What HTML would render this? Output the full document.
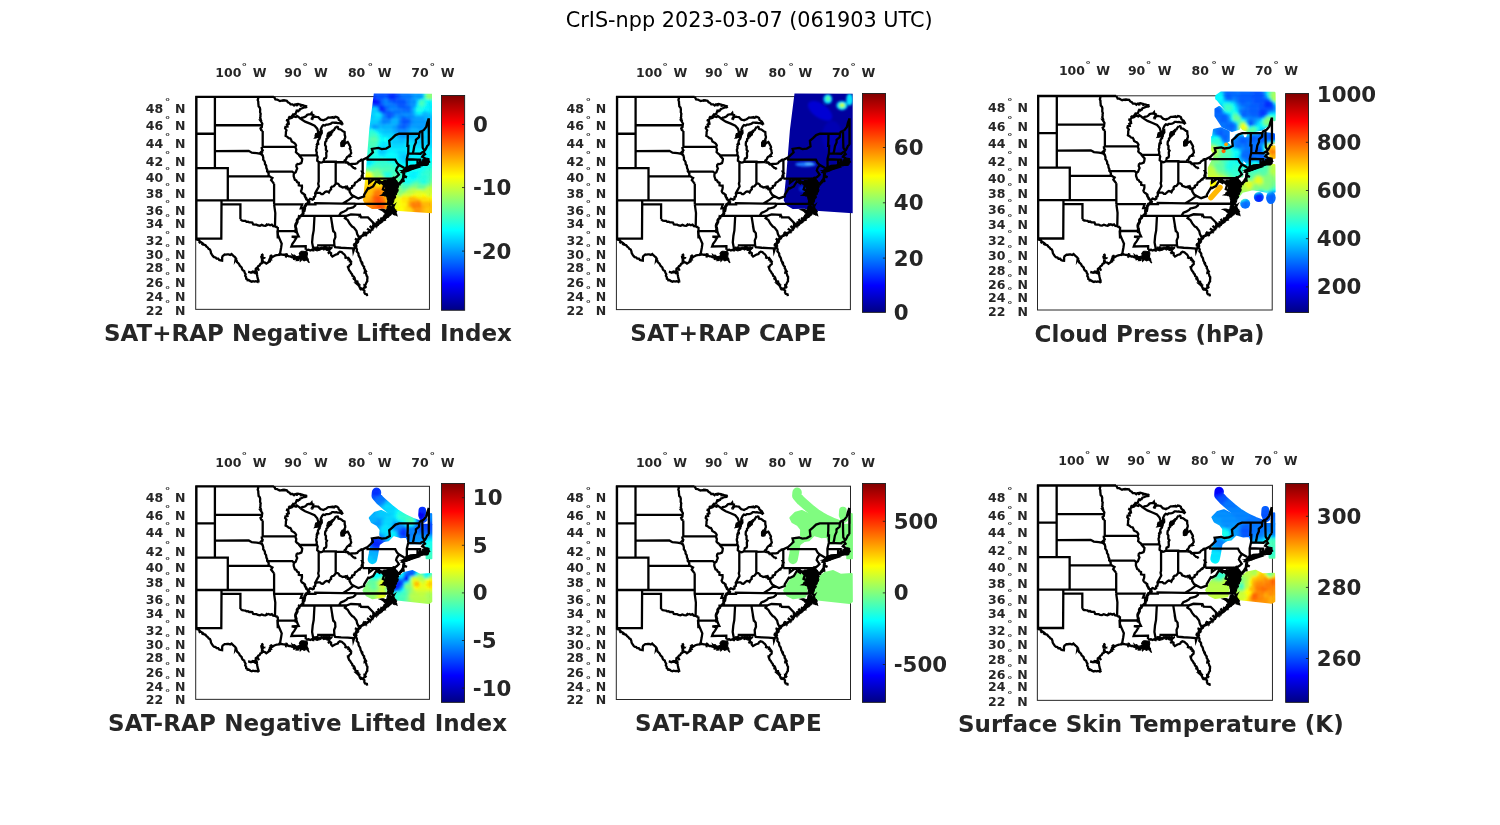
<!DOCTYPE html><html><head><meta charset="utf-8"><title>CrIS-npp 2023-03-07</title>
<style>html,body{margin:0;padding:0;background:#fff}svg{display:block}text{font-family:'DejaVu Sans','Liberation Sans',sans-serif;fill:#262626}.b{font-weight:bold}.l{font-weight:bold;font-size:12.5px}.t{font-weight:bold;font-size:21.33px}.d{font-weight:bold;font-size:8.8px;text-anchor:middle}</style></head><body>
<svg width="1500" height="825" viewBox="0 0 1500 825">
<defs><linearGradient id="jet" x1="0" y1="0" x2="0" y2="1"><stop offset="0.0000" stop-color="rgb(128,0,0)"/><stop offset="0.1270" stop-color="rgb(255,0,0)"/><stop offset="0.3770" stop-color="rgb(255,255,0)"/><stop offset="0.6270" stop-color="rgb(0,255,255)"/><stop offset="0.8770" stop-color="rgb(0,0,255)"/><stop offset="1.0000" stop-color="rgb(0,0,131)"/></linearGradient>
<path id="st" d="M0.0 143.3 L0.0 0.0 L77.5 0.0 M18.5 0.0 L18.5 71.2 M0.0 36.9 L18.5 36.9 M18.5 28.4 L65.6 28.4 M18.5 54.3 L52.3 54.0 L55.4 55.8 L60.4 56.3 L64.4 57.0 L66.6 59.0 M0.0 71.2 L31.4 71.2 L31.4 103.6 M31.4 79.5 L73.4 79.5 M0.0 103.6 L77.7 103.6 M25.1 103.6 L25.1 107.5 L24.9 141.7 L0.0 141.7 M77.7 107.5 L78.9 116.1 L78.6 129.4 M81.4 130.1 L81.4 141.7 L81.0 133.6 L81.3 137.6 L83.3 142.3 L85.3 146.9 L84.7 150.9 L83.7 156.3 L82.0 158.3 M81.4 134.2 L99.4 134.2 M65.3 50.0 L99.1 50.0 M70.5 74.7 L95.9 74.7 L97.8 76.4 M77.7 107.5 L105.8 107.5 L104.4 111.4 L108.6 111.4 M102.7 58.6 L120.6 58.6 M104.2 22.0 L108.7 24.8 L113.7 26.8 L118.2 28.8 L120.8 31.8 L122.0 35.8 L121.3 39.9 M126.9 64.9 L139.4 64.9 L139.4 65.4 L147.9 65.2 M122.3 65.2 L122.3 84.8 L121.8 86.8 L122.5 89.6 L120.9 92.5 L119.6 94.8 L118.7 96.4 L119.0 97.2 M139.3 65.4 L139.3 86.8 M166.3 81.8 L166.3 63.0 M166.3 81.8 L196.0 81.8 M166.3 63.0 L171.1 60.6 L171.1 62.8 L198.8 62.8 L200.6 66.2 L202.8 68.2 L201.6 69.6 L200.3 71.6 L199.7 73.7 L200.6 75.0 L202.5 77.8 L200.3 79.9 L198.3 81.1 L197.2 80.8 L196.0 81.8 M171.1 60.6 L176.5 55.6 L175.5 52.0 L182.1 51.1 L185.3 52.2 L189.7 51.7 L193.4 49.6 L192.8 43.9 L195.9 41.3 L199.1 38.2 L202.8 36.9 L222.9 36.8 L223.6 35.1 L225.6 34.2 L227.3 33.3 L229.8 30.2 L230.8 26.1 L232.4 21.5 M232.4 21.5 L232.4 47.8 M153.3 92.3 L153.2 94.8 L155.1 98.0 L157.2 99.3 L152.6 102.8 L146.4 106.7 M159.0 106.8 L146.4 106.7 L118.9 106.3 L119.0 107.5 L109.9 107.5 M159.0 106.8 L158.9 108.7 L156.7 110.6 L153.2 111.4 L151.3 111.8 L150.1 113.3 L147.6 114.7 L144.4 116.0 L142.4 119.2 M159.0 107.1 L195.5 107.1 M150.1 119.1 L104.9 119.1 M150.1 119.1 L148.5 121.4 L151.3 123.3 L153.2 126.7 L155.7 129.7 L157.3 130.5 L160.1 134.2 L160.8 137.2 L162.7 140.9 L164.2 141.5 M150.1 119.1 L154.5 117.6 L163.0 117.9 L163.1 118.8 L163.7 118.3 L164.7 120.5 L171.6 120.6 L178.7 127.8 M134.4 119.2 L137.0 135.2 L136.7 133.6 L138.7 136.3 L139.0 140.3 L137.7 143.6 L138.0 148.6 L138.7 150.4 L144.7 150.9 L151.3 151.3 L156.7 151.6 L157.0 154.3 L158.0 151.3 L159.0 150.3 M120.7 148.6 L138.0 148.6 M118.1 119.1 L117.3 133.6 L116.3 138.9 L115.7 145.6 L116.7 150.9 L118.0 153.6 M157.2 99.3 L162.0 101.6 L167.7 99.6 L167.7 98.0 L171.8 91.2 L172.7 91.6 L176.7 89.6 L179.9 84.4 L183.2 86.4 L183.9 85.0 M183.9 85.0 L180.9 81.9 L177.1 82.8 L172.8 86.0 L172.8 81.8 M183.9 85.0 L185.3 86.0 L187.8 88.4 L186.5 92.5 L189.0 93.7 L192.8 96.0 M196.0 81.8 L196.0 92.0 L200.6 92.0 M195.3 96.0 L199.4 95.4 M202.8 68.2 L207.9 71.2 M209.4 71.2 L210.5 69.6 L210.4 62.4 L211.8 56.5 L212.0 49.1 L211.0 49.1 L211.3 43.9 L211.4 36.8 M222.9 36.8 L222.6 40.4 L219.5 43.0 L219.5 45.7 L217.9 49.1 L217.0 54.3 L216.3 56.6 M211.8 56.5 L224.2 56.9 L224.5 56.5 L226.1 55.4 L227.2 55.4 M228.0 53.7 L226.3 50.9 L226.1 45.7 L225.9 34.2 M210.4 62.4 L221.1 62.7 L223.7 62.7 L223.7 63.7 L224.8 66.2 L225.3 67.0 M221.1 62.7 L221.1 67.9 L220.7 68.6 M232.4 47.8 L230.8 49.1 L229.8 51.3 L228.6 53.5 L228.0 53.7 L227.3 55.4 L228.6 57.3 L226.7 58.6 L225.8 59.9 L228.0 61.1 L228.3 63.3 L229.2 64.8 L232.4 64.7 M232.4 65.6 L228.3 66.9 L226.7 66.2 L228.0 65.1 L225.3 67.0 L223.6 67.5 L223.6 64.5 L222.9 68.1 L220.7 68.6 L214.1 69.1 L209.4 71.2 L208.5 72.9 L209.1 72.5 L217.9 70.0 L220.7 70.6 L207.6 74.7 L206.9 74.1 L205.7 75.4 L207.2 75.8 L206.6 81.5 L204.7 84.4 L201.6 88.2 L201.0 86.0 L198.4 84.0 L197.5 82.8 L198.3 81.1 M0.0 143.3 L0.0 142.7 L1.6 142.9 L2.8 143.7 L3.8 144.9 L2.4 146.2 L4.1 145.1 L5.1 145.7 L6.4 146.6 L5.4 148.2 L6.6 146.8 L7.5 147.8 L9.1 148.4 L10.1 149.7 L11.3 150.6 L12.2 152.0 L13.6 152.7 L14.3 154.4 L14.6 156.2 L15.5 157.8 L16.6 159.3 L17.6 160.3 L19.2 160.6 L20.2 161.8 L21.8 161.8 L22.8 163.1 L24.2 163.6 L25.7 163.8 L25.8 162.3 L25.7 160.7 L26.2 159.3 L28.2 157.7 L29.5 157.8 L30.9 157.6 L32.2 157.5 L33.8 158.1 L35.2 157.2 L36.2 158.3 L37.3 159.3 L38.4 160.1 L39.3 161.2 L39.1 162.9 L40.1 161.2 L39.3 163.2 L40.3 163.8 L40.6 165.3 L41.8 166.3 L42.8 167.4 L43.3 168.8 L44.3 169.7 L45.3 170.7 L45.6 172.2 L46.3 173.3 L47.8 174.2 L48.3 175.9 L49.2 177.3 L48.8 178.9 L49.7 180.3 L49.8 181.9 L51.3 182.7 L51.2 184.4 L51.6 182.9 L52.8 183.4 L54.0 184.3 L55.4 184.9 L56.6 184.3 L58.1 184.7 L59.4 184.4 L61.0 184.7 L62.4 185.7 M62.4 185.7 L62.1 184.4 L61.9 183.1 L61.4 181.9 L60.9 179.4 L60.6 177.6 L60.4 175.9 L58.9 176.3 L57.6 175.3 L57.1 173.7 L57.3 175.3 L56.2 174.7 L54.6 175.8 L53.2 175.4 L51.8 175.0 L53.2 175.2 L54.6 175.7 L55.9 175.3 L57.3 175.5 L58.6 174.9 L60.0 175.0 L59.3 173.5 L59.4 171.8 L60.9 170.8 L62.5 173.8 L61.1 170.6 L61.9 169.3 L63.3 168.5 L64.0 167.0 L65.4 166.3 L65.5 165.0 L65.6 163.6 L65.9 162.3 L65.6 160.9 L65.4 159.6 L65.9 158.3 L65.4 156.9 L66.2 158.2 L65.9 159.7 L63.9 160.1 L66.0 160.0 L66.9 161.0 L64.3 161.2 L67.0 161.3 L65.7 162.6 L66.2 164.0 L66.9 165.3 L68.6 165.7 L69.9 166.8 L72.0 165.3 L72.8 163.6 L73.8 165.5 L73.0 163.4 L74.5 162.8 L73.5 161.5 L74.5 159.8 L76.0 158.5 L74.4 159.5 L73.5 158.5 L74.4 159.6 L75.5 160.6 L77.5 159.3 L79.0 158.6 L80.5 158.2 L82.0 158.0 L83.5 157.7 M82.0 158.3 L83.5 157.8 L85.1 157.5 L86.7 157.9 L88.3 157.9 L89.6 159.2 L90.4 156.4 L89.9 159.3 L91.3 158.9 L92.6 159.6 L94.1 159.6 L95.3 160.3 L96.7 160.6 L97.8 161.7 L98.5 160.5 L98.1 161.8 L99.3 161.6 L100.8 162.9 L102.2 161.2 L101.0 163.0 L102.7 162.9 M100.0 133.6 L101.0 136.9 L102.3 139.6 L95.3 139.9 L100.0 140.9 L98.0 144.3 L96.0 146.9 L95.0 149.6 L109.3 149.3 L109.3 152.9 M109.3 152.9 L110.8 153.1 L112.3 152.9 L113.8 153.6 L115.3 152.9 L116.6 153.6 L118.0 153.6 M132.7 153.6 L133.2 155.3 L131.4 156.6 L133.4 155.5 L134.7 156.3 L134.7 158.2 L136.0 159.6 L137.3 158.9 L138.6 158.1 L140.0 157.6 L141.4 157.2 L142.0 155.9 L143.5 154.9 L145.3 155.3 L146.6 156.5 L148.0 157.6 L148.8 158.8 L149.3 160.2 L148.7 161.8 L149.5 160.5 L150.7 160.9 L152.2 161.6 L151.8 163.8 L152.5 161.8 L153.3 162.9 L154.2 164.2 L152.4 164.4 L154.3 164.5 L154.7 165.6 L154.6 167.3 L153.3 168.3 L152.3 169.8 L150.5 170.1 L152.2 170.1 L152.0 171.6 L152.7 173.4 L154.0 174.9 L154.6 176.3 L155.7 177.4 L156.0 178.9 L157.5 179.9 L158.1 181.4 L156.4 182.3 L158.3 181.6 L158.7 182.9 L159.1 184.4 L161.0 184.7 L161.3 186.3 L162.2 187.9 L164.0 188.6 L162.7 188.3 L161.8 187.1 L162.3 185.9 L161.5 187.0 L160.4 186.9 L161.7 188.0 L162.8 189.3 L163.4 190.9 L164.6 191.5 L163.4 192.9 L164.9 191.7 L165.6 192.5 L166.9 192.8 M159.0 150.3 L160.1 151.4 L160.6 152.7 L160.3 154.5 L161.3 155.6 L162.1 156.8 L162.1 158.4 L162.7 159.7 L163.6 160.9 L164.0 162.3 L164.2 163.7 L165.0 165.0 L165.4 166.3 L166.9 166.1 L165.5 166.6 L166.0 167.6 L166.7 168.9 L167.7 169.9 L167.6 171.4 L168.4 172.4 L168.6 173.8 L168.4 175.2 L170.5 173.9 L168.5 175.5 L169.3 176.3 L169.9 177.5 L170.2 178.9 L171.0 180.1 L171.0 181.6 L170.8 183.0 L170.9 184.4 L170.0 185.6 L169.4 187.2 L168.7 188.6 L168.9 187.9 L168.3 189.1 L170.0 190.9 L168.2 189.4 L168.3 190.5 L167.2 191.4 L166.9 192.8 M159.0 150.3 L160.0 149.1 L159.6 147.6 L160.0 146.3 L161.2 145.2 L161.7 143.5 L159.0 143.2 L161.8 143.3 L162.7 142.3 L163.8 141.6 L164.4 140.3 L165.4 139.4 L166.7 138.9 L167.9 138.3 L166.8 137.5 L168.1 138.2 L169.3 138.1 L167.9 135.2 L169.6 138.0 L170.1 136.9 L171.3 136.3 L172.4 134.9 L173.6 133.9 L170.7 131.8 L173.9 133.8 L175.3 133.6 M175.3 133.6 L175.6 131.9 L177.0 131.0 L177.3 129.5 L179.2 129.4 L176.3 126.0 L179.4 129.2 L179.5 128.0 L181.2 128.0 L180.1 124.5 L181.5 127.9 L182.5 126.9 L183.8 126.1 L181.5 122.2 L184.0 125.9 L185.1 125.2 L186.0 123.9 L187.2 123.2 L188.4 122.5 L189.0 121.1 L190.2 120.3 L191.6 119.9 L192.3 118.7 L193.3 117.8 L190.4 116.8 L193.5 117.5 L194.6 117.0 L194.7 115.4 L192.8 113.5 L194.8 115.1 L195.6 114.4 L196.8 115.2 L198.3 115.7 L198.9 112.5 L198.5 115.9 L199.0 117.1 L200.1 118.1 L199.4 116.9 L198.9 115.6 L196.3 117.5 L198.8 115.3 L198.6 114.2 L197.2 114.4 L198.5 113.9 L198.1 112.9 L197.3 111.5 L195.4 112.3 L197.2 111.2 L196.6 110.0 L196.6 108.3 L195.6 107.8 M208.0 75.8 L207.7 77.4 L206.4 77.1 L207.6 77.7 L207.8 79.0 L210.5 80.5 L207.7 79.3 L207.3 80.6 L206.9 81.8 L206.7 83.2 L205.6 84.1 L208.3 84.1 L205.5 84.4 L205.0 85.3 L203.5 86.6 L202.8 88.5 M166.9 192.8 L168.0 193.8 L167.9 195.7 L168.6 197.0 L170.5 197.5 L170.7 199.2 M25.1 107.5 L44.0 107.5 L44.0 122.5 M44.0 122.5 L45.8 123.8 L47.4 124.0 L49.0 124.1 L50.1 125.0 L51.6 124.8 L52.8 125.6 L54.3 125.6 L55.9 125.7 L56.8 127.6 L58.4 127.8 L60.1 127.8 L61.5 128.6 L63.5 128.9 L65.3 128.0 L67.1 128.7 L69.1 129.0 L70.6 128.2 L69.6 126.9 L70.9 128.1 L72.2 127.6 L73.8 128.4 L75.4 127.7 L76.7 129.2 L78.6 129.4 L79.9 130.2 L81.4 130.1 M93.6 21.1 L92.4 22.0 L91.7 23.7 L89.6 23.2 L91.7 24.0 L92.1 25.3 L90.8 26.1 L92.1 25.6 L92.4 27.0 L90.9 27.7 L90.0 26.8 L90.7 27.9 L91.1 29.7 L89.1 29.9 L88.7 31.5 L90.1 33.3 L89.5 35.0 L89.5 36.9 L89.2 39.1 L90.9 40.0 L92.3 41.3 L94.0 41.6 L94.8 43.0 L95.3 44.6 L96.7 45.4 L97.9 46.0 L98.9 47.0 L99.7 48.4 L99.1 50.0 L99.3 51.4 L99.9 52.6 L99.5 55.2 L100.8 56.6 L102.4 57.7 L102.7 58.5 L104.2 60.3 L105.8 62.0 L105.5 64.5 L104.9 66.2 L103.0 67.0 L101.5 67.3 L101.5 66.1 L101.2 67.4 L100.2 67.9 L99.9 69.6 L100.8 71.6 L99.9 73.7 L99.3 75.4 L97.8 76.4 L97.3 77.8 L97.3 79.5 L98.0 81.5 L98.5 83.0 L99.9 83.6 L100.7 85.2 L102.4 86.0 L102.4 88.4 L103.9 88.7 L105.5 88.8 L105.6 90.8 L105.3 92.5 L104.6 94.1 L105.1 95.4 L106.1 96.4 L107.4 97.2 L108.6 98.0 L108.8 99.8 L109.9 101.2 L110.5 102.8 L112.2 103.7 L112.6 105.3 L113.9 105.8 L112.6 105.6 L111.8 106.7 L109.9 107.5 L109.6 108.8 L108.6 109.8 L108.6 111.4 L108.3 112.8 L108.1 114.2 L107.1 115.2 L106.4 116.5 L106.1 117.9 L104.9 119.1 L103.4 119.8 L103.0 121.4 L101.7 122.3 L101.1 123.6 L101.1 125.2 L99.9 127.5 L99.2 128.9 L99.5 130.5 L100.1 132.4 L99.4 134.2 L100.0 136.1 M112.2 103.7 L113.7 102.0 L114.9 102.3 L116.2 102.8 L117.5 102.1 L117.4 100.3 L118.7 99.6 L119.0 97.2 L120.2 96.1 L121.8 96.0 L123.6 96.0 L125.0 97.2 L126.4 97.3 L127.5 96.4 L128.7 95.2 L130.0 94.5 L131.4 94.7 L132.5 95.6 L133.5 93.5 L134.7 92.5 L134.6 90.9 L135.6 89.8 L137.3 89.4 L138.4 88.2 L139.3 86.8 L141.3 86.8 L142.6 87.8 L143.2 89.2 L144.8 89.8 L146.3 90.6 L147.8 90.3 L149.4 90.7 L149.6 88.8 L149.7 90.6 L150.7 89.8 L151.6 91.5 L151.0 93.5 L151.8 91.7 L153.3 92.3 L154.4 91.4 L155.7 90.8 L155.7 89.2 L157.9 88.4 L158.6 86.0 L160.8 84.8 L161.8 83.7 L162.9 82.7 L163.5 84.1 L163.2 82.5 L164.2 81.9 L165.4 80.8 L165.2 79.2 L165.8 77.8 L166.3 76.1 L164.9 75.8 L166.3 75.8 L165.5 74.5 L166.3 74.2 M77.7 86.8 L76.8 85.8 L76.0 84.8 L74.7 83.2 L76.0 81.1 L74.6 80.4 L73.4 79.5 L72.1 78.6 L72.3 76.9 L71.7 75.6 L70.7 74.5 L70.8 72.8 L70.0 71.2 L69.7 68.7 L68.6 67.2 L68.5 65.4 L67.8 64.0 L66.8 62.8 L66.9 61.1 L66.3 58.7 L65.3 56.9 L65.1 55.0 L66.8 54.6 L65.1 54.7 L66.3 53.5 L65.4 51.8 L65.3 50.0 M77.7 107.5 L77.7 86.8 M66.3 50.0 L66.3 34.2 M66.3 34.2 L64.7 33.2 L64.1 31.5 L65.4 30.3 L65.6 28.4 L65.9 26.8 L65.1 25.4 L64.2 24.0 L65.6 24.3 L64.2 23.7 L64.4 22.4 L63.7 21.1 L64.1 19.7 L64.0 18.3 L64.3 16.9 L63.7 15.5 L63.7 14.1 L63.8 12.4 L63.4 10.8 L62.2 9.5 L62.1 7.9 L61.9 6.3 L61.9 4.8 L61.3 3.2 L61.8 1.6 L61.4 0.0 M104.2 22.0 L105.7 20.8 L107.1 20.6 L108.5 20.1 L109.7 19.2 L110.8 18.0 L112.4 17.6 L114.1 17.5 L115.2 16.2 L115.5 17.7 L116.9 18.2 L116.5 19.8 L115.7 21.3 L117.0 21.4 L115.6 21.6 L115.7 23.0 L116.1 21.5 L117.0 20.5 L118.2 19.7 L120.0 20.0 L121.8 20.2 L123.0 21.5 L124.3 22.8 L125.6 23.1 L127.0 23.5 L128.3 22.8 L129.6 22.4 L130.7 21.5 L131.9 20.7 L133.3 20.8 L134.7 20.6 L136.2 20.8 L135.9 19.3 L136.5 20.8 L137.6 21.0 L138.9 19.9 L140.4 20.2 L141.9 21.2 L142.4 23.0 L143.5 23.8 L144.7 24.6 L145.4 25.8 L146.4 27.8 M146.4 27.8 L145.2 27.1 L145.8 26.0 L144.9 27.0 L144.0 26.4 L142.6 26.2 L141.2 26.2 L139.9 25.8 L138.5 25.9 L137.2 25.7 L135.8 25.8 L134.5 26.8 L133.0 27.4 L131.5 27.7 L129.8 27.8 L128.6 28.7 L126.9 28.2 L125.8 29.3 L125.0 30.8 L124.3 32.3 L124.4 34.2 L123.3 35.8 L122.3 37.2 L122.0 38.9 M121.8 36.0 L120.5 37.1 L120.2 39.0 L119.3 40.4 L120.8 40.1 L121.6 38.8 L122.5 37.7 L123.6 36.9 L124.2 35.5 L125.3 34.6 L125.4 36.2 L124.6 37.4 L123.7 38.6 L123.3 40.1 L121.9 39.2 L123.2 40.4 L123.2 41.8 L122.1 43.0 L121.5 44.3 L121.5 45.7 L120.9 46.9 L122.9 46.7 L120.8 47.2 L120.9 48.3 L120.2 49.7 L120.4 51.3 L119.8 52.7 L119.9 54.3 L120.4 55.7 L120.2 57.2 L120.6 58.6 L121.3 60.2 L120.9 62.0 L120.8 63.8 L122.1 64.9 L124.3 65.8 L125.7 65.5 L126.9 64.9 M126.9 64.9 L127.4 63.4 L127.8 61.8 L129.6 61.0 L130.0 59.4 L129.9 57.7 L129.8 55.9 L130.6 54.3 L129.5 53.0 L129.5 51.4 L129.6 49.7 L128.7 48.3 L128.7 46.7 L128.9 45.2 L130.0 43.9 L130.0 42.3 L131.4 41.1 L131.3 39.5 L132.7 39.1 L133.5 37.9 L134.4 36.9 L135.6 35.1 L136.1 33.7 L137.6 33.2 L138.2 31.9 L139.7 29.9 M139.7 29.9 L141.4 30.2 L142.1 32.2 L143.8 32.4 L145.2 33.3 L146.6 34.5 L148.2 35.1 L148.3 36.6 L148.3 38.1 L148.8 39.5 L148.8 41.0 L148.1 42.4 L148.2 43.9 L146.9 44.4 L145.9 45.3 L146.4 47.2 L145.6 45.5 L145.1 46.5 L145.1 48.7 L146.9 48.3 L148.2 47.0 L149.7 45.9 L151.3 45.2 L152.1 46.5 L152.7 47.9 L153.5 49.1 L154.0 50.4 L153.4 51.8 L154.2 53.0 L154.4 54.3 L154.8 56.1 L153.9 57.7 L153.2 59.1 L151.7 58.5 L153.0 59.3 L151.8 59.5 L150.7 60.3 L150.0 61.5 L149.5 62.8 L148.2 63.7 L147.9 65.2 M110.7 9.7 L109.4 10.5 L107.8 10.6 L106.4 11.1 L105.1 11.7 L103.7 12.2 L103.0 13.5 L101.4 13.6 L102.5 14.9 L101.1 13.8 L100.1 14.3 L99.6 15.7 L99.1 17.1 L97.5 17.4 L96.4 18.1 L96.9 20.2 L96.2 18.3 L95.6 19.2 L94.6 20.3 L93.0 20.2 L92.1 21.3 M92.1 21.3 L93.9 21.5 L95.6 20.8 L96.7 19.8 L98.0 19.7 L99.6 20.2 L100.6 19.2 L102.1 20.2 L103.2 21.0 L104.2 22.0 M147.9 65.2 L149.3 65.7 L150.9 65.8 L152.0 67.0 L153.7 67.3 L155.3 67.0 L157.0 67.0 L158.9 67.0 L160.8 66.5 L162.0 64.9 L163.4 64.1 L164.8 63.4 L164.5 62.0 L165.0 63.3 L166.3 63.0 M77.5 0.1 L78.4 1.3 L79.0 2.6 L80.7 2.7 L82.1 3.5 L83.5 4.2 L85.2 3.7 L86.9 3.8 L87.2 2.4 L87.2 3.8 L88.6 3.6 L90.4 3.9 L91.5 5.4 L93.1 6.2 L94.2 7.6 L96.2 7.6 L97.6 8.7 L98.7 7.6 L100.2 7.5 L100.5 9.4 L100.5 7.4 L101.6 7.2 L103.0 7.6 L104.3 7.9 L104.7 9.9 L104.6 7.9 L105.7 8.2 L106.9 8.6 L108.1 9.1 L109.5 9.2 L110.7 9.7 M148.8 64.0 L149.6 65.2 L151.1 65.5 L152.2 66.3 L152.7 67.8 L154.5 67.8 L155.2 69.1 L156.2 70.1 L157.2 71.0 L158.7 71.3 L159.4 72.6 M174.8 133.1 L176.0 132.1 L173.4 129.1 L176.2 131.8 L176.5 130.5 L177.0 129.3 L175.7 128.9 L177.2 129.0 L178.3 128.6 L179.0 127.5 L180.4 126.5 L182.0 126.5 L183.1 125.3 L184.7 124.9 L183.5 123.7 L184.9 124.7 L185.5 123.5 L187.1 123.2 L183.9 121.2 L187.3 123.1 L188.0 122.2 L188.7 120.9 L187.4 120.1 L189.0 120.7 L189.8 120.0 L191.1 119.4 L192.3 118.7 L188.4 117.7 L192.5 118.4 L192.7 117.2 L194.0 116.5 L194.8 115.4 L190.6 115.0 L195.0 115.2 L195.1 113.9 L196.3 114.8 L196.9 112.2 L196.5 115.0 L197.5 115.7 L198.3 116.9 L199.9 113.8 L198.6 117.1 L199.6 117.6 L199.2 116.3 L196.3 117.4 L199.1 116.0 L199.1 114.8 L196.5 114.4 L199.0 114.5 L197.5 114.0 L193.8 113.4 L197.3 113.7 L197.6 112.4 L196.5 111.1 L193.5 112.0 L196.4 110.8 L197.2 109.2 L195.9 110.2 L197.1 108.9 L196.1 107.9 L195.1 107.4 M158.5 149.8 L158.3 148.4 L156.6 148.5 L158.4 148.1 L159.4 147.2 L157.1 147.5 L159.5 146.9 L159.5 145.8 L161.0 144.9 L159.1 143.9 L161.1 144.6 L161.7 143.4 L158.5 141.9 L161.9 143.2 L162.2 141.8 L162.9 140.7 L163.7 139.6 L165.0 139.1 L166.2 138.5 L167.3 137.8 L166.0 136.9 L167.6 137.6 L168.2 136.7 L166.7 135.3 L168.5 136.5 L169.8 136.7 L168.1 135.7 L170.1 136.6 L170.8 135.8 L172.3 135.1 L173.9 134.6 L173.6 132.6 L174.1 134.4 L174.8 133.2 M105.5 96.2 L106.9 96.7 L108.0 97.8 L108.4 99.5 L109.3 101.0 L109.9 102.5 L111.6 103.5 L111.6 105.0 L111.2 106.5 L109.3 107.2 L108.8 108.5 L108.0 109.6 L108.0 111.1 L107.0 112.2 L106.4 113.5 L106.4 115.0 L106.6 116.6 L105.3 116.3 L106.5 116.9 L105.5 117.7 L104.2 118.9 L102.8 119.6 L104.0 121.0 L102.6 119.8 L102.4 121.2 L101.1 122.1 L100.4 123.4 L100.5 125.0 L99.2 127.2 L98.8 128.7 L98.9 130.3 L99.4 132.2 L98.8 134.0 L99.3 135.9" fill="none" stroke="#000" stroke-width="2.3" stroke-linejoin="miter" stroke-miterlimit="5" stroke-linecap="butt"/>
<path id="bl" d="M103.8 155.4 L105.1 154.4 L106.7 154.4 L108.7 154.6 L110.6 154.9 L111.1 156.8 L110.6 159.2 L110.8 160.8 L111.8 162.1 L111.9 163.5 L112.3 164.8 L113.0 166.0 L111.8 165.1 L111.0 163.7 L109.6 163.1 L107.7 164.0 L105.8 162.6 L104.8 163.5 L103.8 164.5 L103.4 162.1 L101.0 161.9 L99.3 161.8 L98.1 160.7 L97.1 159.7 L95.8 159.0 L95.4 157.5 L96.6 158.5 L98.1 158.2 L99.5 159.6 L101.4 159.7 L103.8 158.7 L102.9 156.8 L103.8 155.4Z M118.3 150.3 L119.7 150.4 L121.0 149.8 L122.3 151.0 L123.7 150.9 L125.0 150.2 L126.3 150.5 L127.7 149.8 L129.0 149.8 L130.3 149.9 L131.7 150.6 L133.0 149.8 L134.3 151.0 L135.7 150.3 L135.7 151.1 L134.5 152.3 L133.0 153.6 L131.4 153.9 L130.0 153.3 L128.7 152.5 L127.4 153.2 L126.0 152.2 L124.7 152.7 L123.4 153.3 L122.0 153.6 L120.7 154.0 L118.4 153.2 L118.1 151.7 L118.3 150.3Z M191.2 109.1 L192.9 108.5 L194.6 109.1 L195.2 110.4 L196.4 111.3 L196.4 113.0 L197.2 114.2 L198.1 115.3 L198.5 116.7 L199.3 117.8 L198.3 117.0 L196.8 116.8 L196.2 115.4 L195.1 114.6 L194.2 115.8 L193.5 117.1 L192.2 118.1 L191.9 119.7 L190.6 120.1 L189.8 121.3 L188.8 122.3 L187.7 123.1 L186.3 123.4 L184.6 124.4 L183.5 126.0 L182.2 124.8 L183.4 123.9 L184.4 122.8 L185.2 121.6 L186.3 120.6 L187.1 119.6 L187.6 118.3 L188.8 117.5 L189.6 116.5 L188.1 116.2 L187.2 114.8 L186.1 114.1 L184.9 113.3 L183.5 112.8 L185.2 112.5 L186.8 112.4 L188.4 112.9 L190.0 113.2 L190.7 111.9 L190.8 110.4 L191.2 109.1Z M184.7 84.4 L186.2 84.7 L187.5 83.6 L189.0 83.7 L190.4 83.4 L191.7 82.7 L193.2 82.0 L194.7 81.4 L196.4 81.8 L198.8 81.9 L199.3 83.2 L200.5 84.1 L200.8 85.4 L201.2 86.7 L201.1 88.5 L202.2 90.0 L201.2 91.3 L201.8 93.2 L201.4 94.7 L200.3 96.1 L200.1 97.5 L198.7 98.5 L199.3 100.3 L198.4 101.5 L197.5 102.6 L197.3 104.4 L196.6 106.0 L195.4 107.3 L194.1 107.3 L192.8 107.8 L191.5 107.3 L191.2 105.6 L191.5 103.8 L190.9 102.2 L190.7 100.5 L189.8 99.2 L188.5 99.1 L187.3 98.4 L186.0 98.5 L184.7 98.4 L186.2 97.7 L186.9 95.9 L188.4 95.1 L188.7 93.2 L189.3 91.4 L188.7 90.0 L188.4 88.4 L187.0 87.4 L186.0 85.8 L184.7 84.4Z M204.7 73.8 L206.4 73.4 L207.7 72.4 L208.7 71.0 L210.1 70.9 L211.2 69.8 L212.7 69.8 L214.0 69.4 L215.4 69.8 L216.7 69.7 L218.0 69.1 L219.2 68.1 L220.6 68.0 L222.1 68.8 L223.2 67.4 L224.7 67.7 L226.0 68.0 L227.3 67.5 L228.7 67.7 L230.7 68.6 L229.2 68.5 L227.6 68.3 L226.2 68.8 L224.7 69.0 L223.4 69.6 L222.1 70.2 L220.6 70.3 L219.3 70.8 L218.0 71.5 L216.7 72.2 L215.4 72.7 L214.0 73.1 L212.8 74.1 L211.3 74.3 L209.8 75.1 L208.1 75.0 L206.4 74.3 L204.7 73.8Z M226.0 62.9 L227.7 62.6 L228.8 61.3 L230.7 61.4 L232.6 61.9 L232.6 63.6 L233.4 65.1 L232.1 65.8 L232.0 67.5 L231.0 68.4 L229.5 67.1 L227.7 66.5 L225.5 65.4 L226.0 62.9Z M119.3 36.6 L121.2 36.4 L123.0 35.5 L123.1 37.2 L124.3 38.5 L124.3 40.2 L123.0 41.2 L121.2 40.4 L119.3 40.9 L118.6 39.0 L119.3 36.6Z M131.0 36.6 L132.1 35.4 L133.7 35.0 L134.9 34.1 L136.7 35.0 L135.3 36.3 L135.3 38.2 L133.9 39.0 L132.9 40.2 L130.5 39.6 L130.7 38.1 L131.0 36.6Z M145.4 44.6 L146.8 43.4 L148.6 43.2 L148.5 44.7 L149.3 45.9 L148.1 47.4 L148.1 49.2 L146.8 49.7 L145.4 49.8 L144.6 48.5 L144.5 47.1 L144.5 45.7 L145.4 44.6Z" fill="#000" stroke="#000" stroke-width="1.1" stroke-linejoin="miter" stroke-miterlimit="5"/>
<filter id="bl1" x="-10%" y="-10%" width="120%" height="120%"><feGaussianBlur stdDeviation="1.3"/></filter><filter id="bl0" x="-10%" y="-10%" width="120%" height="120%"><feGaussianBlur stdDeviation="0.5"/></filter><clipPath id="cq"><polygon points="177.4,-3.4 235.6,-3.2 235.6,116.3 198.6,113.8 187.1,111.8 175.6,112.2 169.6,108.7 166.6,103.7 169.4,75.2 172.8,33.2" fill="#fff"/></clipPath><mask id="m456" maskUnits="userSpaceOnUse" x="150" y="-10" width="100" height="140"><g filter="url(#bl0)"><polyline points="180.1,5.9 179.8,9.5 184.1,14.4 189.5,19.2 194.4,23.4 199.2,27.1 204.1,30.1 209.5,33.1 215.0,35.6 221.0,38.0" fill="none" stroke="#fff" stroke-width="9.4" stroke-linecap="round" stroke-linejoin="round"/><polygon points="173.6,31.6 178.6,26.6 184.7,24.8 190.5,27.6 200.4,32.5 212.5,37.4 218.6,40.4 201.6,39.0 194.4,42.2 191.9,48.6 184.1,48.6 184.7,43.4 181.0,38.6 175.6,35.6" fill="#fff"/><polyline points="173.6,31.6 178.6,26.6 184.7,24.8 190.5,27.6 200.4,32.5 212.5,37.4 218.6,40.4 201.6,39.0 194.4,42.2 191.9,48.6 184.1,48.6 184.7,43.4 181.0,38.6 175.6,35.6 173.6,31.6" fill="none" stroke="#fff" stroke-width="2.5" stroke-linecap="round" stroke-linejoin="round"/><polygon points="184.0,38.0 235.2,38.0 235.2,72.0 230.0,72.0 229.5,57.0 212.5,57.0 210.0,50.5 204.0,51.0 197.0,49.0 192.0,54.0 186.0,55.0 184.0,47.5" fill="#fff"/><polyline points="184.0,38.0 235.2,38.0 235.2,72.0 230.0,72.0 229.5,57.0 212.5,57.0 210.0,50.5 204.0,51.0 197.0,49.0 192.0,54.0 186.0,55.0 184.0,47.5 184.0,38.0" fill="none" stroke="#fff" stroke-width="1.5" stroke-linecap="round" stroke-linejoin="round"/><polyline points="195.6,45.9 176.2,59.8" fill="none" stroke="#fff" stroke-width="6.5" stroke-linecap="round" stroke-linejoin="round"/><polyline points="179.0,56.0 178.0,62.0 177.0,68.0 176.0,73.0" fill="none" stroke="#fff" stroke-width="9.5" stroke-linecap="round" stroke-linejoin="round"/><polyline points="225.9,24.1 225.6,28.9 227.1,32.5" fill="none" stroke="#fff" stroke-width="7.6" stroke-linecap="round" stroke-linejoin="round"/><polyline points="234.6,27.7 234.7,38.0" fill="none" stroke="#fff" stroke-width="2.4" stroke-linecap="round" stroke-linejoin="round"/><polygon points="167.1,104.1 171.3,96.8 176.2,90.7 181.0,87.1 186.5,88.9 189.5,93.8 189.5,105.3 188.3,110.1 176.2,111.9 170.1,108.9" fill="#fff"/><polyline points="167.1,104.1 171.3,96.8 176.2,90.7 181.0,87.1 186.5,88.9 189.5,93.8 189.5,105.3 188.3,110.1 176.2,111.9 170.1,108.9 167.1,104.1" fill="none" stroke="#fff" stroke-width="2" stroke-linecap="round" stroke-linejoin="round"/><polygon points="196.8,102.8 202.8,90.7 207.7,86.5 216.2,84.7 223.5,88.3 234.7,87.7 234.9,115.0 232.6,116.5 200.4,113.1 196.8,107.7" fill="#fff"/><polyline points="196.8,102.8 202.8,90.7 207.7,86.5 216.2,84.7 223.5,88.3 234.7,87.7 234.9,115.0 232.6,116.5 200.4,113.1 196.8,107.7 196.8,102.8" fill="none" stroke="#fff" stroke-width="2" stroke-linecap="round" stroke-linejoin="round"/></g></mask><mask id="m3" maskUnits="userSpaceOnUse" x="150" y="-15" width="100" height="140"><g filter="url(#bl0)"><polygon points="178.3,0.0 182.8,-3.2 236.1,-2.9 236.2,2.7 236.2,24.0 233.5,21.9 229.7,29.3 222.8,33.6 210.5,36.0 204.1,26.1 196.7,17.6 184.4,5.9 178.3,2.7" fill="#fff"/><polyline points="178.3,0.0 182.8,-3.2 236.1,-2.9 236.2,2.7 236.2,24.0 233.5,21.9 229.7,29.3 222.8,33.6 210.5,36.0 204.1,26.1 196.7,17.6 184.4,5.9 178.3,2.7 178.3,0.0" fill="none" stroke="#fff" stroke-width="2.5" stroke-linecap="round" stroke-linejoin="round"/><polygon points="177.5,13.3 181.2,11.2 188.1,17.1 198.8,26.1 200.9,32.5 193.5,34.7 184.4,30.4 177.5,19.7" fill="#fff"/><polyline points="177.5,13.3 181.2,11.2 188.1,17.1 198.8,26.1 200.9,32.5 193.5,34.7 184.4,30.4 177.5,19.7 177.5,13.3" fill="none" stroke="#fff" stroke-width="2.5" stroke-linecap="round" stroke-linejoin="round"/><polyline points="181.2,1.6 189.2,11.7 198.8,21.9 206.3,30.9 213.7,33.6" fill="none" stroke="#fff" stroke-width="7.5" stroke-linecap="round" stroke-linejoin="round"/><polygon points="176.0,34.0 183.0,32.6 190.3,36.0 190.3,44.8 181.0,44.8 175.1,40.0" fill="#fff"/><polyline points="176.0,34.0 183.0,32.6 190.3,36.0 190.3,44.8 181.0,44.8 175.1,40.0 176.0,34.0" fill="none" stroke="#fff" stroke-width="2.5" stroke-linecap="round" stroke-linejoin="round"/><polygon points="173.9,41.1 181.2,39.9 189.1,47.2 195.7,53.2 204.2,58.1 204.2,80.5 170.5,80.5 170.5,72.0 173.9,65.4 177.0,59.3 173.9,54.5" fill="#fff"/><polyline points="173.9,41.1 181.2,39.9 189.1,47.2 195.7,53.2 204.2,58.1 204.2,80.5 170.5,80.5 170.5,72.0 173.9,65.4 177.0,59.3 173.9,54.5 173.9,41.1" fill="none" stroke="#fff" stroke-width="2" stroke-linecap="round" stroke-linejoin="round"/><polygon points="198.2,38.7 204.0,37.5 205.5,42.0 208.5,42.0 210.0,37.3 228.5,36.9 236.0,38.1 236.2,47.2 230.3,49.6 228.5,67.8 210.3,69.0 204.2,62.9 193.3,57.5 195.7,50.2 193.3,46.0" fill="#fff"/><polyline points="198.2,38.7 204.0,37.5 205.5,42.0 208.5,42.0 210.0,37.3 228.5,36.9 236.0,38.1 236.2,47.2 230.3,49.6 228.5,67.8 210.3,69.0 204.2,62.9 193.3,57.5 195.7,50.2 193.3,46.0 198.2,38.7" fill="none" stroke="#fff" stroke-width="1.5" stroke-linecap="round" stroke-linejoin="round"/><polygon points="231.5,50.8 236.2,50.3 236.4,61.7 231.5,62.7" fill="#fff"/><polyline points="231.5,50.8 236.2,50.3 236.4,61.7 231.5,62.7 231.5,50.8" fill="none" stroke="#fff" stroke-width="2" stroke-linecap="round" stroke-linejoin="round"/><polygon points="204.2,69.0 236.2,69.0 236.4,95.7 228.5,95.7 214.5,93.2 204.2,95.7 198.2,103.0 200.6,93.2 205.4,87.2 210.3,78.1" fill="#fff"/><polyline points="204.2,69.0 236.2,69.0 236.4,95.7 228.5,95.7 214.5,93.2 204.2,95.7 198.2,103.0 200.6,93.2 205.4,87.2 210.3,78.1 204.2,69.0" fill="none" stroke="#fff" stroke-width="2" stroke-linecap="round" stroke-linejoin="round"/><polygon points="172.7,86.0 177.6,86.0 177.6,89.6 172.7,89.6" fill="#fff"/><polyline points="172.7,86.0 177.6,86.0 177.6,89.6 172.7,89.6 172.7,86.0" fill="none" stroke="#fff" stroke-width="2" stroke-linecap="round" stroke-linejoin="round"/><polyline points="181.8,91.4 172.7,101.7" fill="none" stroke="#fff" stroke-width="5.5" stroke-linecap="round" stroke-linejoin="round"/><circle cx="207" cy="107.8" r="5" fill="#fff"/><circle cx="220.6" cy="101.1" r="5" fill="#fff"/><ellipse cx="232.7" cy="101.7" rx="4.8" ry="6.4" fill="#fff"/></g></mask>
</defs>
<rect width="1500" height="825" fill="#fff"/>
<text x="749.2" y="26.7" text-anchor="middle" font-size="20.8" style="fill:#000">CrIS-npp 2023-03-07 (061903 UTC)</text>
<rect x="195.70" y="96.60" width="233.75" height="212.75" fill="none" stroke="#262626" stroke-width="1"/>
<g transform="translate(196.40,96.85) scale(1)">
<g clip-path="url(#cq)"><g filter="url(#bl1)"><rect x="160" y="-10" width="2.9" height="2.9" fill="#0082ff"/><rect x="162.5" y="-10" width="5.4" height="2.9" fill="#0075ff"/><rect x="167.5" y="-10" width="2.9" height="2.9" fill="#0069ff"/><rect x="170" y="-10" width="7.9" height="2.9" fill="#005dff"/><rect x="177.5" y="-10" width="22.9" height="2.9" fill="#0051ff"/><rect x="200" y="-10" width="2.9" height="2.9" fill="#005dff"/><rect x="202.5" y="-10" width="2.9" height="2.9" fill="#0069ff"/><rect x="205" y="-10" width="2.9" height="2.9" fill="#0075ff"/><rect x="207.5" y="-10" width="5.4" height="2.9" fill="#0082ff"/><rect x="212.5" y="-10" width="2.9" height="2.9" fill="#008eff"/><rect x="215" y="-10" width="2.9" height="2.9" fill="#009aff"/><rect x="217.5" y="-10" width="2.9" height="2.9" fill="#00a6ff"/><rect x="220" y="-10" width="2.9" height="2.9" fill="#00b2ff"/><rect x="222.5" y="-10" width="2.9" height="2.9" fill="#00cbff"/><rect x="225" y="-10" width="2.9" height="2.9" fill="#00e3ff"/><rect x="227.5" y="-10" width="2.9" height="2.9" fill="#09fff6"/><rect x="230" y="-10" width="2.9" height="2.9" fill="#2effd1"/><rect x="232.5" y="-10" width="5.4" height="2.9" fill="#46ffb9"/><rect x="237.5" y="-10" width="2.9" height="2.9" fill="#3affc5"/><rect x="240" y="-10" width="2.9" height="2.9" fill="#2effd1"/><rect x="160" y="-7.5" width="2.9" height="2.9" fill="#0082ff"/><rect x="162.5" y="-7.5" width="2.9" height="2.9" fill="#0075ff"/><rect x="165" y="-7.5" width="5.4" height="2.9" fill="#0069ff"/><rect x="170" y="-7.5" width="2.9" height="2.9" fill="#005dff"/><rect x="172.5" y="-7.5" width="17.9" height="2.9" fill="#0051ff"/><rect x="190" y="-7.5" width="5.4" height="2.9" fill="#0044ff"/><rect x="195" y="-7.5" width="2.9" height="2.9" fill="#0038ff"/><rect x="197.5" y="-7.5" width="2.9" height="2.9" fill="#0044ff"/><rect x="200" y="-7.5" width="2.9" height="2.9" fill="#0051ff"/><rect x="202.5" y="-7.5" width="2.9" height="2.9" fill="#0069ff"/><rect x="205" y="-7.5" width="5.4" height="2.9" fill="#0075ff"/><rect x="210" y="-7.5" width="5.4" height="2.9" fill="#0082ff"/><rect x="215" y="-7.5" width="2.9" height="2.9" fill="#009aff"/><rect x="217.5" y="-7.5" width="2.9" height="2.9" fill="#00a6ff"/><rect x="220" y="-7.5" width="5.4" height="2.9" fill="#00b2ff"/><rect x="225" y="-7.5" width="2.9" height="2.9" fill="#00d7ff"/><rect x="227.5" y="-7.5" width="2.9" height="2.9" fill="#22ffdd"/><rect x="230" y="-7.5" width="2.9" height="2.9" fill="#53ffac"/><rect x="232.5" y="-7.5" width="2.9" height="2.9" fill="#6bff94"/><rect x="235" y="-7.5" width="2.9" height="2.9" fill="#5fffa0"/><rect x="237.5" y="-7.5" width="2.9" height="2.9" fill="#53ffac"/><rect x="240" y="-7.5" width="2.9" height="2.9" fill="#3affc5"/><rect x="160" y="-5" width="2.9" height="2.9" fill="#0082ff"/><rect x="162.5" y="-5" width="2.9" height="2.9" fill="#0075ff"/><rect x="165" y="-5" width="2.9" height="2.9" fill="#0069ff"/><rect x="167.5" y="-5" width="5.4" height="2.9" fill="#005dff"/><rect x="172.5" y="-5" width="17.9" height="2.9" fill="#0051ff"/><rect x="190" y="-5" width="2.9" height="2.9" fill="#0044ff"/><rect x="192.5" y="-5" width="2.9" height="2.9" fill="#0038ff"/><rect x="195" y="-5" width="2.9" height="2.9" fill="#002cff"/><rect x="197.5" y="-5" width="2.9" height="2.9" fill="#0038ff"/><rect x="200" y="-5" width="2.9" height="2.9" fill="#0051ff"/><rect x="202.5" y="-5" width="2.9" height="2.9" fill="#0069ff"/><rect x="205" y="-5" width="7.9" height="2.9" fill="#0075ff"/><rect x="212.5" y="-5" width="2.9" height="2.9" fill="#0082ff"/><rect x="215" y="-5" width="2.9" height="2.9" fill="#008eff"/><rect x="217.5" y="-5" width="2.9" height="2.9" fill="#00a6ff"/><rect x="220" y="-5" width="5.4" height="2.9" fill="#009aff"/><rect x="225" y="-5" width="2.9" height="2.9" fill="#00bfff"/><rect x="227.5" y="-5" width="2.9" height="2.9" fill="#2effd1"/><rect x="230" y="-5" width="2.9" height="2.9" fill="#77ff88"/><rect x="232.5" y="-5" width="2.9" height="2.9" fill="#84ff7b"/><rect x="235" y="-5" width="2.9" height="2.9" fill="#77ff88"/><rect x="237.5" y="-5" width="2.9" height="2.9" fill="#5fffa0"/><rect x="240" y="-5" width="2.9" height="2.9" fill="#46ffb9"/><rect x="160" y="-2.5" width="2.9" height="2.9" fill="#0082ff"/><rect x="162.5" y="-2.5" width="2.9" height="2.9" fill="#0075ff"/><rect x="165" y="-2.5" width="2.9" height="2.9" fill="#0069ff"/><rect x="167.5" y="-2.5" width="2.9" height="2.9" fill="#005dff"/><rect x="170" y="-2.5" width="2.9" height="2.9" fill="#0051ff"/><rect x="172.5" y="-2.5" width="7.9" height="2.9" fill="#0044ff"/><rect x="180" y="-2.5" width="10.4" height="2.9" fill="#0051ff"/><rect x="190" y="-2.5" width="2.9" height="2.9" fill="#0044ff"/><rect x="192.5" y="-2.5" width="5.4" height="2.9" fill="#002cff"/><rect x="197.5" y="-2.5" width="2.9" height="2.9" fill="#0038ff"/><rect x="200" y="-2.5" width="2.9" height="2.9" fill="#0044ff"/><rect x="202.5" y="-2.5" width="2.9" height="2.9" fill="#005dff"/><rect x="205" y="-2.5" width="10.4" height="2.9" fill="#0075ff"/><rect x="215" y="-2.5" width="2.9" height="2.9" fill="#008eff"/><rect x="217.5" y="-2.5" width="7.9" height="2.9" fill="#009aff"/><rect x="225" y="-2.5" width="2.9" height="2.9" fill="#00a6ff"/><rect x="227.5" y="-2.5" width="2.9" height="2.9" fill="#46ffb9"/><rect x="230" y="-2.5" width="5.4" height="2.9" fill="#90ff6f"/><rect x="235" y="-2.5" width="2.9" height="2.9" fill="#84ff7b"/><rect x="237.5" y="-2.5" width="2.9" height="2.9" fill="#5fffa0"/><rect x="240" y="-2.5" width="2.9" height="2.9" fill="#46ffb9"/><rect x="160" y="0" width="2.9" height="2.9" fill="#0082ff"/><rect x="162.5" y="0" width="2.9" height="2.9" fill="#0075ff"/><rect x="165" y="0" width="2.9" height="2.9" fill="#0069ff"/><rect x="167.5" y="0" width="2.9" height="2.9" fill="#005dff"/><rect x="170" y="0" width="2.9" height="2.9" fill="#0051ff"/><rect x="172.5" y="0" width="2.9" height="2.9" fill="#0038ff"/><rect x="175" y="0" width="2.9" height="2.9" fill="#002cff"/><rect x="177.5" y="0" width="2.9" height="2.9" fill="#0038ff"/><rect x="180" y="0" width="7.9" height="2.9" fill="#0051ff"/><rect x="187.5" y="0" width="2.9" height="2.9" fill="#0069ff"/><rect x="190" y="0" width="2.9" height="2.9" fill="#0051ff"/><rect x="192.5" y="0" width="5.4" height="2.9" fill="#002cff"/><rect x="197.5" y="0" width="2.9" height="2.9" fill="#0038ff"/><rect x="200" y="0" width="2.9" height="2.9" fill="#0051ff"/><rect x="202.5" y="0" width="2.9" height="2.9" fill="#005dff"/><rect x="205" y="0" width="2.9" height="2.9" fill="#0069ff"/><rect x="207.5" y="0" width="7.9" height="2.9" fill="#0075ff"/><rect x="215" y="0" width="2.9" height="2.9" fill="#008eff"/><rect x="217.5" y="0" width="2.9" height="2.9" fill="#00a6ff"/><rect x="220" y="0" width="5.4" height="2.9" fill="#009aff"/><rect x="225" y="0" width="2.9" height="2.9" fill="#00bfff"/><rect x="227.5" y="0" width="2.9" height="2.9" fill="#3affc5"/><rect x="230" y="0" width="2.9" height="2.9" fill="#84ff7b"/><rect x="232.5" y="0" width="2.9" height="2.9" fill="#90ff6f"/><rect x="235" y="0" width="2.9" height="2.9" fill="#6bff94"/><rect x="237.5" y="0" width="2.9" height="2.9" fill="#46ffb9"/><rect x="240" y="0" width="2.9" height="2.9" fill="#2effd1"/><rect x="160" y="2.5" width="5.4" height="2.9" fill="#0082ff"/><rect x="165" y="2.5" width="2.9" height="2.9" fill="#0075ff"/><rect x="167.5" y="2.5" width="2.9" height="2.9" fill="#005dff"/><rect x="170" y="2.5" width="2.9" height="2.9" fill="#0051ff"/><rect x="172.5" y="2.5" width="2.9" height="2.9" fill="#0038ff"/><rect x="175" y="2.5" width="2.9" height="2.9" fill="#0013ff"/><rect x="177.5" y="2.5" width="2.9" height="2.9" fill="#0007ff"/><rect x="180" y="2.5" width="2.9" height="2.9" fill="#0020ff"/><rect x="182.5" y="2.5" width="2.9" height="2.9" fill="#0044ff"/><rect x="185" y="2.5" width="2.9" height="2.9" fill="#0069ff"/><rect x="187.5" y="2.5" width="2.9" height="2.9" fill="#0082ff"/><rect x="190" y="2.5" width="2.9" height="2.9" fill="#0075ff"/><rect x="192.5" y="2.5" width="2.9" height="2.9" fill="#0051ff"/><rect x="195" y="2.5" width="5.4" height="2.9" fill="#0044ff"/><rect x="200" y="2.5" width="7.9" height="2.9" fill="#0051ff"/><rect x="207.5" y="2.5" width="2.9" height="2.9" fill="#005dff"/><rect x="210" y="2.5" width="2.9" height="2.9" fill="#0075ff"/><rect x="212.5" y="2.5" width="2.9" height="2.9" fill="#0082ff"/><rect x="215" y="2.5" width="5.4" height="2.9" fill="#008eff"/><rect x="220" y="2.5" width="2.9" height="2.9" fill="#00cbff"/><rect x="222.5" y="2.5" width="2.9" height="2.9" fill="#22ffdd"/><rect x="225" y="2.5" width="2.9" height="2.9" fill="#3affc5"/><rect x="227.5" y="2.5" width="2.9" height="2.9" fill="#22ffdd"/><rect x="230" y="2.5" width="5.4" height="2.9" fill="#09fff6"/><rect x="235" y="2.5" width="5.4" height="2.9" fill="#22ffdd"/><rect x="240" y="2.5" width="2.9" height="2.9" fill="#15ffea"/><rect x="160" y="5" width="2.9" height="2.9" fill="#008eff"/><rect x="162.5" y="5" width="2.9" height="2.9" fill="#0082ff"/><rect x="165" y="5" width="2.9" height="2.9" fill="#0075ff"/><rect x="167.5" y="5" width="2.9" height="2.9" fill="#0069ff"/><rect x="170" y="5" width="2.9" height="2.9" fill="#005dff"/><rect x="172.5" y="5" width="2.9" height="2.9" fill="#0038ff"/><rect x="175" y="5" width="2.9" height="2.9" fill="#0013ff"/><rect x="177.5" y="5" width="5.4" height="2.9" fill="#0007ff"/><rect x="182.5" y="5" width="2.9" height="2.9" fill="#0038ff"/><rect x="185" y="5" width="2.9" height="2.9" fill="#0069ff"/><rect x="187.5" y="5" width="5.4" height="2.9" fill="#0082ff"/><rect x="192.5" y="5" width="2.9" height="2.9" fill="#0075ff"/><rect x="195" y="5" width="2.9" height="2.9" fill="#0069ff"/><rect x="197.5" y="5" width="2.9" height="2.9" fill="#005dff"/><rect x="200" y="5" width="10.4" height="2.9" fill="#0051ff"/><rect x="210" y="5" width="2.9" height="2.9" fill="#0075ff"/><rect x="212.5" y="5" width="2.9" height="2.9" fill="#0082ff"/><rect x="215" y="5" width="5.4" height="2.9" fill="#008eff"/><rect x="220" y="5" width="2.9" height="2.9" fill="#00e3ff"/><rect x="222.5" y="5" width="5.4" height="2.9" fill="#46ffb9"/><rect x="227.5" y="5" width="2.9" height="2.9" fill="#22ffdd"/><rect x="230" y="5" width="5.4" height="2.9" fill="#00f0ff"/><rect x="235" y="5" width="2.9" height="2.9" fill="#00fcff"/><rect x="237.5" y="5" width="5.4" height="2.9" fill="#09fff6"/><rect x="160" y="7.5" width="2.9" height="2.9" fill="#009aff"/><rect x="162.5" y="7.5" width="2.9" height="2.9" fill="#008eff"/><rect x="165" y="7.5" width="5.4" height="2.9" fill="#0082ff"/><rect x="170" y="7.5" width="5.4" height="2.9" fill="#0075ff"/><rect x="175" y="7.5" width="2.9" height="2.9" fill="#005dff"/><rect x="177.5" y="7.5" width="5.4" height="2.9" fill="#0044ff"/><rect x="182.5" y="7.5" width="2.9" height="2.9" fill="#0038ff"/><rect x="185" y="7.5" width="2.9" height="2.9" fill="#0044ff"/><rect x="187.5" y="7.5" width="12.9" height="2.9" fill="#0075ff"/><rect x="200" y="7.5" width="2.9" height="2.9" fill="#005dff"/><rect x="202.5" y="7.5" width="5.4" height="2.9" fill="#0051ff"/><rect x="207.5" y="7.5" width="2.9" height="2.9" fill="#005dff"/><rect x="210" y="7.5" width="2.9" height="2.9" fill="#0069ff"/><rect x="212.5" y="7.5" width="2.9" height="2.9" fill="#0082ff"/><rect x="215" y="7.5" width="2.9" height="2.9" fill="#008eff"/><rect x="217.5" y="7.5" width="2.9" height="2.9" fill="#009aff"/><rect x="220" y="7.5" width="2.9" height="2.9" fill="#00f0ff"/><rect x="222.5" y="7.5" width="2.9" height="2.9" fill="#2effd1"/><rect x="225" y="7.5" width="2.9" height="2.9" fill="#3affc5"/><rect x="227.5" y="7.5" width="2.9" height="2.9" fill="#15ffea"/><rect x="230" y="7.5" width="7.9" height="2.9" fill="#00f0ff"/><rect x="237.5" y="7.5" width="5.4" height="2.9" fill="#00fcff"/><rect x="160" y="10" width="7.9" height="2.9" fill="#009aff"/><rect x="167.5" y="10" width="2.9" height="2.9" fill="#008eff"/><rect x="170" y="10" width="2.9" height="2.9" fill="#009aff"/><rect x="172.5" y="10" width="2.9" height="2.9" fill="#00a6ff"/><rect x="175" y="10" width="2.9" height="2.9" fill="#00bfff"/><rect x="177.5" y="10" width="2.9" height="2.9" fill="#00cbff"/><rect x="180" y="10" width="2.9" height="2.9" fill="#009aff"/><rect x="182.5" y="10" width="5.4" height="2.9" fill="#0020ff"/><rect x="187.5" y="10" width="2.9" height="2.9" fill="#0044ff"/><rect x="190" y="10" width="2.9" height="2.9" fill="#0069ff"/><rect x="192.5" y="10" width="7.9" height="2.9" fill="#0082ff"/><rect x="200" y="10" width="2.9" height="2.9" fill="#0075ff"/><rect x="202.5" y="10" width="2.9" height="2.9" fill="#0069ff"/><rect x="205" y="10" width="7.9" height="2.9" fill="#005dff"/><rect x="212.5" y="10" width="2.9" height="2.9" fill="#0069ff"/><rect x="215" y="10" width="2.9" height="2.9" fill="#009aff"/><rect x="217.5" y="10" width="2.9" height="2.9" fill="#00cbff"/><rect x="220" y="10" width="7.9" height="2.9" fill="#15ffea"/><rect x="227.5" y="10" width="2.9" height="2.9" fill="#00fcff"/><rect x="230" y="10" width="12.9" height="2.9" fill="#00f0ff"/><rect x="160" y="12.5" width="12.9" height="2.9" fill="#00a6ff"/><rect x="172.5" y="12.5" width="2.9" height="2.9" fill="#00b2ff"/><rect x="175" y="12.5" width="5.4" height="2.9" fill="#00cbff"/><rect x="180" y="12.5" width="2.9" height="2.9" fill="#00a6ff"/><rect x="182.5" y="12.5" width="2.9" height="2.9" fill="#002cff"/><rect x="185" y="12.5" width="2.9" height="2.9" fill="#0020ff"/><rect x="187.5" y="12.5" width="2.9" height="2.9" fill="#0044ff"/><rect x="190" y="12.5" width="2.9" height="2.9" fill="#0069ff"/><rect x="192.5" y="12.5" width="2.9" height="2.9" fill="#0075ff"/><rect x="195" y="12.5" width="2.9" height="2.9" fill="#0082ff"/><rect x="197.5" y="12.5" width="7.9" height="2.9" fill="#0075ff"/><rect x="205" y="12.5" width="5.4" height="2.9" fill="#0069ff"/><rect x="210" y="12.5" width="2.9" height="2.9" fill="#005dff"/><rect x="212.5" y="12.5" width="2.9" height="2.9" fill="#0075ff"/><rect x="215" y="12.5" width="2.9" height="2.9" fill="#009aff"/><rect x="217.5" y="12.5" width="2.9" height="2.9" fill="#00d7ff"/><rect x="220" y="12.5" width="5.4" height="2.9" fill="#15ffea"/><rect x="225" y="12.5" width="2.9" height="2.9" fill="#09fff6"/><rect x="227.5" y="12.5" width="2.9" height="2.9" fill="#00e3ff"/><rect x="230" y="12.5" width="10.4" height="2.9" fill="#00f0ff"/><rect x="240" y="12.5" width="2.9" height="2.9" fill="#00e3ff"/><rect x="160" y="15" width="12.9" height="2.9" fill="#00b2ff"/><rect x="172.5" y="15" width="2.9" height="2.9" fill="#00bfff"/><rect x="175" y="15" width="2.9" height="2.9" fill="#00cbff"/><rect x="177.5" y="15" width="2.9" height="2.9" fill="#00d7ff"/><rect x="180" y="15" width="2.9" height="2.9" fill="#00e3ff"/><rect x="182.5" y="15" width="2.9" height="2.9" fill="#00bfff"/><rect x="185" y="15" width="2.9" height="2.9" fill="#0069ff"/><rect x="187.5" y="15" width="2.9" height="2.9" fill="#005dff"/><rect x="190" y="15" width="5.4" height="2.9" fill="#0051ff"/><rect x="195" y="15" width="2.9" height="2.9" fill="#005dff"/><rect x="197.5" y="15" width="7.9" height="2.9" fill="#0075ff"/><rect x="205" y="15" width="10.4" height="2.9" fill="#0082ff"/><rect x="215" y="15" width="2.9" height="2.9" fill="#009aff"/><rect x="217.5" y="15" width="2.9" height="2.9" fill="#00cbff"/><rect x="220" y="15" width="2.9" height="2.9" fill="#00f0ff"/><rect x="222.5" y="15" width="2.9" height="2.9" fill="#00fcff"/><rect x="225" y="15" width="2.9" height="2.9" fill="#00cbff"/><rect x="227.5" y="15" width="2.9" height="2.9" fill="#00b2ff"/><rect x="230" y="15" width="2.9" height="2.9" fill="#00bfff"/><rect x="232.5" y="15" width="2.9" height="2.9" fill="#00d7ff"/><rect x="235" y="15" width="7.9" height="2.9" fill="#00e3ff"/><rect x="160" y="17.5" width="2.9" height="2.9" fill="#00bfff"/><rect x="162.5" y="17.5" width="7.9" height="2.9" fill="#00b2ff"/><rect x="170" y="17.5" width="5.4" height="2.9" fill="#00bfff"/><rect x="175" y="17.5" width="2.9" height="2.9" fill="#00cbff"/><rect x="177.5" y="17.5" width="2.9" height="2.9" fill="#00d7ff"/><rect x="180" y="17.5" width="5.4" height="2.9" fill="#00e3ff"/><rect x="185" y="17.5" width="2.9" height="2.9" fill="#00a6ff"/><rect x="187.5" y="17.5" width="2.9" height="2.9" fill="#0075ff"/><rect x="190" y="17.5" width="5.4" height="2.9" fill="#0051ff"/><rect x="195" y="17.5" width="2.9" height="2.9" fill="#005dff"/><rect x="197.5" y="17.5" width="2.9" height="2.9" fill="#0082ff"/><rect x="200" y="17.5" width="2.9" height="2.9" fill="#008eff"/><rect x="202.5" y="17.5" width="5.4" height="2.9" fill="#0082ff"/><rect x="207.5" y="17.5" width="5.4" height="2.9" fill="#008eff"/><rect x="212.5" y="17.5" width="2.9" height="2.9" fill="#0082ff"/><rect x="215" y="17.5" width="2.9" height="2.9" fill="#008eff"/><rect x="217.5" y="17.5" width="2.9" height="2.9" fill="#00b2ff"/><rect x="220" y="17.5" width="5.4" height="2.9" fill="#00bfff"/><rect x="225" y="17.5" width="7.9" height="2.9" fill="#00b2ff"/><rect x="232.5" y="17.5" width="2.9" height="2.9" fill="#00bfff"/><rect x="235" y="17.5" width="2.9" height="2.9" fill="#00cbff"/><rect x="237.5" y="17.5" width="5.4" height="2.9" fill="#00d7ff"/><rect x="160" y="20" width="12.9" height="2.9" fill="#00bfff"/><rect x="172.5" y="20" width="5.4" height="2.9" fill="#00cbff"/><rect x="177.5" y="20" width="5.4" height="2.9" fill="#00d7ff"/><rect x="182.5" y="20" width="2.9" height="2.9" fill="#00cbff"/><rect x="185" y="20" width="2.9" height="2.9" fill="#008eff"/><rect x="187.5" y="20" width="2.9" height="2.9" fill="#0082ff"/><rect x="190" y="20" width="2.9" height="2.9" fill="#0069ff"/><rect x="192.5" y="20" width="2.9" height="2.9" fill="#005dff"/><rect x="195" y="20" width="2.9" height="2.9" fill="#008eff"/><rect x="197.5" y="20" width="2.9" height="2.9" fill="#00a6ff"/><rect x="200" y="20" width="2.9" height="2.9" fill="#009aff"/><rect x="202.5" y="20" width="2.9" height="2.9" fill="#0082ff"/><rect x="205" y="20" width="5.4" height="2.9" fill="#005dff"/><rect x="210" y="20" width="2.9" height="2.9" fill="#0075ff"/><rect x="212.5" y="20" width="2.9" height="2.9" fill="#0082ff"/><rect x="215" y="20" width="2.9" height="2.9" fill="#008eff"/><rect x="217.5" y="20" width="10.4" height="2.9" fill="#009aff"/><rect x="227.5" y="20" width="5.4" height="2.9" fill="#00b2ff"/><rect x="232.5" y="20" width="5.4" height="2.9" fill="#00bfff"/><rect x="237.5" y="20" width="5.4" height="2.9" fill="#00cbff"/><rect x="160" y="22.5" width="22.9" height="2.9" fill="#00cbff"/><rect x="182.5" y="22.5" width="2.9" height="2.9" fill="#00b2ff"/><rect x="185" y="22.5" width="7.9" height="2.9" fill="#0082ff"/><rect x="192.5" y="22.5" width="2.9" height="2.9" fill="#008eff"/><rect x="195" y="22.5" width="5.4" height="2.9" fill="#00b2ff"/><rect x="200" y="22.5" width="2.9" height="2.9" fill="#00a6ff"/><rect x="202.5" y="22.5" width="2.9" height="2.9" fill="#0075ff"/><rect x="205" y="22.5" width="7.9" height="2.9" fill="#0051ff"/><rect x="212.5" y="22.5" width="2.9" height="2.9" fill="#0069ff"/><rect x="215" y="22.5" width="2.9" height="2.9" fill="#008eff"/><rect x="217.5" y="22.5" width="12.9" height="2.9" fill="#009aff"/><rect x="230" y="22.5" width="5.4" height="2.9" fill="#00b2ff"/><rect x="235" y="22.5" width="5.4" height="2.9" fill="#00bfff"/><rect x="240" y="22.5" width="2.9" height="2.9" fill="#00cbff"/><rect x="160" y="25" width="7.9" height="2.9" fill="#00d7ff"/><rect x="167.5" y="25" width="12.9" height="2.9" fill="#00cbff"/><rect x="180" y="25" width="2.9" height="2.9" fill="#00bfff"/><rect x="182.5" y="25" width="2.9" height="2.9" fill="#00a6ff"/><rect x="185" y="25" width="2.9" height="2.9" fill="#008eff"/><rect x="187.5" y="25" width="2.9" height="2.9" fill="#0082ff"/><rect x="190" y="25" width="2.9" height="2.9" fill="#008eff"/><rect x="192.5" y="25" width="2.9" height="2.9" fill="#009aff"/><rect x="195" y="25" width="5.4" height="2.9" fill="#00b2ff"/><rect x="200" y="25" width="2.9" height="2.9" fill="#00a6ff"/><rect x="202.5" y="25" width="2.9" height="2.9" fill="#0075ff"/><rect x="205" y="25" width="2.9" height="2.9" fill="#005dff"/><rect x="207.5" y="25" width="2.9" height="2.9" fill="#0051ff"/><rect x="210" y="25" width="2.9" height="2.9" fill="#005dff"/><rect x="212.5" y="25" width="2.9" height="2.9" fill="#0075ff"/><rect x="215" y="25" width="2.9" height="2.9" fill="#008eff"/><rect x="217.5" y="25" width="12.9" height="2.9" fill="#009aff"/><rect x="230" y="25" width="2.9" height="2.9" fill="#00a6ff"/><rect x="232.5" y="25" width="2.9" height="2.9" fill="#00b2ff"/><rect x="235" y="25" width="5.4" height="2.9" fill="#00bfff"/><rect x="240" y="25" width="2.9" height="2.9" fill="#00cbff"/><rect x="160" y="27.5" width="7.9" height="2.9" fill="#00e3ff"/><rect x="167.5" y="27.5" width="2.9" height="2.9" fill="#00d7ff"/><rect x="170" y="27.5" width="2.9" height="2.9" fill="#00cbff"/><rect x="172.5" y="27.5" width="2.9" height="2.9" fill="#00bfff"/><rect x="175" y="27.5" width="2.9" height="2.9" fill="#00a6ff"/><rect x="177.5" y="27.5" width="2.9" height="2.9" fill="#009aff"/><rect x="180" y="27.5" width="2.9" height="2.9" fill="#00a6ff"/><rect x="182.5" y="27.5" width="2.9" height="2.9" fill="#00b2ff"/><rect x="185" y="27.5" width="2.9" height="2.9" fill="#00a6ff"/><rect x="187.5" y="27.5" width="7.9" height="2.9" fill="#00b2ff"/><rect x="195" y="27.5" width="5.4" height="2.9" fill="#00a6ff"/><rect x="200" y="27.5" width="2.9" height="2.9" fill="#0082ff"/><rect x="202.5" y="27.5" width="2.9" height="2.9" fill="#0069ff"/><rect x="205" y="27.5" width="5.4" height="2.9" fill="#005dff"/><rect x="210" y="27.5" width="2.9" height="2.9" fill="#0069ff"/><rect x="212.5" y="27.5" width="2.9" height="2.9" fill="#0082ff"/><rect x="215" y="27.5" width="15.4" height="2.9" fill="#009aff"/><rect x="230" y="27.5" width="2.9" height="2.9" fill="#00a6ff"/><rect x="232.5" y="27.5" width="2.9" height="2.9" fill="#00b2ff"/><rect x="235" y="27.5" width="7.9" height="2.9" fill="#00bfff"/><rect x="160" y="30" width="10.4" height="2.9" fill="#00f0ff"/><rect x="170" y="30" width="2.9" height="2.9" fill="#00e3ff"/><rect x="172.5" y="30" width="2.9" height="2.9" fill="#00d7ff"/><rect x="175" y="30" width="2.9" height="2.9" fill="#00b2ff"/><rect x="177.5" y="30" width="2.9" height="2.9" fill="#009aff"/><rect x="180" y="30" width="2.9" height="2.9" fill="#00a6ff"/><rect x="182.5" y="30" width="2.9" height="2.9" fill="#00bfff"/><rect x="185" y="30" width="10.4" height="2.9" fill="#00b2ff"/><rect x="195" y="30" width="2.9" height="2.9" fill="#00a6ff"/><rect x="197.5" y="30" width="2.9" height="2.9" fill="#009aff"/><rect x="200" y="30" width="2.9" height="2.9" fill="#0082ff"/><rect x="202.5" y="30" width="2.9" height="2.9" fill="#0069ff"/><rect x="205" y="30" width="2.9" height="2.9" fill="#005dff"/><rect x="207.5" y="30" width="2.9" height="2.9" fill="#0069ff"/><rect x="210" y="30" width="2.9" height="2.9" fill="#0082ff"/><rect x="212.5" y="30" width="2.9" height="2.9" fill="#009aff"/><rect x="215" y="30" width="5.4" height="2.9" fill="#00a6ff"/><rect x="220" y="30" width="7.9" height="2.9" fill="#009aff"/><rect x="227.5" y="30" width="2.9" height="2.9" fill="#00a6ff"/><rect x="230" y="30" width="2.9" height="2.9" fill="#00b2ff"/><rect x="232.5" y="30" width="10.4" height="2.9" fill="#00bfff"/><rect x="160" y="32.5" width="10.4" height="2.9" fill="#00fcff"/><rect x="170" y="32.5" width="2.9" height="2.9" fill="#09fff6"/><rect x="172.5" y="32.5" width="2.9" height="2.9" fill="#15ffea"/><rect x="175" y="32.5" width="2.9" height="2.9" fill="#22ffdd"/><rect x="177.5" y="32.5" width="2.9" height="2.9" fill="#00f0ff"/><rect x="180" y="32.5" width="2.9" height="2.9" fill="#00d7ff"/><rect x="182.5" y="32.5" width="5.4" height="2.9" fill="#00cbff"/><rect x="187.5" y="32.5" width="7.9" height="2.9" fill="#00bfff"/><rect x="195" y="32.5" width="2.9" height="2.9" fill="#00b2ff"/><rect x="197.5" y="32.5" width="2.9" height="2.9" fill="#00a6ff"/><rect x="200" y="32.5" width="7.9" height="2.9" fill="#008eff"/><rect x="207.5" y="32.5" width="2.9" height="2.9" fill="#0082ff"/><rect x="210" y="32.5" width="2.9" height="2.9" fill="#008eff"/><rect x="212.5" y="32.5" width="2.9" height="2.9" fill="#00a6ff"/><rect x="215" y="32.5" width="7.9" height="2.9" fill="#00b2ff"/><rect x="222.5" y="32.5" width="5.4" height="2.9" fill="#00a6ff"/><rect x="227.5" y="32.5" width="15.4" height="2.9" fill="#00bfff"/><rect x="160" y="35" width="7.9" height="2.9" fill="#09fff6"/><rect x="167.5" y="35" width="2.9" height="2.9" fill="#15ffea"/><rect x="170" y="35" width="2.9" height="2.9" fill="#22ffdd"/><rect x="172.5" y="35" width="7.9" height="2.9" fill="#2effd1"/><rect x="180" y="35" width="2.9" height="2.9" fill="#09fff6"/><rect x="182.5" y="35" width="2.9" height="2.9" fill="#00e3ff"/><rect x="185" y="35" width="10.4" height="2.9" fill="#00cbff"/><rect x="195" y="35" width="2.9" height="2.9" fill="#00bfff"/><rect x="197.5" y="35" width="2.9" height="2.9" fill="#00b2ff"/><rect x="200" y="35" width="2.9" height="2.9" fill="#009aff"/><rect x="202.5" y="35" width="7.9" height="2.9" fill="#008eff"/><rect x="210" y="35" width="2.9" height="2.9" fill="#009aff"/><rect x="212.5" y="35" width="12.9" height="2.9" fill="#00b2ff"/><rect x="225" y="35" width="2.9" height="2.9" fill="#00bfff"/><rect x="227.5" y="35" width="7.9" height="2.9" fill="#00cbff"/><rect x="235" y="35" width="5.4" height="2.9" fill="#00bfff"/><rect x="240" y="35" width="2.9" height="2.9" fill="#00cbff"/><rect x="160" y="37.5" width="2.9" height="2.9" fill="#09fff6"/><rect x="162.5" y="37.5" width="5.4" height="2.9" fill="#15ffea"/><rect x="167.5" y="37.5" width="2.9" height="2.9" fill="#22ffdd"/><rect x="170" y="37.5" width="5.4" height="2.9" fill="#2effd1"/><rect x="175" y="37.5" width="5.4" height="2.9" fill="#3affc5"/><rect x="180" y="37.5" width="2.9" height="2.9" fill="#22ffdd"/><rect x="182.5" y="37.5" width="2.9" height="2.9" fill="#00fcff"/><rect x="185" y="37.5" width="2.9" height="2.9" fill="#00e3ff"/><rect x="187.5" y="37.5" width="7.9" height="2.9" fill="#00d7ff"/><rect x="195" y="37.5" width="2.9" height="2.9" fill="#00cbff"/><rect x="197.5" y="37.5" width="2.9" height="2.9" fill="#00bfff"/><rect x="200" y="37.5" width="2.9" height="2.9" fill="#00b2ff"/><rect x="202.5" y="37.5" width="7.9" height="2.9" fill="#009aff"/><rect x="210" y="37.5" width="2.9" height="2.9" fill="#00a6ff"/><rect x="212.5" y="37.5" width="7.9" height="2.9" fill="#00b2ff"/><rect x="220" y="37.5" width="7.9" height="2.9" fill="#00bfff"/><rect x="227.5" y="37.5" width="15.4" height="2.9" fill="#00cbff"/><rect x="160" y="40" width="5.4" height="2.9" fill="#15ffea"/><rect x="165" y="40" width="2.9" height="2.9" fill="#22ffdd"/><rect x="167.5" y="40" width="2.9" height="2.9" fill="#2effd1"/><rect x="170" y="40" width="2.9" height="2.9" fill="#3affc5"/><rect x="172.5" y="40" width="2.9" height="2.9" fill="#46ffb9"/><rect x="175" y="40" width="5.4" height="2.9" fill="#53ffac"/><rect x="180" y="40" width="2.9" height="2.9" fill="#3affc5"/><rect x="182.5" y="40" width="2.9" height="2.9" fill="#09fff6"/><rect x="185" y="40" width="2.9" height="2.9" fill="#00fcff"/><rect x="187.5" y="40" width="2.9" height="2.9" fill="#09fff6"/><rect x="190" y="40" width="2.9" height="2.9" fill="#00fcff"/><rect x="192.5" y="40" width="2.9" height="2.9" fill="#00d7ff"/><rect x="195" y="40" width="5.4" height="2.9" fill="#00cbff"/><rect x="200" y="40" width="2.9" height="2.9" fill="#00bfff"/><rect x="202.5" y="40" width="2.9" height="2.9" fill="#00b2ff"/><rect x="205" y="40" width="2.9" height="2.9" fill="#00a6ff"/><rect x="207.5" y="40" width="2.9" height="2.9" fill="#00b2ff"/><rect x="210" y="40" width="7.9" height="2.9" fill="#00bfff"/><rect x="217.5" y="40" width="5.4" height="2.9" fill="#00cbff"/><rect x="222.5" y="40" width="7.9" height="2.9" fill="#00bfff"/><rect x="230" y="40" width="12.9" height="2.9" fill="#00cbff"/><rect x="160" y="42.5" width="5.4" height="2.9" fill="#22ffdd"/><rect x="165" y="42.5" width="5.4" height="2.9" fill="#2effd1"/><rect x="170" y="42.5" width="2.9" height="2.9" fill="#3affc5"/><rect x="172.5" y="42.5" width="2.9" height="2.9" fill="#46ffb9"/><rect x="175" y="42.5" width="5.4" height="2.9" fill="#53ffac"/><rect x="180" y="42.5" width="2.9" height="2.9" fill="#3affc5"/><rect x="182.5" y="42.5" width="2.9" height="2.9" fill="#09fff6"/><rect x="185" y="42.5" width="2.9" height="2.9" fill="#00fcff"/><rect x="187.5" y="42.5" width="2.9" height="2.9" fill="#09fff6"/><rect x="190" y="42.5" width="2.9" height="2.9" fill="#00fcff"/><rect x="192.5" y="42.5" width="2.9" height="2.9" fill="#00e3ff"/><rect x="195" y="42.5" width="7.9" height="2.9" fill="#00cbff"/><rect x="202.5" y="42.5" width="5.4" height="2.9" fill="#00bfff"/><rect x="207.5" y="42.5" width="2.9" height="2.9" fill="#00cbff"/><rect x="210" y="42.5" width="5.4" height="2.9" fill="#00d7ff"/><rect x="215" y="42.5" width="25.4" height="2.9" fill="#00cbff"/><rect x="240" y="42.5" width="2.9" height="2.9" fill="#00d7ff"/><rect x="160" y="45" width="5.4" height="2.9" fill="#22ffdd"/><rect x="165" y="45" width="2.9" height="2.9" fill="#2effd1"/><rect x="167.5" y="45" width="5.4" height="2.9" fill="#3affc5"/><rect x="172.5" y="45" width="7.9" height="2.9" fill="#46ffb9"/><rect x="180" y="45" width="2.9" height="2.9" fill="#2effd1"/><rect x="182.5" y="45" width="2.9" height="2.9" fill="#00fcff"/><rect x="185" y="45" width="5.4" height="2.9" fill="#00e3ff"/><rect x="190" y="45" width="2.9" height="2.9" fill="#00f0ff"/><rect x="192.5" y="45" width="2.9" height="2.9" fill="#00e3ff"/><rect x="195" y="45" width="12.9" height="2.9" fill="#00cbff"/><rect x="207.5" y="45" width="2.9" height="2.9" fill="#00d7ff"/><rect x="210" y="45" width="7.9" height="2.9" fill="#00e3ff"/><rect x="217.5" y="45" width="17.9" height="2.9" fill="#00cbff"/><rect x="235" y="45" width="7.9" height="2.9" fill="#00d7ff"/><rect x="160" y="47.5" width="2.9" height="2.9" fill="#22ffdd"/><rect x="162.5" y="47.5" width="7.9" height="2.9" fill="#2effd1"/><rect x="170" y="47.5" width="2.9" height="2.9" fill="#3affc5"/><rect x="172.5" y="47.5" width="7.9" height="2.9" fill="#46ffb9"/><rect x="180" y="47.5" width="2.9" height="2.9" fill="#22ffdd"/><rect x="182.5" y="47.5" width="2.9" height="2.9" fill="#00f0ff"/><rect x="185" y="47.5" width="10.4" height="2.9" fill="#00e3ff"/><rect x="195" y="47.5" width="12.9" height="2.9" fill="#00d7ff"/><rect x="207.5" y="47.5" width="12.9" height="2.9" fill="#00e3ff"/><rect x="220" y="47.5" width="17.9" height="2.9" fill="#00d7ff"/><rect x="237.5" y="47.5" width="5.4" height="2.9" fill="#00e3ff"/><rect x="160" y="50" width="15.4" height="2.9" fill="#2effd1"/><rect x="175" y="50" width="5.4" height="2.9" fill="#3affc5"/><rect x="180" y="50" width="2.9" height="2.9" fill="#09fff6"/><rect x="182.5" y="50" width="5.4" height="2.9" fill="#00d7ff"/><rect x="187.5" y="50" width="25.4" height="2.9" fill="#00e3ff"/><rect x="212.5" y="50" width="2.9" height="2.9" fill="#00f0ff"/><rect x="215" y="50" width="27.9" height="2.9" fill="#00e3ff"/><rect x="160" y="52.5" width="17.9" height="2.9" fill="#2effd1"/><rect x="177.5" y="52.5" width="2.9" height="2.9" fill="#22ffdd"/><rect x="180" y="52.5" width="2.9" height="2.9" fill="#00f0ff"/><rect x="182.5" y="52.5" width="7.9" height="2.9" fill="#00cbff"/><rect x="190" y="52.5" width="2.9" height="2.9" fill="#00e3ff"/><rect x="192.5" y="52.5" width="7.9" height="2.9" fill="#00f0ff"/><rect x="200" y="52.5" width="10.4" height="2.9" fill="#00e3ff"/><rect x="210" y="52.5" width="32.9" height="2.9" fill="#00f0ff"/><rect x="160" y="55" width="5.4" height="2.9" fill="#2effd1"/><rect x="165" y="55" width="5.4" height="2.9" fill="#22ffdd"/><rect x="170" y="55" width="7.9" height="2.9" fill="#2effd1"/><rect x="177.5" y="55" width="2.9" height="2.9" fill="#22ffdd"/><rect x="180" y="55" width="2.9" height="2.9" fill="#00fcff"/><rect x="182.5" y="55" width="5.4" height="2.9" fill="#00cbff"/><rect x="187.5" y="55" width="2.9" height="2.9" fill="#00d7ff"/><rect x="190" y="55" width="2.9" height="2.9" fill="#00f0ff"/><rect x="192.5" y="55" width="5.4" height="2.9" fill="#00fcff"/><rect x="197.5" y="55" width="2.9" height="2.9" fill="#00f0ff"/><rect x="200" y="55" width="2.9" height="2.9" fill="#00e3ff"/><rect x="202.5" y="55" width="7.9" height="2.9" fill="#00d7ff"/><rect x="210" y="55" width="2.9" height="2.9" fill="#00e3ff"/><rect x="212.5" y="55" width="25.4" height="2.9" fill="#00f0ff"/><rect x="237.5" y="55" width="5.4" height="2.9" fill="#00fcff"/><rect x="160" y="57.5" width="2.9" height="2.9" fill="#2effd1"/><rect x="162.5" y="57.5" width="12.9" height="2.9" fill="#22ffdd"/><rect x="175" y="57.5" width="5.4" height="2.9" fill="#15ffea"/><rect x="180" y="57.5" width="2.9" height="2.9" fill="#09fff6"/><rect x="182.5" y="57.5" width="2.9" height="2.9" fill="#00f0ff"/><rect x="185" y="57.5" width="2.9" height="2.9" fill="#00e3ff"/><rect x="187.5" y="57.5" width="2.9" height="2.9" fill="#00f0ff"/><rect x="190" y="57.5" width="10.4" height="2.9" fill="#00fcff"/><rect x="200" y="57.5" width="2.9" height="2.9" fill="#00f0ff"/><rect x="202.5" y="57.5" width="2.9" height="2.9" fill="#00d7ff"/><rect x="205" y="57.5" width="7.9" height="2.9" fill="#00cbff"/><rect x="212.5" y="57.5" width="2.9" height="2.9" fill="#00e3ff"/><rect x="215" y="57.5" width="20.4" height="2.9" fill="#00f0ff"/><rect x="235" y="57.5" width="5.4" height="2.9" fill="#00fcff"/><rect x="240" y="57.5" width="2.9" height="2.9" fill="#09fff6"/><rect x="160" y="60" width="2.9" height="2.9" fill="#2effd1"/><rect x="162.5" y="60" width="2.9" height="2.9" fill="#22ffdd"/><rect x="165" y="60" width="2.9" height="2.9" fill="#15ffea"/><rect x="167.5" y="60" width="5.4" height="2.9" fill="#09fff6"/><rect x="172.5" y="60" width="15.4" height="2.9" fill="#15ffea"/><rect x="187.5" y="60" width="2.9" height="2.9" fill="#09fff6"/><rect x="190" y="60" width="10.4" height="2.9" fill="#00fcff"/><rect x="200" y="60" width="2.9" height="2.9" fill="#00f0ff"/><rect x="202.5" y="60" width="2.9" height="2.9" fill="#00d7ff"/><rect x="205" y="60" width="7.9" height="2.9" fill="#00cbff"/><rect x="212.5" y="60" width="2.9" height="2.9" fill="#00e3ff"/><rect x="215" y="60" width="17.9" height="2.9" fill="#00f0ff"/><rect x="232.5" y="60" width="5.4" height="2.9" fill="#00fcff"/><rect x="237.5" y="60" width="5.4" height="2.9" fill="#09fff6"/><rect x="160" y="62.5" width="2.9" height="2.9" fill="#3affc5"/><rect x="162.5" y="62.5" width="2.9" height="2.9" fill="#22ffdd"/><rect x="165" y="62.5" width="2.9" height="2.9" fill="#15ffea"/><rect x="167.5" y="62.5" width="2.9" height="2.9" fill="#00fcff"/><rect x="170" y="62.5" width="5.4" height="2.9" fill="#00f0ff"/><rect x="175" y="62.5" width="2.9" height="2.9" fill="#09fff6"/><rect x="177.5" y="62.5" width="2.9" height="2.9" fill="#15ffea"/><rect x="180" y="62.5" width="2.9" height="2.9" fill="#22ffdd"/><rect x="182.5" y="62.5" width="7.9" height="2.9" fill="#2effd1"/><rect x="190" y="62.5" width="2.9" height="2.9" fill="#15ffea"/><rect x="192.5" y="62.5" width="5.4" height="2.9" fill="#00fcff"/><rect x="197.5" y="62.5" width="2.9" height="2.9" fill="#09fff6"/><rect x="200" y="62.5" width="2.9" height="2.9" fill="#00fcff"/><rect x="202.5" y="62.5" width="2.9" height="2.9" fill="#00e3ff"/><rect x="205" y="62.5" width="2.9" height="2.9" fill="#00d7ff"/><rect x="207.5" y="62.5" width="2.9" height="2.9" fill="#00cbff"/><rect x="210" y="62.5" width="2.9" height="2.9" fill="#00d7ff"/><rect x="212.5" y="62.5" width="2.9" height="2.9" fill="#00f0ff"/><rect x="215" y="62.5" width="5.4" height="2.9" fill="#00fcff"/><rect x="220" y="62.5" width="10.4" height="2.9" fill="#00f0ff"/><rect x="230" y="62.5" width="5.4" height="2.9" fill="#00fcff"/><rect x="235" y="62.5" width="2.9" height="2.9" fill="#09fff6"/><rect x="237.5" y="62.5" width="5.4" height="2.9" fill="#15ffea"/><rect x="160" y="65" width="2.9" height="2.9" fill="#46ffb9"/><rect x="162.5" y="65" width="2.9" height="2.9" fill="#2effd1"/><rect x="165" y="65" width="2.9" height="2.9" fill="#15ffea"/><rect x="167.5" y="65" width="2.9" height="2.9" fill="#00fcff"/><rect x="170" y="65" width="5.4" height="2.9" fill="#00e3ff"/><rect x="175" y="65" width="2.9" height="2.9" fill="#00fcff"/><rect x="177.5" y="65" width="2.9" height="2.9" fill="#22ffdd"/><rect x="180" y="65" width="12.9" height="2.9" fill="#2effd1"/><rect x="192.5" y="65" width="2.9" height="2.9" fill="#22ffdd"/><rect x="195" y="65" width="5.4" height="2.9" fill="#15ffea"/><rect x="200" y="65" width="2.9" height="2.9" fill="#09fff6"/><rect x="202.5" y="65" width="2.9" height="2.9" fill="#00f0ff"/><rect x="205" y="65" width="5.4" height="2.9" fill="#00e3ff"/><rect x="210" y="65" width="2.9" height="2.9" fill="#00f0ff"/><rect x="212.5" y="65" width="17.9" height="2.9" fill="#00fcff"/><rect x="230" y="65" width="5.4" height="2.9" fill="#09fff6"/><rect x="235" y="65" width="5.4" height="2.9" fill="#15ffea"/><rect x="240" y="65" width="2.9" height="2.9" fill="#22ffdd"/><rect x="160" y="67.5" width="2.9" height="2.9" fill="#53ffac"/><rect x="162.5" y="67.5" width="2.9" height="2.9" fill="#46ffb9"/><rect x="165" y="67.5" width="2.9" height="2.9" fill="#2effd1"/><rect x="167.5" y="67.5" width="2.9" height="2.9" fill="#15ffea"/><rect x="170" y="67.5" width="2.9" height="2.9" fill="#00fcff"/><rect x="172.5" y="67.5" width="2.9" height="2.9" fill="#09fff6"/><rect x="175" y="67.5" width="2.9" height="2.9" fill="#2effd1"/><rect x="177.5" y="67.5" width="7.9" height="2.9" fill="#3affc5"/><rect x="185" y="67.5" width="2.9" height="2.9" fill="#2effd1"/><rect x="187.5" y="67.5" width="7.9" height="2.9" fill="#3affc5"/><rect x="195" y="67.5" width="2.9" height="2.9" fill="#2effd1"/><rect x="197.5" y="67.5" width="2.9" height="2.9" fill="#22ffdd"/><rect x="200" y="67.5" width="2.9" height="2.9" fill="#15ffea"/><rect x="202.5" y="67.5" width="2.9" height="2.9" fill="#09fff6"/><rect x="205" y="67.5" width="20.4" height="2.9" fill="#00fcff"/><rect x="225" y="67.5" width="5.4" height="2.9" fill="#09fff6"/><rect x="230" y="67.5" width="5.4" height="2.9" fill="#15ffea"/><rect x="235" y="67.5" width="2.9" height="2.9" fill="#22ffdd"/><rect x="237.5" y="67.5" width="5.4" height="2.9" fill="#2effd1"/><rect x="160" y="70" width="5.4" height="2.9" fill="#6bff94"/><rect x="165" y="70" width="2.9" height="2.9" fill="#5fffa0"/><rect x="167.5" y="70" width="2.9" height="2.9" fill="#53ffac"/><rect x="170" y="70" width="5.4" height="2.9" fill="#46ffb9"/><rect x="175" y="70" width="7.9" height="2.9" fill="#53ffac"/><rect x="182.5" y="70" width="12.9" height="2.9" fill="#46ffb9"/><rect x="195" y="70" width="2.9" height="2.9" fill="#3affc5"/><rect x="197.5" y="70" width="5.4" height="2.9" fill="#2effd1"/><rect x="202.5" y="70" width="2.9" height="2.9" fill="#22ffdd"/><rect x="205" y="70" width="2.9" height="2.9" fill="#15ffea"/><rect x="207.5" y="70" width="20.4" height="2.9" fill="#09fff6"/><rect x="227.5" y="70" width="2.9" height="2.9" fill="#15ffea"/><rect x="230" y="70" width="5.4" height="2.9" fill="#22ffdd"/><rect x="235" y="70" width="2.9" height="2.9" fill="#2effd1"/><rect x="237.5" y="70" width="5.4" height="2.9" fill="#3affc5"/><rect x="160" y="72.5" width="10.4" height="2.9" fill="#90ff6f"/><rect x="170" y="72.5" width="2.9" height="2.9" fill="#84ff7b"/><rect x="172.5" y="72.5" width="5.4" height="2.9" fill="#53ffac"/><rect x="177.5" y="72.5" width="2.9" height="2.9" fill="#6bff94"/><rect x="180" y="72.5" width="2.9" height="2.9" fill="#77ff88"/><rect x="182.5" y="72.5" width="2.9" height="2.9" fill="#5fffa0"/><rect x="185" y="72.5" width="2.9" height="2.9" fill="#53ffac"/><rect x="187.5" y="72.5" width="5.4" height="2.9" fill="#46ffb9"/><rect x="192.5" y="72.5" width="10.4" height="2.9" fill="#3affc5"/><rect x="202.5" y="72.5" width="2.9" height="2.9" fill="#2effd1"/><rect x="205" y="72.5" width="2.9" height="2.9" fill="#22ffdd"/><rect x="207.5" y="72.5" width="2.9" height="2.9" fill="#15ffea"/><rect x="210" y="72.5" width="15.4" height="2.9" fill="#09fff6"/><rect x="225" y="72.5" width="2.9" height="2.9" fill="#15ffea"/><rect x="227.5" y="72.5" width="2.9" height="2.9" fill="#22ffdd"/><rect x="230" y="72.5" width="5.4" height="2.9" fill="#2effd1"/><rect x="235" y="72.5" width="2.9" height="2.9" fill="#3affc5"/><rect x="237.5" y="72.5" width="5.4" height="2.9" fill="#46ffb9"/><rect x="160" y="75" width="2.9" height="2.9" fill="#a8ff57"/><rect x="162.5" y="75" width="2.9" height="2.9" fill="#b5ff4a"/><rect x="165" y="75" width="2.9" height="2.9" fill="#c1ff3e"/><rect x="167.5" y="75" width="2.9" height="2.9" fill="#d9ff26"/><rect x="170" y="75" width="2.9" height="2.9" fill="#f2ff0d"/><rect x="172.5" y="75" width="2.9" height="2.9" fill="#e5ff1a"/><rect x="175" y="75" width="2.9" height="2.9" fill="#9cff63"/><rect x="177.5" y="75" width="5.4" height="2.9" fill="#84ff7b"/><rect x="182.5" y="75" width="2.9" height="2.9" fill="#77ff88"/><rect x="185" y="75" width="2.9" height="2.9" fill="#46ffb9"/><rect x="187.5" y="75" width="7.9" height="2.9" fill="#22ffdd"/><rect x="195" y="75" width="2.9" height="2.9" fill="#3affc5"/><rect x="197.5" y="75" width="5.4" height="2.9" fill="#46ffb9"/><rect x="202.5" y="75" width="2.9" height="2.9" fill="#3affc5"/><rect x="205" y="75" width="2.9" height="2.9" fill="#22ffdd"/><rect x="207.5" y="75" width="2.9" height="2.9" fill="#15ffea"/><rect x="210" y="75" width="2.9" height="2.9" fill="#09fff6"/><rect x="212.5" y="75" width="2.9" height="2.9" fill="#00fcff"/><rect x="215" y="75" width="5.4" height="2.9" fill="#00f0ff"/><rect x="220" y="75" width="2.9" height="2.9" fill="#00fcff"/><rect x="222.5" y="75" width="2.9" height="2.9" fill="#15ffea"/><rect x="225" y="75" width="2.9" height="2.9" fill="#22ffdd"/><rect x="227.5" y="75" width="5.4" height="2.9" fill="#2effd1"/><rect x="232.5" y="75" width="2.9" height="2.9" fill="#3affc5"/><rect x="235" y="75" width="2.9" height="2.9" fill="#46ffb9"/><rect x="237.5" y="75" width="5.4" height="2.9" fill="#53ffac"/><rect x="160" y="77.5" width="2.9" height="2.9" fill="#c1ff3e"/><rect x="162.5" y="77.5" width="2.9" height="2.9" fill="#cdff32"/><rect x="165" y="77.5" width="2.9" height="2.9" fill="#d9ff26"/><rect x="167.5" y="77.5" width="2.9" height="2.9" fill="#f2ff0d"/><rect x="170" y="77.5" width="5.4" height="2.9" fill="#feff01"/><rect x="175" y="77.5" width="2.9" height="2.9" fill="#b5ff4a"/><rect x="177.5" y="77.5" width="5.4" height="2.9" fill="#84ff7b"/><rect x="182.5" y="77.5" width="2.9" height="2.9" fill="#90ff6f"/><rect x="185" y="77.5" width="2.9" height="2.9" fill="#5fffa0"/><rect x="187.5" y="77.5" width="2.9" height="2.9" fill="#22ffdd"/><rect x="190" y="77.5" width="2.9" height="2.9" fill="#15ffea"/><rect x="192.5" y="77.5" width="2.9" height="2.9" fill="#22ffdd"/><rect x="195" y="77.5" width="2.9" height="2.9" fill="#3affc5"/><rect x="197.5" y="77.5" width="2.9" height="2.9" fill="#53ffac"/><rect x="200" y="77.5" width="2.9" height="2.9" fill="#46ffb9"/><rect x="202.5" y="77.5" width="2.9" height="2.9" fill="#3affc5"/><rect x="205" y="77.5" width="2.9" height="2.9" fill="#22ffdd"/><rect x="207.5" y="77.5" width="2.9" height="2.9" fill="#15ffea"/><rect x="210" y="77.5" width="2.9" height="2.9" fill="#09fff6"/><rect x="212.5" y="77.5" width="7.9" height="2.9" fill="#00f0ff"/><rect x="220" y="77.5" width="2.9" height="2.9" fill="#09fff6"/><rect x="222.5" y="77.5" width="2.9" height="2.9" fill="#15ffea"/><rect x="225" y="77.5" width="5.4" height="2.9" fill="#22ffdd"/><rect x="230" y="77.5" width="2.9" height="2.9" fill="#2effd1"/><rect x="232.5" y="77.5" width="2.9" height="2.9" fill="#3affc5"/><rect x="235" y="77.5" width="2.9" height="2.9" fill="#53ffac"/><rect x="237.5" y="77.5" width="5.4" height="2.9" fill="#5fffa0"/><rect x="160" y="80" width="2.9" height="2.9" fill="#d9ff26"/><rect x="162.5" y="80" width="2.9" height="2.9" fill="#e5ff1a"/><rect x="165" y="80" width="2.9" height="2.9" fill="#f2ff0d"/><rect x="167.5" y="80" width="2.9" height="2.9" fill="#feff01"/><rect x="170" y="80" width="5.4" height="2.9" fill="#fff400"/><rect x="175" y="80" width="2.9" height="2.9" fill="#e5ff1a"/><rect x="177.5" y="80" width="2.9" height="2.9" fill="#9cff63"/><rect x="180" y="80" width="2.9" height="2.9" fill="#b5ff4a"/><rect x="182.5" y="80" width="2.9" height="2.9" fill="#d9ff26"/><rect x="185" y="80" width="2.9" height="2.9" fill="#b5ff4a"/><rect x="187.5" y="80" width="2.9" height="2.9" fill="#46ffb9"/><rect x="190" y="80" width="2.9" height="2.9" fill="#2effd1"/><rect x="192.5" y="80" width="2.9" height="2.9" fill="#3affc5"/><rect x="195" y="80" width="2.9" height="2.9" fill="#53ffac"/><rect x="197.5" y="80" width="2.9" height="2.9" fill="#5fffa0"/><rect x="200" y="80" width="2.9" height="2.9" fill="#53ffac"/><rect x="202.5" y="80" width="2.9" height="2.9" fill="#3affc5"/><rect x="205" y="80" width="2.9" height="2.9" fill="#22ffdd"/><rect x="207.5" y="80" width="7.9" height="2.9" fill="#09fff6"/><rect x="215" y="80" width="5.4" height="2.9" fill="#00fcff"/><rect x="220" y="80" width="2.9" height="2.9" fill="#15ffea"/><rect x="222.5" y="80" width="7.9" height="2.9" fill="#22ffdd"/><rect x="230" y="80" width="2.9" height="2.9" fill="#2effd1"/><rect x="232.5" y="80" width="2.9" height="2.9" fill="#46ffb9"/><rect x="235" y="80" width="2.9" height="2.9" fill="#53ffac"/><rect x="237.5" y="80" width="2.9" height="2.9" fill="#6bff94"/><rect x="240" y="80" width="2.9" height="2.9" fill="#77ff88"/><rect x="160" y="82.5" width="5.4" height="2.9" fill="#f2ff0d"/><rect x="165" y="82.5" width="2.9" height="2.9" fill="#feff01"/><rect x="167.5" y="82.5" width="2.9" height="2.9" fill="#fff400"/><rect x="170" y="82.5" width="5.4" height="2.9" fill="#ffdb00"/><rect x="175" y="82.5" width="2.9" height="2.9" fill="#ffe800"/><rect x="177.5" y="82.5" width="10.4" height="2.9" fill="#e5ff1a"/><rect x="187.5" y="82.5" width="2.9" height="2.9" fill="#c1ff3e"/><rect x="190" y="82.5" width="2.9" height="2.9" fill="#9cff63"/><rect x="192.5" y="82.5" width="2.9" height="2.9" fill="#90ff6f"/><rect x="195" y="82.5" width="2.9" height="2.9" fill="#84ff7b"/><rect x="197.5" y="82.5" width="2.9" height="2.9" fill="#77ff88"/><rect x="200" y="82.5" width="2.9" height="2.9" fill="#5fffa0"/><rect x="202.5" y="82.5" width="2.9" height="2.9" fill="#46ffb9"/><rect x="205" y="82.5" width="2.9" height="2.9" fill="#22ffdd"/><rect x="207.5" y="82.5" width="7.9" height="2.9" fill="#09fff6"/><rect x="215" y="82.5" width="2.9" height="2.9" fill="#15ffea"/><rect x="217.5" y="82.5" width="2.9" height="2.9" fill="#22ffdd"/><rect x="220" y="82.5" width="2.9" height="2.9" fill="#2effd1"/><rect x="222.5" y="82.5" width="2.9" height="2.9" fill="#22ffdd"/><rect x="225" y="82.5" width="2.9" height="2.9" fill="#15ffea"/><rect x="227.5" y="82.5" width="2.9" height="2.9" fill="#22ffdd"/><rect x="230" y="82.5" width="2.9" height="2.9" fill="#2effd1"/><rect x="232.5" y="82.5" width="2.9" height="2.9" fill="#46ffb9"/><rect x="235" y="82.5" width="2.9" height="2.9" fill="#6bff94"/><rect x="237.5" y="82.5" width="2.9" height="2.9" fill="#77ff88"/><rect x="240" y="82.5" width="2.9" height="2.9" fill="#84ff7b"/><rect x="160" y="85" width="2.9" height="2.9" fill="#feff01"/><rect x="162.5" y="85" width="2.9" height="2.9" fill="#fff400"/><rect x="165" y="85" width="5.4" height="2.9" fill="#ffe800"/><rect x="170" y="85" width="7.9" height="2.9" fill="#ffdb00"/><rect x="177.5" y="85" width="2.9" height="2.9" fill="#ffe800"/><rect x="180" y="85" width="2.9" height="2.9" fill="#f2ff0d"/><rect x="182.5" y="85" width="2.9" height="2.9" fill="#e5ff1a"/><rect x="185" y="85" width="2.9" height="2.9" fill="#feff01"/><rect x="187.5" y="85" width="2.9" height="2.9" fill="#ffcf00"/><rect x="190" y="85" width="2.9" height="2.9" fill="#ffdb00"/><rect x="192.5" y="85" width="2.9" height="2.9" fill="#f2ff0d"/><rect x="195" y="85" width="2.9" height="2.9" fill="#c1ff3e"/><rect x="197.5" y="85" width="2.9" height="2.9" fill="#9cff63"/><rect x="200" y="85" width="2.9" height="2.9" fill="#77ff88"/><rect x="202.5" y="85" width="2.9" height="2.9" fill="#53ffac"/><rect x="205" y="85" width="2.9" height="2.9" fill="#3affc5"/><rect x="207.5" y="85" width="2.9" height="2.9" fill="#15ffea"/><rect x="210" y="85" width="2.9" height="2.9" fill="#09fff6"/><rect x="212.5" y="85" width="2.9" height="2.9" fill="#22ffdd"/><rect x="215" y="85" width="2.9" height="2.9" fill="#3affc5"/><rect x="217.5" y="85" width="5.4" height="2.9" fill="#53ffac"/><rect x="222.5" y="85" width="2.9" height="2.9" fill="#3affc5"/><rect x="225" y="85" width="5.4" height="2.9" fill="#22ffdd"/><rect x="230" y="85" width="2.9" height="2.9" fill="#46ffb9"/><rect x="232.5" y="85" width="2.9" height="2.9" fill="#5fffa0"/><rect x="235" y="85" width="2.9" height="2.9" fill="#84ff7b"/><rect x="237.5" y="85" width="2.9" height="2.9" fill="#90ff6f"/><rect x="240" y="85" width="2.9" height="2.9" fill="#9cff63"/><rect x="160" y="87.5" width="2.9" height="2.9" fill="#fff400"/><rect x="162.5" y="87.5" width="2.9" height="2.9" fill="#ffe800"/><rect x="165" y="87.5" width="5.4" height="2.9" fill="#ffdb00"/><rect x="170" y="87.5" width="2.9" height="2.9" fill="#ffcf00"/><rect x="172.5" y="87.5" width="5.4" height="2.9" fill="#ffb700"/><rect x="177.5" y="87.5" width="2.9" height="2.9" fill="#ffc300"/><rect x="180" y="87.5" width="5.4" height="2.9" fill="#ffe800"/><rect x="185" y="87.5" width="2.9" height="2.9" fill="#ffaa00"/><rect x="187.5" y="87.5" width="2.9" height="2.9" fill="#ff9e00"/><rect x="190" y="87.5" width="2.9" height="2.9" fill="#ffaa00"/><rect x="192.5" y="87.5" width="2.9" height="2.9" fill="#ffdb00"/><rect x="195" y="87.5" width="2.9" height="2.9" fill="#d9ff26"/><rect x="197.5" y="87.5" width="2.9" height="2.9" fill="#a8ff57"/><rect x="200" y="87.5" width="2.9" height="2.9" fill="#84ff7b"/><rect x="202.5" y="87.5" width="2.9" height="2.9" fill="#5fffa0"/><rect x="205" y="87.5" width="2.9" height="2.9" fill="#53ffac"/><rect x="207.5" y="87.5" width="5.4" height="2.9" fill="#46ffb9"/><rect x="212.5" y="87.5" width="2.9" height="2.9" fill="#53ffac"/><rect x="215" y="87.5" width="2.9" height="2.9" fill="#6bff94"/><rect x="217.5" y="87.5" width="2.9" height="2.9" fill="#77ff88"/><rect x="220" y="87.5" width="2.9" height="2.9" fill="#6bff94"/><rect x="222.5" y="87.5" width="7.9" height="2.9" fill="#5fffa0"/><rect x="230" y="87.5" width="2.9" height="2.9" fill="#77ff88"/><rect x="232.5" y="87.5" width="2.9" height="2.9" fill="#90ff6f"/><rect x="235" y="87.5" width="2.9" height="2.9" fill="#9cff63"/><rect x="237.5" y="87.5" width="5.4" height="2.9" fill="#a8ff57"/><rect x="160" y="90" width="5.4" height="2.9" fill="#ffdb00"/><rect x="165" y="90" width="5.4" height="2.9" fill="#ffcf00"/><rect x="170" y="90" width="2.9" height="2.9" fill="#ffc300"/><rect x="172.5" y="90" width="7.9" height="2.9" fill="#ffb700"/><rect x="180" y="90" width="5.4" height="2.9" fill="#ffaa00"/><rect x="185" y="90" width="5.4" height="2.9" fill="#ff9e00"/><rect x="190" y="90" width="2.9" height="2.9" fill="#ffaa00"/><rect x="192.5" y="90" width="2.9" height="2.9" fill="#ffcf00"/><rect x="195" y="90" width="2.9" height="2.9" fill="#e5ff1a"/><rect x="197.5" y="90" width="2.9" height="2.9" fill="#a8ff57"/><rect x="200" y="90" width="2.9" height="2.9" fill="#90ff6f"/><rect x="202.5" y="90" width="2.9" height="2.9" fill="#77ff88"/><rect x="205" y="90" width="5.4" height="2.9" fill="#53ffac"/><rect x="210" y="90" width="2.9" height="2.9" fill="#5fffa0"/><rect x="212.5" y="90" width="2.9" height="2.9" fill="#90ff6f"/><rect x="215" y="90" width="5.4" height="2.9" fill="#9cff63"/><rect x="220" y="90" width="2.9" height="2.9" fill="#77ff88"/><rect x="222.5" y="90" width="2.9" height="2.9" fill="#5fffa0"/><rect x="225" y="90" width="2.9" height="2.9" fill="#6bff94"/><rect x="227.5" y="90" width="2.9" height="2.9" fill="#84ff7b"/><rect x="230" y="90" width="2.9" height="2.9" fill="#b5ff4a"/><rect x="232.5" y="90" width="10.4" height="2.9" fill="#c1ff3e"/><rect x="160" y="92.5" width="5.4" height="2.9" fill="#ffcf00"/><rect x="165" y="92.5" width="10.4" height="2.9" fill="#ffc300"/><rect x="175" y="92.5" width="2.9" height="2.9" fill="#ffb700"/><rect x="177.5" y="92.5" width="2.9" height="2.9" fill="#ff9200"/><rect x="180" y="92.5" width="2.9" height="2.9" fill="#ff7900"/><rect x="182.5" y="92.5" width="2.9" height="2.9" fill="#ff8600"/><rect x="185" y="92.5" width="2.9" height="2.9" fill="#ff9e00"/><rect x="187.5" y="92.5" width="2.9" height="2.9" fill="#ffaa00"/><rect x="190" y="92.5" width="2.9" height="2.9" fill="#ffb700"/><rect x="192.5" y="92.5" width="2.9" height="2.9" fill="#ffdb00"/><rect x="195" y="92.5" width="2.9" height="2.9" fill="#d9ff26"/><rect x="197.5" y="92.5" width="2.9" height="2.9" fill="#a8ff57"/><rect x="200" y="92.5" width="5.4" height="2.9" fill="#84ff7b"/><rect x="205" y="92.5" width="5.4" height="2.9" fill="#77ff88"/><rect x="210" y="92.5" width="2.9" height="2.9" fill="#a8ff57"/><rect x="212.5" y="92.5" width="2.9" height="2.9" fill="#b5ff4a"/><rect x="215" y="92.5" width="5.4" height="2.9" fill="#c1ff3e"/><rect x="220" y="92.5" width="5.4" height="2.9" fill="#cdff32"/><rect x="225" y="92.5" width="2.9" height="2.9" fill="#b5ff4a"/><rect x="227.5" y="92.5" width="2.9" height="2.9" fill="#c1ff3e"/><rect x="230" y="92.5" width="12.9" height="2.9" fill="#cdff32"/><rect x="160" y="95" width="2.9" height="2.9" fill="#ffcf00"/><rect x="162.5" y="95" width="12.9" height="2.9" fill="#ffc300"/><rect x="175" y="95" width="2.9" height="2.9" fill="#ffaa00"/><rect x="177.5" y="95" width="7.9" height="2.9" fill="#ff7900"/><rect x="185" y="95" width="2.9" height="2.9" fill="#ff9200"/><rect x="187.5" y="95" width="2.9" height="2.9" fill="#ffaa00"/><rect x="190" y="95" width="2.9" height="2.9" fill="#ffc300"/><rect x="192.5" y="95" width="2.9" height="2.9" fill="#fff400"/><rect x="195" y="95" width="2.9" height="2.9" fill="#d9ff26"/><rect x="197.5" y="95" width="2.9" height="2.9" fill="#b5ff4a"/><rect x="200" y="95" width="5.4" height="2.9" fill="#84ff7b"/><rect x="205" y="95" width="2.9" height="2.9" fill="#90ff6f"/><rect x="207.5" y="95" width="2.9" height="2.9" fill="#b5ff4a"/><rect x="210" y="95" width="7.9" height="2.9" fill="#c1ff3e"/><rect x="217.5" y="95" width="2.9" height="2.9" fill="#d9ff26"/><rect x="220" y="95" width="7.9" height="2.9" fill="#e5ff1a"/><rect x="227.5" y="95" width="2.9" height="2.9" fill="#d9ff26"/><rect x="230" y="95" width="5.4" height="2.9" fill="#cdff32"/><rect x="235" y="95" width="7.9" height="2.9" fill="#d9ff26"/><rect x="160" y="97.5" width="2.9" height="2.9" fill="#ffc300"/><rect x="162.5" y="97.5" width="7.9" height="2.9" fill="#ffb700"/><rect x="170" y="97.5" width="2.9" height="2.9" fill="#ffc300"/><rect x="172.5" y="97.5" width="2.9" height="2.9" fill="#ffb700"/><rect x="175" y="97.5" width="2.9" height="2.9" fill="#ff9200"/><rect x="177.5" y="97.5" width="7.9" height="2.9" fill="#ff6d00"/><rect x="185" y="97.5" width="2.9" height="2.9" fill="#ff8600"/><rect x="187.5" y="97.5" width="2.9" height="2.9" fill="#ffaa00"/><rect x="190" y="97.5" width="2.9" height="2.9" fill="#ffcf00"/><rect x="192.5" y="97.5" width="2.9" height="2.9" fill="#feff01"/><rect x="195" y="97.5" width="2.9" height="2.9" fill="#e5ff1a"/><rect x="197.5" y="97.5" width="2.9" height="2.9" fill="#d9ff26"/><rect x="200" y="97.5" width="2.9" height="2.9" fill="#c1ff3e"/><rect x="202.5" y="97.5" width="2.9" height="2.9" fill="#9cff63"/><rect x="205" y="97.5" width="2.9" height="2.9" fill="#d9ff26"/><rect x="207.5" y="97.5" width="2.9" height="2.9" fill="#e5ff1a"/><rect x="210" y="97.5" width="5.4" height="2.9" fill="#d9ff26"/><rect x="215" y="97.5" width="5.4" height="2.9" fill="#fff400"/><rect x="220" y="97.5" width="2.9" height="2.9" fill="#f2ff0d"/><rect x="222.5" y="97.5" width="2.9" height="2.9" fill="#e5ff1a"/><rect x="225" y="97.5" width="5.4" height="2.9" fill="#feff01"/><rect x="230" y="97.5" width="5.4" height="2.9" fill="#d9ff26"/><rect x="235" y="97.5" width="7.9" height="2.9" fill="#e5ff1a"/><rect x="160" y="100" width="12.9" height="2.9" fill="#ffb700"/><rect x="172.5" y="100" width="2.9" height="2.9" fill="#ffaa00"/><rect x="175" y="100" width="2.9" height="2.9" fill="#ff7900"/><rect x="177.5" y="100" width="2.9" height="2.9" fill="#ff5500"/><rect x="180" y="100" width="2.9" height="2.9" fill="#ff4800"/><rect x="182.5" y="100" width="2.9" height="2.9" fill="#ff5500"/><rect x="185" y="100" width="2.9" height="2.9" fill="#ff7900"/><rect x="187.5" y="100" width="2.9" height="2.9" fill="#ff9e00"/><rect x="190" y="100" width="2.9" height="2.9" fill="#ffcf00"/><rect x="192.5" y="100" width="2.9" height="2.9" fill="#feff01"/><rect x="195" y="100" width="7.9" height="2.9" fill="#e5ff1a"/><rect x="202.5" y="100" width="2.9" height="2.9" fill="#f2ff0d"/><rect x="205" y="100" width="7.9" height="2.9" fill="#ffe800"/><rect x="212.5" y="100" width="5.4" height="2.9" fill="#ffb700"/><rect x="217.5" y="100" width="2.9" height="2.9" fill="#ffc300"/><rect x="220" y="100" width="2.9" height="2.9" fill="#ffdb00"/><rect x="222.5" y="100" width="2.9" height="2.9" fill="#ffe800"/><rect x="225" y="100" width="5.4" height="2.9" fill="#ffdb00"/><rect x="230" y="100" width="2.9" height="2.9" fill="#ffe800"/><rect x="232.5" y="100" width="2.9" height="2.9" fill="#fff400"/><rect x="235" y="100" width="7.9" height="2.9" fill="#feff01"/><rect x="160" y="102.5" width="10.4" height="2.9" fill="#ffb700"/><rect x="170" y="102.5" width="2.9" height="2.9" fill="#ffaa00"/><rect x="172.5" y="102.5" width="2.9" height="2.9" fill="#ff9200"/><rect x="175" y="102.5" width="2.9" height="2.9" fill="#ff7900"/><rect x="177.5" y="102.5" width="2.9" height="2.9" fill="#ff5500"/><rect x="180" y="102.5" width="2.9" height="2.9" fill="#ff4800"/><rect x="182.5" y="102.5" width="2.9" height="2.9" fill="#ff5500"/><rect x="185" y="102.5" width="2.9" height="2.9" fill="#ff6100"/><rect x="187.5" y="102.5" width="2.9" height="2.9" fill="#ff8600"/><rect x="190" y="102.5" width="2.9" height="2.9" fill="#ffcf00"/><rect x="192.5" y="102.5" width="2.9" height="2.9" fill="#feff01"/><rect x="195" y="102.5" width="7.9" height="2.9" fill="#e5ff1a"/><rect x="202.5" y="102.5" width="2.9" height="2.9" fill="#feff01"/><rect x="205" y="102.5" width="5.4" height="2.9" fill="#ffe800"/><rect x="210" y="102.5" width="2.9" height="2.9" fill="#ffdb00"/><rect x="212.5" y="102.5" width="5.4" height="2.9" fill="#ffb700"/><rect x="217.5" y="102.5" width="2.9" height="2.9" fill="#ffaa00"/><rect x="220" y="102.5" width="2.9" height="2.9" fill="#ff9e00"/><rect x="222.5" y="102.5" width="2.9" height="2.9" fill="#ffb700"/><rect x="225" y="102.5" width="12.9" height="2.9" fill="#ffdb00"/><rect x="237.5" y="102.5" width="2.9" height="2.9" fill="#ffe800"/><rect x="240" y="102.5" width="2.9" height="2.9" fill="#fff400"/><rect x="160" y="105" width="2.9" height="2.9" fill="#ffb700"/><rect x="162.5" y="105" width="5.4" height="2.9" fill="#ffaa00"/><rect x="167.5" y="105" width="2.9" height="2.9" fill="#ff9e00"/><rect x="170" y="105" width="5.4" height="2.9" fill="#ff8600"/><rect x="175" y="105" width="2.9" height="2.9" fill="#ff7900"/><rect x="177.5" y="105" width="2.9" height="2.9" fill="#ff6100"/><rect x="180" y="105" width="2.9" height="2.9" fill="#ff5500"/><rect x="182.5" y="105" width="2.9" height="2.9" fill="#ff4800"/><rect x="185" y="105" width="2.9" height="2.9" fill="#ff5500"/><rect x="187.5" y="105" width="2.9" height="2.9" fill="#ff7900"/><rect x="190" y="105" width="2.9" height="2.9" fill="#ffc300"/><rect x="192.5" y="105" width="2.9" height="2.9" fill="#feff01"/><rect x="195" y="105" width="7.9" height="2.9" fill="#e5ff1a"/><rect x="202.5" y="105" width="2.9" height="2.9" fill="#feff01"/><rect x="205" y="105" width="5.4" height="2.9" fill="#fff400"/><rect x="210" y="105" width="2.9" height="2.9" fill="#ffcf00"/><rect x="212.5" y="105" width="2.9" height="2.9" fill="#ff9e00"/><rect x="215" y="105" width="2.9" height="2.9" fill="#ff7900"/><rect x="217.5" y="105" width="2.9" height="2.9" fill="#ff8600"/><rect x="220" y="105" width="2.9" height="2.9" fill="#ff7900"/><rect x="222.5" y="105" width="2.9" height="2.9" fill="#ff8600"/><rect x="225" y="105" width="10.4" height="2.9" fill="#ffb700"/><rect x="235" y="105" width="2.9" height="2.9" fill="#ffcf00"/><rect x="237.5" y="105" width="2.9" height="2.9" fill="#ffdb00"/><rect x="240" y="105" width="2.9" height="2.9" fill="#ffe800"/><rect x="160" y="107.5" width="2.9" height="2.9" fill="#ffb700"/><rect x="162.5" y="107.5" width="2.9" height="2.9" fill="#ffaa00"/><rect x="165" y="107.5" width="2.9" height="2.9" fill="#ff9e00"/><rect x="167.5" y="107.5" width="2.9" height="2.9" fill="#ff9200"/><rect x="170" y="107.5" width="5.4" height="2.9" fill="#ff8600"/><rect x="175" y="107.5" width="2.9" height="2.9" fill="#ff7900"/><rect x="177.5" y="107.5" width="2.9" height="2.9" fill="#ff6d00"/><rect x="180" y="107.5" width="2.9" height="2.9" fill="#ff5500"/><rect x="182.5" y="107.5" width="2.9" height="2.9" fill="#ff4800"/><rect x="185" y="107.5" width="2.9" height="2.9" fill="#ff5500"/><rect x="187.5" y="107.5" width="2.9" height="2.9" fill="#ff6d00"/><rect x="190" y="107.5" width="2.9" height="2.9" fill="#ffc300"/><rect x="192.5" y="107.5" width="2.9" height="2.9" fill="#feff01"/><rect x="195" y="107.5" width="7.9" height="2.9" fill="#e5ff1a"/><rect x="202.5" y="107.5" width="2.9" height="2.9" fill="#feff01"/><rect x="205" y="107.5" width="5.4" height="2.9" fill="#fff400"/><rect x="210" y="107.5" width="2.9" height="2.9" fill="#ffcf00"/><rect x="212.5" y="107.5" width="2.9" height="2.9" fill="#ff9200"/><rect x="215" y="107.5" width="10.4" height="2.9" fill="#ff7900"/><rect x="225" y="107.5" width="2.9" height="2.9" fill="#ffaa00"/><rect x="227.5" y="107.5" width="7.9" height="2.9" fill="#ffb700"/><rect x="235" y="107.5" width="2.9" height="2.9" fill="#ffc300"/><rect x="237.5" y="107.5" width="2.9" height="2.9" fill="#ffcf00"/><rect x="240" y="107.5" width="2.9" height="2.9" fill="#ffdb00"/><rect x="160" y="110" width="5.4" height="2.9" fill="#ffaa00"/><rect x="165" y="110" width="2.9" height="2.9" fill="#ff9e00"/><rect x="167.5" y="110" width="2.9" height="2.9" fill="#ff9200"/><rect x="170" y="110" width="5.4" height="2.9" fill="#ff8600"/><rect x="175" y="110" width="2.9" height="2.9" fill="#ff7900"/><rect x="177.5" y="110" width="2.9" height="2.9" fill="#ff6d00"/><rect x="180" y="110" width="7.9" height="2.9" fill="#ff5500"/><rect x="187.5" y="110" width="2.9" height="2.9" fill="#ff7900"/><rect x="190" y="110" width="2.9" height="2.9" fill="#ffc300"/><rect x="192.5" y="110" width="2.9" height="2.9" fill="#fff400"/><rect x="195" y="110" width="7.9" height="2.9" fill="#f2ff0d"/><rect x="202.5" y="110" width="5.4" height="2.9" fill="#feff01"/><rect x="207.5" y="110" width="2.9" height="2.9" fill="#ffe800"/><rect x="210" y="110" width="2.9" height="2.9" fill="#ffdb00"/><rect x="212.5" y="110" width="2.9" height="2.9" fill="#ffcf00"/><rect x="215" y="110" width="2.9" height="2.9" fill="#ff9200"/><rect x="217.5" y="110" width="2.9" height="2.9" fill="#ff8600"/><rect x="220" y="110" width="5.4" height="2.9" fill="#ff9200"/><rect x="225" y="110" width="2.9" height="2.9" fill="#ffaa00"/><rect x="227.5" y="110" width="2.9" height="2.9" fill="#ffb700"/><rect x="230" y="110" width="7.9" height="2.9" fill="#ffc300"/><rect x="237.5" y="110" width="5.4" height="2.9" fill="#ffcf00"/><rect x="160" y="112.5" width="5.4" height="2.9" fill="#ffaa00"/><rect x="165" y="112.5" width="2.9" height="2.9" fill="#ff9e00"/><rect x="167.5" y="112.5" width="2.9" height="2.9" fill="#ff9200"/><rect x="170" y="112.5" width="7.9" height="2.9" fill="#ff8600"/><rect x="177.5" y="112.5" width="2.9" height="2.9" fill="#ff7900"/><rect x="180" y="112.5" width="2.9" height="2.9" fill="#ff6d00"/><rect x="182.5" y="112.5" width="2.9" height="2.9" fill="#ff6100"/><rect x="185" y="112.5" width="2.9" height="2.9" fill="#ff6d00"/><rect x="187.5" y="112.5" width="2.9" height="2.9" fill="#ff9200"/><rect x="190" y="112.5" width="2.9" height="2.9" fill="#ffcf00"/><rect x="192.5" y="112.5" width="2.9" height="2.9" fill="#fff400"/><rect x="195" y="112.5" width="12.9" height="2.9" fill="#feff01"/><rect x="207.5" y="112.5" width="2.9" height="2.9" fill="#ffe800"/><rect x="210" y="112.5" width="5.4" height="2.9" fill="#ffdb00"/><rect x="215" y="112.5" width="2.9" height="2.9" fill="#ffc300"/><rect x="217.5" y="112.5" width="7.9" height="2.9" fill="#ff9200"/><rect x="225" y="112.5" width="2.9" height="2.9" fill="#ffaa00"/><rect x="227.5" y="112.5" width="10.4" height="2.9" fill="#ffc300"/><rect x="237.5" y="112.5" width="5.4" height="2.9" fill="#ffcf00"/><rect x="160" y="115" width="2.9" height="2.9" fill="#ffb700"/><rect x="162.5" y="115" width="2.9" height="2.9" fill="#ffaa00"/><rect x="165" y="115" width="2.9" height="2.9" fill="#ff9e00"/><rect x="167.5" y="115" width="5.4" height="2.9" fill="#ff9200"/><rect x="172.5" y="115" width="7.9" height="2.9" fill="#ff8600"/><rect x="180" y="115" width="5.4" height="2.9" fill="#ff7900"/><rect x="185" y="115" width="2.9" height="2.9" fill="#ff9200"/><rect x="187.5" y="115" width="2.9" height="2.9" fill="#ffaa00"/><rect x="190" y="115" width="2.9" height="2.9" fill="#ffcf00"/><rect x="192.5" y="115" width="2.9" height="2.9" fill="#fff400"/><rect x="195" y="115" width="12.9" height="2.9" fill="#feff01"/><rect x="207.5" y="115" width="2.9" height="2.9" fill="#ffe800"/><rect x="210" y="115" width="5.4" height="2.9" fill="#ffdb00"/><rect x="215" y="115" width="2.9" height="2.9" fill="#ffc300"/><rect x="217.5" y="115" width="2.9" height="2.9" fill="#ff9e00"/><rect x="220" y="115" width="2.9" height="2.9" fill="#ff9200"/><rect x="222.5" y="115" width="2.9" height="2.9" fill="#ff9e00"/><rect x="225" y="115" width="2.9" height="2.9" fill="#ffaa00"/><rect x="227.5" y="115" width="10.4" height="2.9" fill="#ffc300"/><rect x="237.5" y="115" width="5.4" height="2.9" fill="#ffcf00"/><rect x="160" y="117.5" width="2.9" height="2.9" fill="#ffb700"/><rect x="162.5" y="117.5" width="5.4" height="2.9" fill="#ffaa00"/><rect x="167.5" y="117.5" width="5.4" height="2.9" fill="#ff9e00"/><rect x="172.5" y="117.5" width="12.9" height="2.9" fill="#ff9200"/><rect x="185" y="117.5" width="2.9" height="2.9" fill="#ffaa00"/><rect x="187.5" y="117.5" width="2.9" height="2.9" fill="#ffc300"/><rect x="190" y="117.5" width="2.9" height="2.9" fill="#ffdb00"/><rect x="192.5" y="117.5" width="2.9" height="2.9" fill="#fff400"/><rect x="195" y="117.5" width="10.4" height="2.9" fill="#feff01"/><rect x="205" y="117.5" width="2.9" height="2.9" fill="#fff400"/><rect x="207.5" y="117.5" width="2.9" height="2.9" fill="#ffe800"/><rect x="210" y="117.5" width="2.9" height="2.9" fill="#ffdb00"/><rect x="212.5" y="117.5" width="2.9" height="2.9" fill="#ffcf00"/><rect x="215" y="117.5" width="2.9" height="2.9" fill="#ffc300"/><rect x="217.5" y="117.5" width="2.9" height="2.9" fill="#ffaa00"/><rect x="220" y="117.5" width="5.4" height="2.9" fill="#ff9e00"/><rect x="225" y="117.5" width="2.9" height="2.9" fill="#ffaa00"/><rect x="227.5" y="117.5" width="10.4" height="2.9" fill="#ffc300"/><rect x="237.5" y="117.5" width="5.4" height="2.9" fill="#ffcf00"/><rect x="160" y="120" width="2.9" height="2.9" fill="#ffc300"/><rect x="162.5" y="120" width="2.9" height="2.9" fill="#ffb700"/><rect x="165" y="120" width="7.9" height="2.9" fill="#ffaa00"/><rect x="172.5" y="120" width="10.4" height="2.9" fill="#ff9e00"/><rect x="182.5" y="120" width="2.9" height="2.9" fill="#ffaa00"/><rect x="185" y="120" width="2.9" height="2.9" fill="#ffb700"/><rect x="187.5" y="120" width="2.9" height="2.9" fill="#ffcf00"/><rect x="190" y="120" width="2.9" height="2.9" fill="#ffdb00"/><rect x="192.5" y="120" width="2.9" height="2.9" fill="#ffe800"/><rect x="195" y="120" width="2.9" height="2.9" fill="#fff400"/><rect x="197.5" y="120" width="5.4" height="2.9" fill="#feff01"/><rect x="202.5" y="120" width="5.4" height="2.9" fill="#fff400"/><rect x="207.5" y="120" width="2.9" height="2.9" fill="#ffe800"/><rect x="210" y="120" width="2.9" height="2.9" fill="#ffdb00"/><rect x="212.5" y="120" width="2.9" height="2.9" fill="#ffcf00"/><rect x="215" y="120" width="2.9" height="2.9" fill="#ffc300"/><rect x="217.5" y="120" width="2.9" height="2.9" fill="#ffb700"/><rect x="220" y="120" width="5.4" height="2.9" fill="#ffaa00"/><rect x="225" y="120" width="2.9" height="2.9" fill="#ffb700"/><rect x="227.5" y="120" width="7.9" height="2.9" fill="#ffc300"/><rect x="235" y="120" width="7.9" height="2.9" fill="#ffcf00"/><rect x="160" y="122.5" width="5.4" height="2.9" fill="#ffc300"/><rect x="165" y="122.5" width="5.4" height="2.9" fill="#ffb700"/><rect x="170" y="122.5" width="10.4" height="2.9" fill="#ffaa00"/><rect x="180" y="122.5" width="5.4" height="2.9" fill="#ffb700"/><rect x="185" y="122.5" width="2.9" height="2.9" fill="#ffc300"/><rect x="187.5" y="122.5" width="2.9" height="2.9" fill="#ffcf00"/><rect x="190" y="122.5" width="2.9" height="2.9" fill="#ffdb00"/><rect x="192.5" y="122.5" width="2.9" height="2.9" fill="#ffe800"/><rect x="195" y="122.5" width="10.4" height="2.9" fill="#fff400"/><rect x="205" y="122.5" width="5.4" height="2.9" fill="#ffe800"/><rect x="210" y="122.5" width="2.9" height="2.9" fill="#ffdb00"/><rect x="212.5" y="122.5" width="5.4" height="2.9" fill="#ffcf00"/><rect x="217.5" y="122.5" width="2.9" height="2.9" fill="#ffc300"/><rect x="220" y="122.5" width="5.4" height="2.9" fill="#ffb700"/><rect x="225" y="122.5" width="7.9" height="2.9" fill="#ffc300"/><rect x="232.5" y="122.5" width="7.9" height="2.9" fill="#ffcf00"/><rect x="240" y="122.5" width="2.9" height="2.9" fill="#ffdb00"/></g></g>
<use href="#st"/><use href="#bl"/>
</g>
<rect x="441.55" y="95.45" width="23.10" height="214.80" fill="url(#jet)" stroke="#1a1a1a" stroke-width="0.9"/>
<path d="M464.60 124.40h-2.6" stroke="#1a1a1a" stroke-width="0.8"/>
<text class="t" x="472.90" y="131.80">0</text>
<path d="M464.60 187.55h-2.6" stroke="#1a1a1a" stroke-width="0.8"/>
<text class="t" x="472.90" y="194.95">-10</text>
<path d="M464.60 251.10h-2.6" stroke="#1a1a1a" stroke-width="0.8"/>
<text class="t" x="472.90" y="258.50">-20</text>
<text class="l" x="145.80" y="112.60">48</text>
<text class="l" x="175.10" y="112.60">N</text>
<text class="d" transform="translate(167.60,100.00) scale(1.28,.92)" y="5.16">°</text>
<text class="l" x="145.80" y="130.40">46</text>
<text class="l" x="175.10" y="130.40">N</text>
<text class="d" transform="translate(167.60,117.80) scale(1.28,.92)" y="5.16">°</text>
<text class="l" x="145.80" y="147.50">44</text>
<text class="l" x="175.10" y="147.50">N</text>
<text class="d" transform="translate(167.60,134.90) scale(1.28,.92)" y="5.16">°</text>
<text class="l" x="145.80" y="166.20">42</text>
<text class="l" x="175.10" y="166.20">N</text>
<text class="d" transform="translate(167.60,153.60) scale(1.28,.92)" y="5.16">°</text>
<text class="l" x="145.80" y="182.20">40</text>
<text class="l" x="175.10" y="182.20">N</text>
<text class="d" transform="translate(167.60,169.60) scale(1.28,.92)" y="5.16">°</text>
<text class="l" x="145.80" y="197.70">38</text>
<text class="l" x="175.10" y="197.70">N</text>
<text class="d" transform="translate(167.60,185.10) scale(1.28,.92)" y="5.16">°</text>
<text class="l" x="145.80" y="214.50">36</text>
<text class="l" x="175.10" y="214.50">N</text>
<text class="d" transform="translate(167.60,201.90) scale(1.28,.92)" y="5.16">°</text>
<text class="l" x="145.80" y="228.40">34</text>
<text class="l" x="175.10" y="228.40">N</text>
<text class="d" transform="translate(167.60,215.80) scale(1.28,.92)" y="5.16">°</text>
<text class="l" x="145.80" y="245.40">32</text>
<text class="l" x="175.10" y="245.40">N</text>
<text class="d" transform="translate(167.60,232.80) scale(1.28,.92)" y="5.16">°</text>
<text class="l" x="145.80" y="259.30">30</text>
<text class="l" x="175.10" y="259.30">N</text>
<text class="d" transform="translate(167.60,246.70) scale(1.28,.92)" y="5.16">°</text>
<text class="l" x="145.80" y="272.40">28</text>
<text class="l" x="175.10" y="272.40">N</text>
<text class="d" transform="translate(167.60,259.80) scale(1.28,.92)" y="5.16">°</text>
<text class="l" x="145.80" y="287.30">26</text>
<text class="l" x="175.10" y="287.30">N</text>
<text class="d" transform="translate(167.60,274.70) scale(1.28,.92)" y="5.16">°</text>
<text class="l" x="145.80" y="301.10">24</text>
<text class="l" x="175.10" y="301.10">N</text>
<text class="d" transform="translate(167.60,288.50) scale(1.28,.92)" y="5.16">°</text>
<text class="l" x="145.80" y="314.50">22</text>
<text class="l" x="175.10" y="314.50">N</text>
<text class="d" transform="translate(167.60,301.90) scale(1.28,.92)" y="5.16">°</text>
<text class="l" x="215.30" y="77.05">100</text>
<text class="l" x="252.70" y="77.05">W</text>
<text class="d" transform="translate(244.40,65.15) scale(1.28,.92)" y="5.16">°</text>
<text class="l" x="284.30" y="77.05">90</text>
<text class="l" x="314.10" y="77.05">W</text>
<text class="d" transform="translate(305.00,65.15) scale(1.28,.92)" y="5.16">°</text>
<text class="l" x="347.90" y="77.05">80</text>
<text class="l" x="377.70" y="77.05">W</text>
<text class="d" transform="translate(370.40,65.15) scale(1.28,.92)" y="5.16">°</text>
<text class="l" x="411.30" y="77.05">70</text>
<text class="l" x="440.70" y="77.05">W</text>
<text class="d" transform="translate(432.40,65.15) scale(1.28,.92)" y="5.16">°</text>
<text class="b" x="307.90" y="340.60" font-size="23" text-anchor="middle" textLength="408" lengthAdjust="spacing">SAT+RAP Negative Lifted Index</text>
<rect x="616.40" y="96.60" width="234.00" height="213.00" fill="none" stroke="#262626" stroke-width="1"/>
<g transform="translate(617.10,96.85) scale(1)">
<g clip-path="url(#cq)"><rect x="160" y="-9" width="82" height="132" fill="#00009e"/><g filter="url(#bl1)"><ellipse cx="203" cy="14" rx="14" ry="7" transform="rotate(35 203 14)" fill="#0000e6" opacity=".75"/><ellipse cx="215" cy="40" rx="10" ry="16" fill="#0000c8" opacity=".5"/><ellipse cx="188.5" cy="67.5" rx="10.5" ry="2.4" fill="#1e78ff"/><ellipse cx="192" cy="66.8" rx="4" ry="1.4" fill="#50b4ff"/><ellipse cx="185.7" cy="92" rx="4" ry="3.2" fill="#0030dc" opacity=".8"/><ellipse cx="210.7" cy="2.2" rx="4.4" ry="4.8" fill="#00d1ff"/><ellipse cx="211" cy="1.6" rx="2.4" ry="2.8" fill="#4dffb2"/><ellipse cx="224.9" cy="8.7" rx="5.6" ry="4.6" fill="#00d1ff"/><ellipse cx="224.9" cy="8.7" rx="3.4" ry="2.8" fill="#61ff9e"/><ellipse cx="225.1" cy="8.2" rx="1.8" ry="1.6" fill="#e5ff1a"/><ellipse cx="232.6" cy="2.6" rx="3.4" ry="6" fill="#00e5ff"/></g></g>
<use href="#st"/><use href="#bl"/>
</g>
<rect x="862.45" y="93.45" width="23.10" height="218.90" fill="url(#jet)" stroke="#1a1a1a" stroke-width="0.9"/>
<path d="M885.50 147.50h-2.6" stroke="#1a1a1a" stroke-width="0.8"/>
<text class="t" x="893.80" y="154.90">60</text>
<path d="M885.50 202.80h-2.6" stroke="#1a1a1a" stroke-width="0.8"/>
<text class="t" x="893.80" y="210.20">40</text>
<path d="M885.50 258.10h-2.6" stroke="#1a1a1a" stroke-width="0.8"/>
<text class="t" x="893.80" y="265.50">20</text>
<text class="t" x="893.80" y="320.00">0</text>
<text class="l" x="566.50" y="112.60">48</text>
<text class="l" x="595.80" y="112.60">N</text>
<text class="d" transform="translate(588.30,100.00) scale(1.28,.92)" y="5.16">°</text>
<text class="l" x="566.50" y="130.40">46</text>
<text class="l" x="595.80" y="130.40">N</text>
<text class="d" transform="translate(588.30,117.80) scale(1.28,.92)" y="5.16">°</text>
<text class="l" x="566.50" y="147.50">44</text>
<text class="l" x="595.80" y="147.50">N</text>
<text class="d" transform="translate(588.30,134.90) scale(1.28,.92)" y="5.16">°</text>
<text class="l" x="566.50" y="166.20">42</text>
<text class="l" x="595.80" y="166.20">N</text>
<text class="d" transform="translate(588.30,153.60) scale(1.28,.92)" y="5.16">°</text>
<text class="l" x="566.50" y="182.20">40</text>
<text class="l" x="595.80" y="182.20">N</text>
<text class="d" transform="translate(588.30,169.60) scale(1.28,.92)" y="5.16">°</text>
<text class="l" x="566.50" y="197.70">38</text>
<text class="l" x="595.80" y="197.70">N</text>
<text class="d" transform="translate(588.30,185.10) scale(1.28,.92)" y="5.16">°</text>
<text class="l" x="566.50" y="214.50">36</text>
<text class="l" x="595.80" y="214.50">N</text>
<text class="d" transform="translate(588.30,201.90) scale(1.28,.92)" y="5.16">°</text>
<text class="l" x="566.50" y="228.40">34</text>
<text class="l" x="595.80" y="228.40">N</text>
<text class="d" transform="translate(588.30,215.80) scale(1.28,.92)" y="5.16">°</text>
<text class="l" x="566.50" y="245.40">32</text>
<text class="l" x="595.80" y="245.40">N</text>
<text class="d" transform="translate(588.30,232.80) scale(1.28,.92)" y="5.16">°</text>
<text class="l" x="566.50" y="259.30">30</text>
<text class="l" x="595.80" y="259.30">N</text>
<text class="d" transform="translate(588.30,246.70) scale(1.28,.92)" y="5.16">°</text>
<text class="l" x="566.50" y="272.40">28</text>
<text class="l" x="595.80" y="272.40">N</text>
<text class="d" transform="translate(588.30,259.80) scale(1.28,.92)" y="5.16">°</text>
<text class="l" x="566.50" y="287.30">26</text>
<text class="l" x="595.80" y="287.30">N</text>
<text class="d" transform="translate(588.30,274.70) scale(1.28,.92)" y="5.16">°</text>
<text class="l" x="566.50" y="301.10">24</text>
<text class="l" x="595.80" y="301.10">N</text>
<text class="d" transform="translate(588.30,288.50) scale(1.28,.92)" y="5.16">°</text>
<text class="l" x="566.50" y="314.50">22</text>
<text class="l" x="595.80" y="314.50">N</text>
<text class="d" transform="translate(588.30,301.90) scale(1.28,.92)" y="5.16">°</text>
<text class="l" x="636.00" y="77.05">100</text>
<text class="l" x="673.40" y="77.05">W</text>
<text class="d" transform="translate(665.10,65.15) scale(1.28,.92)" y="5.16">°</text>
<text class="l" x="705.00" y="77.05">90</text>
<text class="l" x="734.80" y="77.05">W</text>
<text class="d" transform="translate(725.70,65.15) scale(1.28,.92)" y="5.16">°</text>
<text class="l" x="768.60" y="77.05">80</text>
<text class="l" x="798.40" y="77.05">W</text>
<text class="d" transform="translate(791.10,65.15) scale(1.28,.92)" y="5.16">°</text>
<text class="l" x="832.00" y="77.05">70</text>
<text class="l" x="861.40" y="77.05">W</text>
<text class="d" transform="translate(853.10,65.15) scale(1.28,.92)" y="5.16">°</text>
<text class="b" x="728.35" y="340.80" font-size="23" text-anchor="middle" textLength="196.1" lengthAdjust="spacing">SAT+RAP CAPE</text>
<rect x="1037.50" y="95.80" width="234.70" height="214.20" fill="none" stroke="#262626" stroke-width="1"/>
<g transform="translate(1038.20,96.00) scale(1.0058)">
<g transform="scale(0.99423)"><g mask="url(#m3)"><g filter="url(#bl1)"><rect x="167.5" y="-10" width="2.9" height="2.9" fill="#00cbff"/><rect x="170" y="-10" width="10.4" height="2.9" fill="#00d7ff"/><rect x="180" y="-10" width="2.9" height="2.9" fill="#00cbff"/><rect x="182.5" y="-10" width="2.9" height="2.9" fill="#00b2ff"/><rect x="185" y="-10" width="2.9" height="2.9" fill="#009aff"/><rect x="187.5" y="-10" width="2.9" height="2.9" fill="#0082ff"/><rect x="190" y="-10" width="20.4" height="2.9" fill="#0075ff"/><rect x="210" y="-10" width="10.4" height="2.9" fill="#0069ff"/><rect x="220" y="-10" width="2.9" height="2.9" fill="#0075ff"/><rect x="222.5" y="-10" width="2.9" height="2.9" fill="#0082ff"/><rect x="225" y="-10" width="2.9" height="2.9" fill="#00a6ff"/><rect x="227.5" y="-10" width="2.9" height="2.9" fill="#00e3ff"/><rect x="230" y="-10" width="2.9" height="2.9" fill="#15ffea"/><rect x="232.5" y="-10" width="2.9" height="2.9" fill="#46ffb9"/><rect x="235" y="-10" width="2.9" height="2.9" fill="#5fffa0"/><rect x="237.5" y="-10" width="5.4" height="2.9" fill="#6bff94"/><rect x="167.5" y="-7.5" width="5.4" height="2.9" fill="#00d7ff"/><rect x="172.5" y="-7.5" width="7.9" height="2.9" fill="#00e3ff"/><rect x="180" y="-7.5" width="2.9" height="2.9" fill="#00d7ff"/><rect x="182.5" y="-7.5" width="2.9" height="2.9" fill="#00b2ff"/><rect x="185" y="-7.5" width="2.9" height="2.9" fill="#008eff"/><rect x="187.5" y="-7.5" width="2.9" height="2.9" fill="#0075ff"/><rect x="190" y="-7.5" width="5.4" height="2.9" fill="#0069ff"/><rect x="195" y="-7.5" width="7.9" height="2.9" fill="#0075ff"/><rect x="202.5" y="-7.5" width="10.4" height="2.9" fill="#0069ff"/><rect x="212.5" y="-7.5" width="10.4" height="2.9" fill="#005dff"/><rect x="222.5" y="-7.5" width="2.9" height="2.9" fill="#0075ff"/><rect x="225" y="-7.5" width="2.9" height="2.9" fill="#009aff"/><rect x="227.5" y="-7.5" width="2.9" height="2.9" fill="#00e3ff"/><rect x="230" y="-7.5" width="2.9" height="2.9" fill="#2effd1"/><rect x="232.5" y="-7.5" width="2.9" height="2.9" fill="#6bff94"/><rect x="235" y="-7.5" width="7.9" height="2.9" fill="#84ff7b"/><rect x="167.5" y="-5" width="2.9" height="2.9" fill="#00d7ff"/><rect x="170" y="-5" width="5.4" height="2.9" fill="#00e3ff"/><rect x="175" y="-5" width="7.9" height="2.9" fill="#00f0ff"/><rect x="182.5" y="-5" width="2.9" height="2.9" fill="#00cbff"/><rect x="185" y="-5" width="2.9" height="2.9" fill="#0082ff"/><rect x="187.5" y="-5" width="10.4" height="2.9" fill="#0069ff"/><rect x="197.5" y="-5" width="2.9" height="2.9" fill="#0075ff"/><rect x="200" y="-5" width="12.9" height="2.9" fill="#0069ff"/><rect x="212.5" y="-5" width="2.9" height="2.9" fill="#005dff"/><rect x="215" y="-5" width="7.9" height="2.9" fill="#0051ff"/><rect x="222.5" y="-5" width="2.9" height="2.9" fill="#005dff"/><rect x="225" y="-5" width="2.9" height="2.9" fill="#008eff"/><rect x="227.5" y="-5" width="2.9" height="2.9" fill="#00e3ff"/><rect x="230" y="-5" width="2.9" height="2.9" fill="#46ffb9"/><rect x="232.5" y="-5" width="2.9" height="2.9" fill="#84ff7b"/><rect x="235" y="-5" width="5.4" height="2.9" fill="#9cff63"/><rect x="240" y="-5" width="2.9" height="2.9" fill="#90ff6f"/><rect x="167.5" y="-2.5" width="2.9" height="2.9" fill="#00d7ff"/><rect x="170" y="-2.5" width="2.9" height="2.9" fill="#00e3ff"/><rect x="172.5" y="-2.5" width="5.4" height="2.9" fill="#00f0ff"/><rect x="177.5" y="-2.5" width="5.4" height="2.9" fill="#00fcff"/><rect x="182.5" y="-2.5" width="2.9" height="2.9" fill="#00e3ff"/><rect x="185" y="-2.5" width="2.9" height="2.9" fill="#0082ff"/><rect x="187.5" y="-2.5" width="5.4" height="2.9" fill="#005dff"/><rect x="192.5" y="-2.5" width="10.4" height="2.9" fill="#0069ff"/><rect x="202.5" y="-2.5" width="12.9" height="2.9" fill="#005dff"/><rect x="215" y="-2.5" width="10.4" height="2.9" fill="#0051ff"/><rect x="225" y="-2.5" width="2.9" height="2.9" fill="#0075ff"/><rect x="227.5" y="-2.5" width="2.9" height="2.9" fill="#00d7ff"/><rect x="230" y="-2.5" width="2.9" height="2.9" fill="#53ffac"/><rect x="232.5" y="-2.5" width="2.9" height="2.9" fill="#9cff63"/><rect x="235" y="-2.5" width="5.4" height="2.9" fill="#a8ff57"/><rect x="240" y="-2.5" width="2.9" height="2.9" fill="#9cff63"/><rect x="167.5" y="0" width="2.9" height="2.9" fill="#00d7ff"/><rect x="170" y="0" width="2.9" height="2.9" fill="#00e3ff"/><rect x="172.5" y="0" width="5.4" height="2.9" fill="#00f0ff"/><rect x="177.5" y="0" width="7.9" height="2.9" fill="#00fcff"/><rect x="185" y="0" width="2.9" height="2.9" fill="#008eff"/><rect x="187.5" y="0" width="5.4" height="2.9" fill="#005dff"/><rect x="192.5" y="0" width="2.9" height="2.9" fill="#0069ff"/><rect x="195" y="0" width="2.9" height="2.9" fill="#0075ff"/><rect x="197.5" y="0" width="2.9" height="2.9" fill="#0069ff"/><rect x="200" y="0" width="12.9" height="2.9" fill="#005dff"/><rect x="212.5" y="0" width="12.9" height="2.9" fill="#0051ff"/><rect x="225" y="0" width="2.9" height="2.9" fill="#0069ff"/><rect x="227.5" y="0" width="2.9" height="2.9" fill="#00a6ff"/><rect x="230" y="0" width="2.9" height="2.9" fill="#2effd1"/><rect x="232.5" y="0" width="2.9" height="2.9" fill="#9cff63"/><rect x="235" y="0" width="5.4" height="2.9" fill="#a8ff57"/><rect x="240" y="0" width="2.9" height="2.9" fill="#9cff63"/><rect x="167.5" y="2.5" width="2.9" height="2.9" fill="#00cbff"/><rect x="170" y="2.5" width="2.9" height="2.9" fill="#00d7ff"/><rect x="172.5" y="2.5" width="2.9" height="2.9" fill="#00e3ff"/><rect x="175" y="2.5" width="2.9" height="2.9" fill="#00f0ff"/><rect x="177.5" y="2.5" width="5.4" height="2.9" fill="#00fcff"/><rect x="182.5" y="2.5" width="2.9" height="2.9" fill="#00f0ff"/><rect x="185" y="2.5" width="2.9" height="2.9" fill="#00b2ff"/><rect x="187.5" y="2.5" width="2.9" height="2.9" fill="#0075ff"/><rect x="190" y="2.5" width="2.9" height="2.9" fill="#0069ff"/><rect x="192.5" y="2.5" width="2.9" height="2.9" fill="#0075ff"/><rect x="195" y="2.5" width="2.9" height="2.9" fill="#0082ff"/><rect x="197.5" y="2.5" width="2.9" height="2.9" fill="#0075ff"/><rect x="200" y="2.5" width="15.4" height="2.9" fill="#005dff"/><rect x="215" y="2.5" width="15.4" height="2.9" fill="#0051ff"/><rect x="230" y="2.5" width="2.9" height="2.9" fill="#0082ff"/><rect x="232.5" y="2.5" width="2.9" height="2.9" fill="#5fffa0"/><rect x="235" y="2.5" width="5.4" height="2.9" fill="#a8ff57"/><rect x="240" y="2.5" width="2.9" height="2.9" fill="#9cff63"/><rect x="167.5" y="5" width="5.4" height="2.9" fill="#00bfff"/><rect x="172.5" y="5" width="2.9" height="2.9" fill="#00cbff"/><rect x="175" y="5" width="2.9" height="2.9" fill="#00d7ff"/><rect x="177.5" y="5" width="2.9" height="2.9" fill="#00e3ff"/><rect x="180" y="5" width="5.4" height="2.9" fill="#00f0ff"/><rect x="185" y="5" width="5.4" height="2.9" fill="#00e3ff"/><rect x="190" y="5" width="2.9" height="2.9" fill="#00d7ff"/><rect x="192.5" y="5" width="2.9" height="2.9" fill="#00cbff"/><rect x="195" y="5" width="2.9" height="2.9" fill="#00b2ff"/><rect x="197.5" y="5" width="2.9" height="2.9" fill="#0082ff"/><rect x="200" y="5" width="2.9" height="2.9" fill="#0069ff"/><rect x="202.5" y="5" width="5.4" height="2.9" fill="#005dff"/><rect x="207.5" y="5" width="5.4" height="2.9" fill="#0069ff"/><rect x="212.5" y="5" width="2.9" height="2.9" fill="#005dff"/><rect x="215" y="5" width="10.4" height="2.9" fill="#0051ff"/><rect x="225" y="5" width="2.9" height="2.9" fill="#0044ff"/><rect x="227.5" y="5" width="5.4" height="2.9" fill="#002cff"/><rect x="232.5" y="5" width="2.9" height="2.9" fill="#005dff"/><rect x="235" y="5" width="2.9" height="2.9" fill="#2effd1"/><rect x="237.5" y="5" width="5.4" height="2.9" fill="#77ff88"/><rect x="167.5" y="7.5" width="5.4" height="2.9" fill="#00a6ff"/><rect x="172.5" y="7.5" width="7.9" height="2.9" fill="#009aff"/><rect x="180" y="7.5" width="2.9" height="2.9" fill="#00b2ff"/><rect x="182.5" y="7.5" width="2.9" height="2.9" fill="#00e3ff"/><rect x="185" y="7.5" width="2.9" height="2.9" fill="#22ffdd"/><rect x="187.5" y="7.5" width="5.4" height="2.9" fill="#2effd1"/><rect x="192.5" y="7.5" width="2.9" height="2.9" fill="#15ffea"/><rect x="195" y="7.5" width="2.9" height="2.9" fill="#00e3ff"/><rect x="197.5" y="7.5" width="2.9" height="2.9" fill="#00a6ff"/><rect x="200" y="7.5" width="2.9" height="2.9" fill="#0082ff"/><rect x="202.5" y="7.5" width="10.4" height="2.9" fill="#0069ff"/><rect x="212.5" y="7.5" width="7.9" height="2.9" fill="#005dff"/><rect x="220" y="7.5" width="5.4" height="2.9" fill="#0051ff"/><rect x="225" y="7.5" width="2.9" height="2.9" fill="#0038ff"/><rect x="227.5" y="7.5" width="5.4" height="2.9" fill="#002cff"/><rect x="232.5" y="7.5" width="2.9" height="2.9" fill="#0038ff"/><rect x="235" y="7.5" width="2.9" height="2.9" fill="#008eff"/><rect x="237.5" y="7.5" width="2.9" height="2.9" fill="#00fcff"/><rect x="240" y="7.5" width="2.9" height="2.9" fill="#2effd1"/><rect x="167.5" y="10" width="2.9" height="2.9" fill="#009aff"/><rect x="170" y="10" width="2.9" height="2.9" fill="#008eff"/><rect x="172.5" y="10" width="2.9" height="2.9" fill="#0082ff"/><rect x="175" y="10" width="2.9" height="2.9" fill="#0075ff"/><rect x="177.5" y="10" width="2.9" height="2.9" fill="#0069ff"/><rect x="180" y="10" width="2.9" height="2.9" fill="#0075ff"/><rect x="182.5" y="10" width="2.9" height="2.9" fill="#00bfff"/><rect x="185" y="10" width="2.9" height="2.9" fill="#2effd1"/><rect x="187.5" y="10" width="5.4" height="2.9" fill="#3affc5"/><rect x="192.5" y="10" width="2.9" height="2.9" fill="#2effd1"/><rect x="195" y="10" width="2.9" height="2.9" fill="#00fcff"/><rect x="197.5" y="10" width="2.9" height="2.9" fill="#00bfff"/><rect x="200" y="10" width="2.9" height="2.9" fill="#009aff"/><rect x="202.5" y="10" width="2.9" height="2.9" fill="#0082ff"/><rect x="205" y="10" width="2.9" height="2.9" fill="#0075ff"/><rect x="207.5" y="10" width="2.9" height="2.9" fill="#0069ff"/><rect x="210" y="10" width="10.4" height="2.9" fill="#005dff"/><rect x="220" y="10" width="5.4" height="2.9" fill="#0051ff"/><rect x="225" y="10" width="2.9" height="2.9" fill="#0044ff"/><rect x="227.5" y="10" width="5.4" height="2.9" fill="#0038ff"/><rect x="232.5" y="10" width="2.9" height="2.9" fill="#0044ff"/><rect x="235" y="10" width="2.9" height="2.9" fill="#0075ff"/><rect x="237.5" y="10" width="2.9" height="2.9" fill="#00b2ff"/><rect x="240" y="10" width="2.9" height="2.9" fill="#00f0ff"/><rect x="167.5" y="12.5" width="2.9" height="2.9" fill="#008eff"/><rect x="170" y="12.5" width="2.9" height="2.9" fill="#0082ff"/><rect x="172.5" y="12.5" width="5.4" height="2.9" fill="#0069ff"/><rect x="177.5" y="12.5" width="5.4" height="2.9" fill="#005dff"/><rect x="182.5" y="12.5" width="2.9" height="2.9" fill="#0082ff"/><rect x="185" y="12.5" width="2.9" height="2.9" fill="#22ffdd"/><rect x="187.5" y="12.5" width="5.4" height="2.9" fill="#3affc5"/><rect x="192.5" y="12.5" width="2.9" height="2.9" fill="#22ffdd"/><rect x="195" y="12.5" width="2.9" height="2.9" fill="#09fff6"/><rect x="197.5" y="12.5" width="2.9" height="2.9" fill="#00d7ff"/><rect x="200" y="12.5" width="2.9" height="2.9" fill="#008eff"/><rect x="202.5" y="12.5" width="2.9" height="2.9" fill="#0075ff"/><rect x="205" y="12.5" width="5.4" height="2.9" fill="#0069ff"/><rect x="210" y="12.5" width="10.4" height="2.9" fill="#005dff"/><rect x="220" y="12.5" width="2.9" height="2.9" fill="#0051ff"/><rect x="222.5" y="12.5" width="5.4" height="2.9" fill="#0044ff"/><rect x="227.5" y="12.5" width="5.4" height="2.9" fill="#0051ff"/><rect x="232.5" y="12.5" width="2.9" height="2.9" fill="#005dff"/><rect x="235" y="12.5" width="2.9" height="2.9" fill="#0082ff"/><rect x="237.5" y="12.5" width="2.9" height="2.9" fill="#00a6ff"/><rect x="240" y="12.5" width="2.9" height="2.9" fill="#00cbff"/><rect x="167.5" y="15" width="2.9" height="2.9" fill="#0082ff"/><rect x="170" y="15" width="2.9" height="2.9" fill="#0075ff"/><rect x="172.5" y="15" width="5.4" height="2.9" fill="#0069ff"/><rect x="177.5" y="15" width="5.4" height="2.9" fill="#005dff"/><rect x="182.5" y="15" width="2.9" height="2.9" fill="#0075ff"/><rect x="185" y="15" width="2.9" height="2.9" fill="#00bfff"/><rect x="187.5" y="15" width="2.9" height="2.9" fill="#00fcff"/><rect x="190" y="15" width="5.4" height="2.9" fill="#15ffea"/><rect x="195" y="15" width="2.9" height="2.9" fill="#22ffdd"/><rect x="197.5" y="15" width="2.9" height="2.9" fill="#00fcff"/><rect x="200" y="15" width="2.9" height="2.9" fill="#008eff"/><rect x="202.5" y="15" width="2.9" height="2.9" fill="#0069ff"/><rect x="205" y="15" width="2.9" height="2.9" fill="#005dff"/><rect x="207.5" y="15" width="2.9" height="2.9" fill="#0069ff"/><rect x="210" y="15" width="10.4" height="2.9" fill="#005dff"/><rect x="220" y="15" width="2.9" height="2.9" fill="#0044ff"/><rect x="222.5" y="15" width="5.4" height="2.9" fill="#0038ff"/><rect x="227.5" y="15" width="2.9" height="2.9" fill="#0051ff"/><rect x="230" y="15" width="2.9" height="2.9" fill="#008eff"/><rect x="232.5" y="15" width="2.9" height="2.9" fill="#00a6ff"/><rect x="235" y="15" width="2.9" height="2.9" fill="#00b2ff"/><rect x="237.5" y="15" width="2.9" height="2.9" fill="#00bfff"/><rect x="240" y="15" width="2.9" height="2.9" fill="#00d7ff"/><rect x="167.5" y="17.5" width="2.9" height="2.9" fill="#0082ff"/><rect x="170" y="17.5" width="2.9" height="2.9" fill="#0075ff"/><rect x="172.5" y="17.5" width="15.4" height="2.9" fill="#0069ff"/><rect x="187.5" y="17.5" width="2.9" height="2.9" fill="#0082ff"/><rect x="190" y="17.5" width="2.9" height="2.9" fill="#00bfff"/><rect x="192.5" y="17.5" width="2.9" height="2.9" fill="#15ffea"/><rect x="195" y="17.5" width="5.4" height="2.9" fill="#53ffac"/><rect x="200" y="17.5" width="2.9" height="2.9" fill="#00d7ff"/><rect x="202.5" y="17.5" width="5.4" height="2.9" fill="#005dff"/><rect x="207.5" y="17.5" width="5.4" height="2.9" fill="#0069ff"/><rect x="212.5" y="17.5" width="7.9" height="2.9" fill="#005dff"/><rect x="220" y="17.5" width="2.9" height="2.9" fill="#0044ff"/><rect x="222.5" y="17.5" width="5.4" height="2.9" fill="#0038ff"/><rect x="227.5" y="17.5" width="2.9" height="2.9" fill="#0082ff"/><rect x="230" y="17.5" width="2.9" height="2.9" fill="#00f0ff"/><rect x="232.5" y="17.5" width="2.9" height="2.9" fill="#09fff6"/><rect x="235" y="17.5" width="2.9" height="2.9" fill="#00fcff"/><rect x="237.5" y="17.5" width="2.9" height="2.9" fill="#00f0ff"/><rect x="240" y="17.5" width="2.9" height="2.9" fill="#00e3ff"/><rect x="167.5" y="20" width="2.9" height="2.9" fill="#008eff"/><rect x="170" y="20" width="2.9" height="2.9" fill="#0082ff"/><rect x="172.5" y="20" width="2.9" height="2.9" fill="#0075ff"/><rect x="175" y="20" width="7.9" height="2.9" fill="#0069ff"/><rect x="182.5" y="20" width="5.4" height="2.9" fill="#005dff"/><rect x="187.5" y="20" width="2.9" height="2.9" fill="#0069ff"/><rect x="190" y="20" width="2.9" height="2.9" fill="#009aff"/><rect x="192.5" y="20" width="2.9" height="2.9" fill="#22ffdd"/><rect x="195" y="20" width="5.4" height="2.9" fill="#6bff94"/><rect x="200" y="20" width="2.9" height="2.9" fill="#5fffa0"/><rect x="202.5" y="20" width="2.9" height="2.9" fill="#009aff"/><rect x="205" y="20" width="2.9" height="2.9" fill="#0075ff"/><rect x="207.5" y="20" width="5.4" height="2.9" fill="#0082ff"/><rect x="212.5" y="20" width="7.9" height="2.9" fill="#0075ff"/><rect x="220" y="20" width="5.4" height="2.9" fill="#005dff"/><rect x="225" y="20" width="2.9" height="2.9" fill="#00a6ff"/><rect x="227.5" y="20" width="2.9" height="2.9" fill="#5fffa0"/><rect x="230" y="20" width="2.9" height="2.9" fill="#6bff94"/><rect x="232.5" y="20" width="2.9" height="2.9" fill="#53ffac"/><rect x="235" y="20" width="2.9" height="2.9" fill="#3affc5"/><rect x="237.5" y="20" width="2.9" height="2.9" fill="#15ffea"/><rect x="240" y="20" width="2.9" height="2.9" fill="#00fcff"/><rect x="167.5" y="22.5" width="2.9" height="2.9" fill="#009aff"/><rect x="170" y="22.5" width="2.9" height="2.9" fill="#008eff"/><rect x="172.5" y="22.5" width="2.9" height="2.9" fill="#0082ff"/><rect x="175" y="22.5" width="5.4" height="2.9" fill="#0075ff"/><rect x="180" y="22.5" width="2.9" height="2.9" fill="#0069ff"/><rect x="182.5" y="22.5" width="5.4" height="2.9" fill="#005dff"/><rect x="187.5" y="22.5" width="2.9" height="2.9" fill="#0069ff"/><rect x="190" y="22.5" width="2.9" height="2.9" fill="#008eff"/><rect x="192.5" y="22.5" width="2.9" height="2.9" fill="#00f0ff"/><rect x="195" y="22.5" width="2.9" height="2.9" fill="#5fffa0"/><rect x="197.5" y="22.5" width="2.9" height="2.9" fill="#6bff94"/><rect x="200" y="22.5" width="2.9" height="2.9" fill="#5fffa0"/><rect x="202.5" y="22.5" width="2.9" height="2.9" fill="#09fff6"/><rect x="205" y="22.5" width="2.9" height="2.9" fill="#00d7ff"/><rect x="207.5" y="22.5" width="2.9" height="2.9" fill="#00a6ff"/><rect x="210" y="22.5" width="5.4" height="2.9" fill="#0075ff"/><rect x="215" y="22.5" width="2.9" height="2.9" fill="#0082ff"/><rect x="217.5" y="22.5" width="2.9" height="2.9" fill="#009aff"/><rect x="220" y="22.5" width="2.9" height="2.9" fill="#00a6ff"/><rect x="222.5" y="22.5" width="2.9" height="2.9" fill="#00f0ff"/><rect x="225" y="22.5" width="2.9" height="2.9" fill="#6bff94"/><rect x="227.5" y="22.5" width="5.4" height="2.9" fill="#84ff7b"/><rect x="232.5" y="22.5" width="2.9" height="2.9" fill="#6bff94"/><rect x="235" y="22.5" width="2.9" height="2.9" fill="#53ffac"/><rect x="237.5" y="22.5" width="2.9" height="2.9" fill="#2effd1"/><rect x="240" y="22.5" width="2.9" height="2.9" fill="#09fff6"/><rect x="167.5" y="25" width="2.9" height="2.9" fill="#009aff"/><rect x="170" y="25" width="5.4" height="2.9" fill="#008eff"/><rect x="175" y="25" width="2.9" height="2.9" fill="#0082ff"/><rect x="177.5" y="25" width="2.9" height="2.9" fill="#0075ff"/><rect x="180" y="25" width="10.4" height="2.9" fill="#0069ff"/><rect x="190" y="25" width="2.9" height="2.9" fill="#0075ff"/><rect x="192.5" y="25" width="2.9" height="2.9" fill="#0082ff"/><rect x="195" y="25" width="2.9" height="2.9" fill="#00bfff"/><rect x="197.5" y="25" width="2.9" height="2.9" fill="#2effd1"/><rect x="200" y="25" width="2.9" height="2.9" fill="#53ffac"/><rect x="202.5" y="25" width="2.9" height="2.9" fill="#77ff88"/><rect x="205" y="25" width="2.9" height="2.9" fill="#6bff94"/><rect x="207.5" y="25" width="2.9" height="2.9" fill="#00a6ff"/><rect x="210" y="25" width="5.4" height="2.9" fill="#005dff"/><rect x="215" y="25" width="2.9" height="2.9" fill="#0082ff"/><rect x="217.5" y="25" width="2.9" height="2.9" fill="#00b2ff"/><rect x="220" y="25" width="2.9" height="2.9" fill="#00d7ff"/><rect x="222.5" y="25" width="2.9" height="2.9" fill="#2effd1"/><rect x="225" y="25" width="2.9" height="2.9" fill="#6bff94"/><rect x="227.5" y="25" width="2.9" height="2.9" fill="#84ff7b"/><rect x="230" y="25" width="2.9" height="2.9" fill="#77ff88"/><rect x="232.5" y="25" width="2.9" height="2.9" fill="#6bff94"/><rect x="235" y="25" width="2.9" height="2.9" fill="#53ffac"/><rect x="237.5" y="25" width="2.9" height="2.9" fill="#2effd1"/><rect x="240" y="25" width="2.9" height="2.9" fill="#09fff6"/><rect x="167.5" y="27.5" width="2.9" height="2.9" fill="#00a6ff"/><rect x="170" y="27.5" width="2.9" height="2.9" fill="#009aff"/><rect x="172.5" y="27.5" width="2.9" height="2.9" fill="#008eff"/><rect x="175" y="27.5" width="5.4" height="2.9" fill="#0082ff"/><rect x="180" y="27.5" width="7.9" height="2.9" fill="#0075ff"/><rect x="187.5" y="27.5" width="5.4" height="2.9" fill="#0069ff"/><rect x="192.5" y="27.5" width="2.9" height="2.9" fill="#005dff"/><rect x="195" y="27.5" width="2.9" height="2.9" fill="#0069ff"/><rect x="197.5" y="27.5" width="2.9" height="2.9" fill="#00bfff"/><rect x="200" y="27.5" width="2.9" height="2.9" fill="#6bff94"/><rect x="202.5" y="27.5" width="2.9" height="2.9" fill="#e5ff1a"/><rect x="205" y="27.5" width="2.9" height="2.9" fill="#f2ff0d"/><rect x="207.5" y="27.5" width="2.9" height="2.9" fill="#2effd1"/><rect x="210" y="27.5" width="5.4" height="2.9" fill="#005dff"/><rect x="215" y="27.5" width="2.9" height="2.9" fill="#00a6ff"/><rect x="217.5" y="27.5" width="2.9" height="2.9" fill="#00d7ff"/><rect x="220" y="27.5" width="2.9" height="2.9" fill="#00f0ff"/><rect x="222.5" y="27.5" width="2.9" height="2.9" fill="#15ffea"/><rect x="225" y="27.5" width="2.9" height="2.9" fill="#53ffac"/><rect x="227.5" y="27.5" width="5.4" height="2.9" fill="#6bff94"/><rect x="232.5" y="27.5" width="2.9" height="2.9" fill="#53ffac"/><rect x="235" y="27.5" width="2.9" height="2.9" fill="#2effd1"/><rect x="237.5" y="27.5" width="2.9" height="2.9" fill="#15ffea"/><rect x="240" y="27.5" width="2.9" height="2.9" fill="#00fcff"/><rect x="167.5" y="30" width="2.9" height="2.9" fill="#00b2ff"/><rect x="170" y="30" width="2.9" height="2.9" fill="#00a6ff"/><rect x="172.5" y="30" width="2.9" height="2.9" fill="#009aff"/><rect x="175" y="30" width="2.9" height="2.9" fill="#0082ff"/><rect x="177.5" y="30" width="10.4" height="2.9" fill="#0075ff"/><rect x="187.5" y="30" width="5.4" height="2.9" fill="#0069ff"/><rect x="192.5" y="30" width="2.9" height="2.9" fill="#005dff"/><rect x="195" y="30" width="2.9" height="2.9" fill="#0069ff"/><rect x="197.5" y="30" width="2.9" height="2.9" fill="#00a6ff"/><rect x="200" y="30" width="2.9" height="2.9" fill="#90ff6f"/><rect x="202.5" y="30" width="2.9" height="2.9" fill="#f2ff0d"/><rect x="205" y="30" width="2.9" height="2.9" fill="#feff01"/><rect x="207.5" y="30" width="2.9" height="2.9" fill="#cdff32"/><rect x="210" y="30" width="2.9" height="2.9" fill="#00f0ff"/><rect x="212.5" y="30" width="5.4" height="2.9" fill="#3affc5"/><rect x="217.5" y="30" width="2.9" height="2.9" fill="#15ffea"/><rect x="220" y="30" width="5.4" height="2.9" fill="#00f0ff"/><rect x="225" y="30" width="2.9" height="2.9" fill="#09fff6"/><rect x="227.5" y="30" width="5.4" height="2.9" fill="#22ffdd"/><rect x="232.5" y="30" width="2.9" height="2.9" fill="#09fff6"/><rect x="235" y="30" width="2.9" height="2.9" fill="#00f0ff"/><rect x="237.5" y="30" width="2.9" height="2.9" fill="#00e3ff"/><rect x="240" y="30" width="2.9" height="2.9" fill="#00d7ff"/><rect x="167.5" y="32.5" width="2.9" height="2.9" fill="#00bfff"/><rect x="170" y="32.5" width="2.9" height="2.9" fill="#00b2ff"/><rect x="172.5" y="32.5" width="2.9" height="2.9" fill="#009aff"/><rect x="175" y="32.5" width="2.9" height="2.9" fill="#0082ff"/><rect x="177.5" y="32.5" width="2.9" height="2.9" fill="#0075ff"/><rect x="180" y="32.5" width="5.4" height="2.9" fill="#0069ff"/><rect x="185" y="32.5" width="5.4" height="2.9" fill="#0075ff"/><rect x="190" y="32.5" width="5.4" height="2.9" fill="#0069ff"/><rect x="195" y="32.5" width="2.9" height="2.9" fill="#0075ff"/><rect x="197.5" y="32.5" width="2.9" height="2.9" fill="#00bfff"/><rect x="200" y="32.5" width="2.9" height="2.9" fill="#77ff88"/><rect x="202.5" y="32.5" width="2.9" height="2.9" fill="#d9ff26"/><rect x="205" y="32.5" width="2.9" height="2.9" fill="#e5ff1a"/><rect x="207.5" y="32.5" width="2.9" height="2.9" fill="#a8ff57"/><rect x="210" y="32.5" width="7.9" height="2.9" fill="#5fffa0"/><rect x="217.5" y="32.5" width="2.9" height="2.9" fill="#2effd1"/><rect x="220" y="32.5" width="2.9" height="2.9" fill="#00e3ff"/><rect x="222.5" y="32.5" width="2.9" height="2.9" fill="#00bfff"/><rect x="225" y="32.5" width="2.9" height="2.9" fill="#00b2ff"/><rect x="227.5" y="32.5" width="2.9" height="2.9" fill="#00bfff"/><rect x="230" y="32.5" width="2.9" height="2.9" fill="#00b2ff"/><rect x="232.5" y="32.5" width="7.9" height="2.9" fill="#00a6ff"/><rect x="240" y="32.5" width="2.9" height="2.9" fill="#00bfff"/><rect x="167.5" y="35" width="2.9" height="2.9" fill="#00cbff"/><rect x="170" y="35" width="2.9" height="2.9" fill="#00bfff"/><rect x="172.5" y="35" width="2.9" height="2.9" fill="#00a6ff"/><rect x="175" y="35" width="2.9" height="2.9" fill="#008eff"/><rect x="177.5" y="35" width="2.9" height="2.9" fill="#0069ff"/><rect x="180" y="35" width="5.4" height="2.9" fill="#005dff"/><rect x="185" y="35" width="2.9" height="2.9" fill="#0069ff"/><rect x="187.5" y="35" width="5.4" height="2.9" fill="#0075ff"/><rect x="192.5" y="35" width="2.9" height="2.9" fill="#0082ff"/><rect x="195" y="35" width="2.9" height="2.9" fill="#008eff"/><rect x="197.5" y="35" width="2.9" height="2.9" fill="#00cbff"/><rect x="200" y="35" width="2.9" height="2.9" fill="#2effd1"/><rect x="202.5" y="35" width="2.9" height="2.9" fill="#77ff88"/><rect x="205" y="35" width="2.9" height="2.9" fill="#84ff7b"/><rect x="207.5" y="35" width="2.9" height="2.9" fill="#5fffa0"/><rect x="210" y="35" width="2.9" height="2.9" fill="#46ffb9"/><rect x="212.5" y="35" width="2.9" height="2.9" fill="#53ffac"/><rect x="215" y="35" width="2.9" height="2.9" fill="#3affc5"/><rect x="217.5" y="35" width="2.9" height="2.9" fill="#00f0ff"/><rect x="220" y="35" width="2.9" height="2.9" fill="#00a6ff"/><rect x="222.5" y="35" width="2.9" height="2.9" fill="#0082ff"/><rect x="225" y="35" width="7.9" height="2.9" fill="#0075ff"/><rect x="232.5" y="35" width="5.4" height="2.9" fill="#0069ff"/><rect x="237.5" y="35" width="2.9" height="2.9" fill="#0082ff"/><rect x="240" y="35" width="2.9" height="2.9" fill="#009aff"/><rect x="167.5" y="37.5" width="2.9" height="2.9" fill="#00e3ff"/><rect x="170" y="37.5" width="2.9" height="2.9" fill="#00d7ff"/><rect x="172.5" y="37.5" width="2.9" height="2.9" fill="#00cbff"/><rect x="175" y="37.5" width="2.9" height="2.9" fill="#00a6ff"/><rect x="177.5" y="37.5" width="2.9" height="2.9" fill="#0075ff"/><rect x="180" y="37.5" width="5.4" height="2.9" fill="#005dff"/><rect x="185" y="37.5" width="5.4" height="2.9" fill="#0069ff"/><rect x="190" y="37.5" width="2.9" height="2.9" fill="#0075ff"/><rect x="192.5" y="37.5" width="2.9" height="2.9" fill="#008eff"/><rect x="195" y="37.5" width="2.9" height="2.9" fill="#009aff"/><rect x="197.5" y="37.5" width="2.9" height="2.9" fill="#00b2ff"/><rect x="200" y="37.5" width="2.9" height="2.9" fill="#00bfff"/><rect x="202.5" y="37.5" width="2.9" height="2.9" fill="#00cbff"/><rect x="205" y="37.5" width="2.9" height="2.9" fill="#00d7ff"/><rect x="207.5" y="37.5" width="2.9" height="2.9" fill="#00e3ff"/><rect x="210" y="37.5" width="2.9" height="2.9" fill="#00bfff"/><rect x="212.5" y="37.5" width="2.9" height="2.9" fill="#008eff"/><rect x="215" y="37.5" width="2.9" height="2.9" fill="#0082ff"/><rect x="217.5" y="37.5" width="2.9" height="2.9" fill="#008eff"/><rect x="220" y="37.5" width="2.9" height="2.9" fill="#0075ff"/><rect x="222.5" y="37.5" width="10.4" height="2.9" fill="#005dff"/><rect x="232.5" y="37.5" width="5.4" height="2.9" fill="#0051ff"/><rect x="237.5" y="37.5" width="2.9" height="2.9" fill="#0069ff"/><rect x="240" y="37.5" width="2.9" height="2.9" fill="#009aff"/><rect x="167.5" y="40" width="2.9" height="2.9" fill="#00fcff"/><rect x="170" y="40" width="5.4" height="2.9" fill="#00f0ff"/><rect x="175" y="40" width="5.4" height="2.9" fill="#00fcff"/><rect x="180" y="40" width="2.9" height="2.9" fill="#00bfff"/><rect x="182.5" y="40" width="2.9" height="2.9" fill="#0069ff"/><rect x="185" y="40" width="2.9" height="2.9" fill="#005dff"/><rect x="187.5" y="40" width="2.9" height="2.9" fill="#0069ff"/><rect x="190" y="40" width="2.9" height="2.9" fill="#0075ff"/><rect x="192.5" y="40" width="2.9" height="2.9" fill="#008eff"/><rect x="195" y="40" width="2.9" height="2.9" fill="#009aff"/><rect x="197.5" y="40" width="2.9" height="2.9" fill="#008eff"/><rect x="200" y="40" width="2.9" height="2.9" fill="#0075ff"/><rect x="202.5" y="40" width="5.4" height="2.9" fill="#0069ff"/><rect x="207.5" y="40" width="2.9" height="2.9" fill="#0082ff"/><rect x="210" y="40" width="2.9" height="2.9" fill="#0075ff"/><rect x="212.5" y="40" width="5.4" height="2.9" fill="#005dff"/><rect x="217.5" y="40" width="2.9" height="2.9" fill="#0069ff"/><rect x="220" y="40" width="10.4" height="2.9" fill="#005dff"/><rect x="230" y="40" width="7.9" height="2.9" fill="#0051ff"/><rect x="237.5" y="40" width="2.9" height="2.9" fill="#0069ff"/><rect x="240" y="40" width="2.9" height="2.9" fill="#00a6ff"/><rect x="167.5" y="42.5" width="7.9" height="2.9" fill="#15ffea"/><rect x="175" y="42.5" width="2.9" height="2.9" fill="#22ffdd"/><rect x="177.5" y="42.5" width="5.4" height="2.9" fill="#2effd1"/><rect x="182.5" y="42.5" width="2.9" height="2.9" fill="#008eff"/><rect x="185" y="42.5" width="2.9" height="2.9" fill="#005dff"/><rect x="187.5" y="42.5" width="2.9" height="2.9" fill="#0069ff"/><rect x="190" y="42.5" width="2.9" height="2.9" fill="#0082ff"/><rect x="192.5" y="42.5" width="5.4" height="2.9" fill="#008eff"/><rect x="197.5" y="42.5" width="2.9" height="2.9" fill="#0082ff"/><rect x="200" y="42.5" width="2.9" height="2.9" fill="#0069ff"/><rect x="202.5" y="42.5" width="5.4" height="2.9" fill="#005dff"/><rect x="207.5" y="42.5" width="5.4" height="2.9" fill="#0069ff"/><rect x="212.5" y="42.5" width="5.4" height="2.9" fill="#005dff"/><rect x="217.5" y="42.5" width="2.9" height="2.9" fill="#0069ff"/><rect x="220" y="42.5" width="7.9" height="2.9" fill="#005dff"/><rect x="227.5" y="42.5" width="2.9" height="2.9" fill="#0069ff"/><rect x="230" y="42.5" width="2.9" height="2.9" fill="#005dff"/><rect x="232.5" y="42.5" width="2.9" height="2.9" fill="#0051ff"/><rect x="235" y="42.5" width="2.9" height="2.9" fill="#005dff"/><rect x="237.5" y="42.5" width="2.9" height="2.9" fill="#008eff"/><rect x="240" y="42.5" width="2.9" height="2.9" fill="#00e3ff"/><rect x="167.5" y="45" width="2.9" height="2.9" fill="#46ffb9"/><rect x="170" y="45" width="2.9" height="2.9" fill="#3affc5"/><rect x="172.5" y="45" width="10.4" height="2.9" fill="#2effd1"/><rect x="182.5" y="45" width="2.9" height="2.9" fill="#00e3ff"/><rect x="185" y="45" width="5.4" height="2.9" fill="#0082ff"/><rect x="190" y="45" width="5.4" height="2.9" fill="#009aff"/><rect x="195" y="45" width="2.9" height="2.9" fill="#0082ff"/><rect x="197.5" y="45" width="2.9" height="2.9" fill="#0075ff"/><rect x="200" y="45" width="2.9" height="2.9" fill="#0069ff"/><rect x="202.5" y="45" width="5.4" height="2.9" fill="#005dff"/><rect x="207.5" y="45" width="2.9" height="2.9" fill="#0069ff"/><rect x="210" y="45" width="2.9" height="2.9" fill="#0075ff"/><rect x="212.5" y="45" width="5.4" height="2.9" fill="#0069ff"/><rect x="217.5" y="45" width="2.9" height="2.9" fill="#0075ff"/><rect x="220" y="45" width="5.4" height="2.9" fill="#0069ff"/><rect x="225" y="45" width="2.9" height="2.9" fill="#0075ff"/><rect x="227.5" y="45" width="2.9" height="2.9" fill="#00a6ff"/><rect x="230" y="45" width="2.9" height="2.9" fill="#00d7ff"/><rect x="232.5" y="45" width="2.9" height="2.9" fill="#00e3ff"/><rect x="235" y="45" width="2.9" height="2.9" fill="#22ffdd"/><rect x="237.5" y="45" width="2.9" height="2.9" fill="#53ffac"/><rect x="240" y="45" width="2.9" height="2.9" fill="#77ff88"/><rect x="167.5" y="47.5" width="2.9" height="2.9" fill="#6bff94"/><rect x="170" y="47.5" width="5.4" height="2.9" fill="#77ff88"/><rect x="175" y="47.5" width="2.9" height="2.9" fill="#53ffac"/><rect x="177.5" y="47.5" width="2.9" height="2.9" fill="#3affc5"/><rect x="180" y="47.5" width="2.9" height="2.9" fill="#22ffdd"/><rect x="182.5" y="47.5" width="2.9" height="2.9" fill="#00fcff"/><rect x="185" y="47.5" width="7.9" height="2.9" fill="#00d7ff"/><rect x="192.5" y="47.5" width="2.9" height="2.9" fill="#00b2ff"/><rect x="195" y="47.5" width="2.9" height="2.9" fill="#0082ff"/><rect x="197.5" y="47.5" width="7.9" height="2.9" fill="#0075ff"/><rect x="205" y="47.5" width="5.4" height="2.9" fill="#0069ff"/><rect x="210" y="47.5" width="10.4" height="2.9" fill="#0075ff"/><rect x="220" y="47.5" width="2.9" height="2.9" fill="#0082ff"/><rect x="222.5" y="47.5" width="2.9" height="2.9" fill="#008eff"/><rect x="225" y="47.5" width="2.9" height="2.9" fill="#00cbff"/><rect x="227.5" y="47.5" width="2.9" height="2.9" fill="#53ffac"/><rect x="230" y="47.5" width="2.9" height="2.9" fill="#e5ff1a"/><rect x="232.5" y="47.5" width="2.9" height="2.9" fill="#ffdb00"/><rect x="235" y="47.5" width="2.9" height="2.9" fill="#ffcf00"/><rect x="237.5" y="47.5" width="2.9" height="2.9" fill="#ffe800"/><rect x="240" y="47.5" width="2.9" height="2.9" fill="#f2ff0d"/><rect x="167.5" y="50" width="2.9" height="2.9" fill="#90ff6f"/><rect x="170" y="50" width="2.9" height="2.9" fill="#a8ff57"/><rect x="172.5" y="50" width="5.4" height="2.9" fill="#b5ff4a"/><rect x="177.5" y="50" width="2.9" height="2.9" fill="#90ff6f"/><rect x="180" y="50" width="2.9" height="2.9" fill="#53ffac"/><rect x="182.5" y="50" width="7.9" height="2.9" fill="#2effd1"/><rect x="190" y="50" width="2.9" height="2.9" fill="#22ffdd"/><rect x="192.5" y="50" width="2.9" height="2.9" fill="#00d7ff"/><rect x="195" y="50" width="2.9" height="2.9" fill="#009aff"/><rect x="197.5" y="50" width="5.4" height="2.9" fill="#0075ff"/><rect x="202.5" y="50" width="2.9" height="2.9" fill="#0082ff"/><rect x="205" y="50" width="10.4" height="2.9" fill="#0075ff"/><rect x="215" y="50" width="7.9" height="2.9" fill="#0069ff"/><rect x="222.5" y="50" width="2.9" height="2.9" fill="#008eff"/><rect x="225" y="50" width="2.9" height="2.9" fill="#09fff6"/><rect x="227.5" y="50" width="2.9" height="2.9" fill="#c1ff3e"/><rect x="230" y="50" width="2.9" height="2.9" fill="#ffcf00"/><rect x="232.5" y="50" width="7.9" height="2.9" fill="#ffc300"/><rect x="240" y="50" width="2.9" height="2.9" fill="#ffdb00"/><rect x="167.5" y="52.5" width="2.9" height="2.9" fill="#a8ff57"/><rect x="170" y="52.5" width="2.9" height="2.9" fill="#b5ff4a"/><rect x="172.5" y="52.5" width="5.4" height="2.9" fill="#c1ff3e"/><rect x="177.5" y="52.5" width="2.9" height="2.9" fill="#b5ff4a"/><rect x="180" y="52.5" width="2.9" height="2.9" fill="#84ff7b"/><rect x="182.5" y="52.5" width="2.9" height="2.9" fill="#53ffac"/><rect x="185" y="52.5" width="7.9" height="2.9" fill="#46ffb9"/><rect x="192.5" y="52.5" width="2.9" height="2.9" fill="#09fff6"/><rect x="195" y="52.5" width="5.4" height="2.9" fill="#00f0ff"/><rect x="200" y="52.5" width="2.9" height="2.9" fill="#00b2ff"/><rect x="202.5" y="52.5" width="2.9" height="2.9" fill="#008eff"/><rect x="205" y="52.5" width="7.9" height="2.9" fill="#0075ff"/><rect x="212.5" y="52.5" width="5.4" height="2.9" fill="#0069ff"/><rect x="217.5" y="52.5" width="5.4" height="2.9" fill="#005dff"/><rect x="222.5" y="52.5" width="2.9" height="2.9" fill="#0075ff"/><rect x="225" y="52.5" width="2.9" height="2.9" fill="#00fcff"/><rect x="227.5" y="52.5" width="2.9" height="2.9" fill="#e5ff1a"/><rect x="230" y="52.5" width="2.9" height="2.9" fill="#ff9e00"/><rect x="232.5" y="52.5" width="2.9" height="2.9" fill="#ff9200"/><rect x="235" y="52.5" width="2.9" height="2.9" fill="#ff9e00"/><rect x="237.5" y="52.5" width="2.9" height="2.9" fill="#ffaa00"/><rect x="240" y="52.5" width="2.9" height="2.9" fill="#ffc300"/><rect x="167.5" y="55" width="2.9" height="2.9" fill="#a8ff57"/><rect x="170" y="55" width="2.9" height="2.9" fill="#b5ff4a"/><rect x="172.5" y="55" width="5.4" height="2.9" fill="#c1ff3e"/><rect x="177.5" y="55" width="2.9" height="2.9" fill="#b5ff4a"/><rect x="180" y="55" width="2.9" height="2.9" fill="#84ff7b"/><rect x="182.5" y="55" width="2.9" height="2.9" fill="#53ffac"/><rect x="185" y="55" width="7.9" height="2.9" fill="#46ffb9"/><rect x="192.5" y="55" width="2.9" height="2.9" fill="#22ffdd"/><rect x="195" y="55" width="5.4" height="2.9" fill="#09fff6"/><rect x="200" y="55" width="2.9" height="2.9" fill="#00f0ff"/><rect x="202.5" y="55" width="2.9" height="2.9" fill="#0075ff"/><rect x="205" y="55" width="12.9" height="2.9" fill="#0069ff"/><rect x="217.5" y="55" width="5.4" height="2.9" fill="#005dff"/><rect x="222.5" y="55" width="2.9" height="2.9" fill="#0075ff"/><rect x="225" y="55" width="2.9" height="2.9" fill="#00cbff"/><rect x="227.5" y="55" width="2.9" height="2.9" fill="#c1ff3e"/><rect x="230" y="55" width="2.9" height="2.9" fill="#ff9200"/><rect x="232.5" y="55" width="5.4" height="2.9" fill="#ff7900"/><rect x="237.5" y="55" width="2.9" height="2.9" fill="#ff9200"/><rect x="240" y="55" width="2.9" height="2.9" fill="#ffb700"/><rect x="167.5" y="57.5" width="2.9" height="2.9" fill="#9cff63"/><rect x="170" y="57.5" width="7.9" height="2.9" fill="#a8ff57"/><rect x="177.5" y="57.5" width="2.9" height="2.9" fill="#90ff6f"/><rect x="180" y="57.5" width="2.9" height="2.9" fill="#77ff88"/><rect x="182.5" y="57.5" width="2.9" height="2.9" fill="#53ffac"/><rect x="185" y="57.5" width="7.9" height="2.9" fill="#46ffb9"/><rect x="192.5" y="57.5" width="2.9" height="2.9" fill="#22ffdd"/><rect x="195" y="57.5" width="2.9" height="2.9" fill="#09fff6"/><rect x="197.5" y="57.5" width="2.9" height="2.9" fill="#00fcff"/><rect x="200" y="57.5" width="2.9" height="2.9" fill="#00d7ff"/><rect x="202.5" y="57.5" width="7.9" height="2.9" fill="#0069ff"/><rect x="210" y="57.5" width="5.4" height="2.9" fill="#005dff"/><rect x="215" y="57.5" width="10.4" height="2.9" fill="#0069ff"/><rect x="225" y="57.5" width="2.9" height="2.9" fill="#0075ff"/><rect x="227.5" y="57.5" width="2.9" height="2.9" fill="#2effd1"/><rect x="230" y="57.5" width="2.9" height="2.9" fill="#ffc300"/><rect x="232.5" y="57.5" width="2.9" height="2.9" fill="#ff9e00"/><rect x="235" y="57.5" width="5.4" height="2.9" fill="#ffaa00"/><rect x="240" y="57.5" width="2.9" height="2.9" fill="#ffb700"/><rect x="167.5" y="60" width="5.4" height="2.9" fill="#90ff6f"/><rect x="172.5" y="60" width="7.9" height="2.9" fill="#84ff7b"/><rect x="180" y="60" width="2.9" height="2.9" fill="#6bff94"/><rect x="182.5" y="60" width="2.9" height="2.9" fill="#53ffac"/><rect x="185" y="60" width="5.4" height="2.9" fill="#46ffb9"/><rect x="190" y="60" width="2.9" height="2.9" fill="#3affc5"/><rect x="192.5" y="60" width="2.9" height="2.9" fill="#22ffdd"/><rect x="195" y="60" width="2.9" height="2.9" fill="#09fff6"/><rect x="197.5" y="60" width="2.9" height="2.9" fill="#00f0ff"/><rect x="200" y="60" width="2.9" height="2.9" fill="#00bfff"/><rect x="202.5" y="60" width="2.9" height="2.9" fill="#0075ff"/><rect x="205" y="60" width="5.4" height="2.9" fill="#0069ff"/><rect x="210" y="60" width="5.4" height="2.9" fill="#005dff"/><rect x="215" y="60" width="2.9" height="2.9" fill="#0069ff"/><rect x="217.5" y="60" width="2.9" height="2.9" fill="#0075ff"/><rect x="220" y="60" width="7.9" height="2.9" fill="#005dff"/><rect x="227.5" y="60" width="2.9" height="2.9" fill="#00b2ff"/><rect x="230" y="60" width="2.9" height="2.9" fill="#ffe800"/><rect x="232.5" y="60" width="7.9" height="2.9" fill="#ffb700"/><rect x="240" y="60" width="2.9" height="2.9" fill="#ffc300"/><rect x="167.5" y="62.5" width="2.9" height="2.9" fill="#90ff6f"/><rect x="170" y="62.5" width="10.4" height="2.9" fill="#84ff7b"/><rect x="180" y="62.5" width="2.9" height="2.9" fill="#6bff94"/><rect x="182.5" y="62.5" width="2.9" height="2.9" fill="#53ffac"/><rect x="185" y="62.5" width="5.4" height="2.9" fill="#46ffb9"/><rect x="190" y="62.5" width="2.9" height="2.9" fill="#2effd1"/><rect x="192.5" y="62.5" width="2.9" height="2.9" fill="#22ffdd"/><rect x="195" y="62.5" width="2.9" height="2.9" fill="#15ffea"/><rect x="197.5" y="62.5" width="2.9" height="2.9" fill="#00f0ff"/><rect x="200" y="62.5" width="2.9" height="2.9" fill="#00cbff"/><rect x="202.5" y="62.5" width="2.9" height="2.9" fill="#009aff"/><rect x="205" y="62.5" width="2.9" height="2.9" fill="#0082ff"/><rect x="207.5" y="62.5" width="2.9" height="2.9" fill="#0075ff"/><rect x="210" y="62.5" width="2.9" height="2.9" fill="#0069ff"/><rect x="212.5" y="62.5" width="2.9" height="2.9" fill="#0075ff"/><rect x="215" y="62.5" width="5.4" height="2.9" fill="#008eff"/><rect x="220" y="62.5" width="2.9" height="2.9" fill="#0069ff"/><rect x="222.5" y="62.5" width="5.4" height="2.9" fill="#005dff"/><rect x="227.5" y="62.5" width="2.9" height="2.9" fill="#00a6ff"/><rect x="230" y="62.5" width="2.9" height="2.9" fill="#e5ff1a"/><rect x="232.5" y="62.5" width="5.4" height="2.9" fill="#ffb700"/><rect x="237.5" y="62.5" width="2.9" height="2.9" fill="#ffc300"/><rect x="240" y="62.5" width="2.9" height="2.9" fill="#ffcf00"/><rect x="167.5" y="65" width="2.9" height="2.9" fill="#90ff6f"/><rect x="170" y="65" width="5.4" height="2.9" fill="#84ff7b"/><rect x="175" y="65" width="5.4" height="2.9" fill="#77ff88"/><rect x="180" y="65" width="2.9" height="2.9" fill="#6bff94"/><rect x="182.5" y="65" width="2.9" height="2.9" fill="#53ffac"/><rect x="185" y="65" width="2.9" height="2.9" fill="#46ffb9"/><rect x="187.5" y="65" width="2.9" height="2.9" fill="#2effd1"/><rect x="190" y="65" width="7.9" height="2.9" fill="#15ffea"/><rect x="197.5" y="65" width="2.9" height="2.9" fill="#09fff6"/><rect x="200" y="65" width="2.9" height="2.9" fill="#00f0ff"/><rect x="202.5" y="65" width="2.9" height="2.9" fill="#00cbff"/><rect x="205" y="65" width="2.9" height="2.9" fill="#00b2ff"/><rect x="207.5" y="65" width="5.4" height="2.9" fill="#00a6ff"/><rect x="212.5" y="65" width="2.9" height="2.9" fill="#00cbff"/><rect x="215" y="65" width="2.9" height="2.9" fill="#00f0ff"/><rect x="217.5" y="65" width="2.9" height="2.9" fill="#00e3ff"/><rect x="220" y="65" width="2.9" height="2.9" fill="#00a6ff"/><rect x="222.5" y="65" width="5.4" height="2.9" fill="#0082ff"/><rect x="227.5" y="65" width="2.9" height="2.9" fill="#00e3ff"/><rect x="230" y="65" width="2.9" height="2.9" fill="#9cff63"/><rect x="232.5" y="65" width="2.9" height="2.9" fill="#fff400"/><rect x="235" y="65" width="2.9" height="2.9" fill="#ffdb00"/><rect x="237.5" y="65" width="2.9" height="2.9" fill="#ffe800"/><rect x="240" y="65" width="2.9" height="2.9" fill="#fff400"/><rect x="167.5" y="67.5" width="2.9" height="2.9" fill="#a8ff57"/><rect x="170" y="67.5" width="2.9" height="2.9" fill="#9cff63"/><rect x="172.5" y="67.5" width="2.9" height="2.9" fill="#90ff6f"/><rect x="175" y="67.5" width="2.9" height="2.9" fill="#77ff88"/><rect x="177.5" y="67.5" width="7.9" height="2.9" fill="#5fffa0"/><rect x="185" y="67.5" width="2.9" height="2.9" fill="#46ffb9"/><rect x="187.5" y="67.5" width="2.9" height="2.9" fill="#22ffdd"/><rect x="190" y="67.5" width="5.4" height="2.9" fill="#15ffea"/><rect x="195" y="67.5" width="5.4" height="2.9" fill="#22ffdd"/><rect x="200" y="67.5" width="2.9" height="2.9" fill="#15ffea"/><rect x="202.5" y="67.5" width="2.9" height="2.9" fill="#09fff6"/><rect x="205" y="67.5" width="5.4" height="2.9" fill="#00f0ff"/><rect x="210" y="67.5" width="2.9" height="2.9" fill="#09fff6"/><rect x="212.5" y="67.5" width="2.9" height="2.9" fill="#22ffdd"/><rect x="215" y="67.5" width="2.9" height="2.9" fill="#2effd1"/><rect x="217.5" y="67.5" width="2.9" height="2.9" fill="#22ffdd"/><rect x="220" y="67.5" width="2.9" height="2.9" fill="#15ffea"/><rect x="222.5" y="67.5" width="2.9" height="2.9" fill="#00fcff"/><rect x="225" y="67.5" width="2.9" height="2.9" fill="#09fff6"/><rect x="227.5" y="67.5" width="2.9" height="2.9" fill="#2effd1"/><rect x="230" y="67.5" width="2.9" height="2.9" fill="#84ff7b"/><rect x="232.5" y="67.5" width="2.9" height="2.9" fill="#c1ff3e"/><rect x="235" y="67.5" width="7.9" height="2.9" fill="#cdff32"/><rect x="167.5" y="70" width="2.9" height="2.9" fill="#b5ff4a"/><rect x="170" y="70" width="2.9" height="2.9" fill="#c1ff3e"/><rect x="172.5" y="70" width="2.9" height="2.9" fill="#b5ff4a"/><rect x="175" y="70" width="2.9" height="2.9" fill="#84ff7b"/><rect x="177.5" y="70" width="7.9" height="2.9" fill="#5fffa0"/><rect x="185" y="70" width="2.9" height="2.9" fill="#46ffb9"/><rect x="187.5" y="70" width="2.9" height="2.9" fill="#22ffdd"/><rect x="190" y="70" width="2.9" height="2.9" fill="#15ffea"/><rect x="192.5" y="70" width="5.4" height="2.9" fill="#22ffdd"/><rect x="197.5" y="70" width="5.4" height="2.9" fill="#2effd1"/><rect x="202.5" y="70" width="7.9" height="2.9" fill="#22ffdd"/><rect x="210" y="70" width="10.4" height="2.9" fill="#2effd1"/><rect x="220" y="70" width="2.9" height="2.9" fill="#3affc5"/><rect x="222.5" y="70" width="5.4" height="2.9" fill="#46ffb9"/><rect x="227.5" y="70" width="2.9" height="2.9" fill="#53ffac"/><rect x="230" y="70" width="2.9" height="2.9" fill="#84ff7b"/><rect x="232.5" y="70" width="2.9" height="2.9" fill="#a8ff57"/><rect x="235" y="70" width="7.9" height="2.9" fill="#b5ff4a"/><rect x="167.5" y="72.5" width="7.9" height="2.9" fill="#c1ff3e"/><rect x="175" y="72.5" width="2.9" height="2.9" fill="#b5ff4a"/><rect x="177.5" y="72.5" width="2.9" height="2.9" fill="#6bff94"/><rect x="180" y="72.5" width="5.4" height="2.9" fill="#5fffa0"/><rect x="185" y="72.5" width="2.9" height="2.9" fill="#53ffac"/><rect x="187.5" y="72.5" width="2.9" height="2.9" fill="#2effd1"/><rect x="190" y="72.5" width="5.4" height="2.9" fill="#22ffdd"/><rect x="195" y="72.5" width="12.9" height="2.9" fill="#2effd1"/><rect x="207.5" y="72.5" width="5.4" height="2.9" fill="#3affc5"/><rect x="212.5" y="72.5" width="7.9" height="2.9" fill="#2effd1"/><rect x="220" y="72.5" width="5.4" height="2.9" fill="#46ffb9"/><rect x="225" y="72.5" width="5.4" height="2.9" fill="#53ffac"/><rect x="230" y="72.5" width="2.9" height="2.9" fill="#90ff6f"/><rect x="232.5" y="72.5" width="10.4" height="2.9" fill="#b5ff4a"/><rect x="167.5" y="75" width="10.4" height="2.9" fill="#c1ff3e"/><rect x="177.5" y="75" width="2.9" height="2.9" fill="#90ff6f"/><rect x="180" y="75" width="2.9" height="2.9" fill="#77ff88"/><rect x="182.5" y="75" width="2.9" height="2.9" fill="#6bff94"/><rect x="185" y="75" width="2.9" height="2.9" fill="#5fffa0"/><rect x="187.5" y="75" width="2.9" height="2.9" fill="#46ffb9"/><rect x="190" y="75" width="2.9" height="2.9" fill="#3affc5"/><rect x="192.5" y="75" width="12.9" height="2.9" fill="#2effd1"/><rect x="205" y="75" width="10.4" height="2.9" fill="#46ffb9"/><rect x="215" y="75" width="2.9" height="2.9" fill="#3affc5"/><rect x="217.5" y="75" width="2.9" height="2.9" fill="#46ffb9"/><rect x="220" y="75" width="7.9" height="2.9" fill="#53ffac"/><rect x="227.5" y="75" width="2.9" height="2.9" fill="#5fffa0"/><rect x="230" y="75" width="2.9" height="2.9" fill="#90ff6f"/><rect x="232.5" y="75" width="10.4" height="2.9" fill="#b5ff4a"/><rect x="167.5" y="77.5" width="10.4" height="2.9" fill="#c1ff3e"/><rect x="177.5" y="77.5" width="2.9" height="2.9" fill="#b5ff4a"/><rect x="180" y="77.5" width="2.9" height="2.9" fill="#9cff63"/><rect x="182.5" y="77.5" width="2.9" height="2.9" fill="#90ff6f"/><rect x="185" y="77.5" width="2.9" height="2.9" fill="#77ff88"/><rect x="187.5" y="77.5" width="2.9" height="2.9" fill="#5fffa0"/><rect x="190" y="77.5" width="2.9" height="2.9" fill="#46ffb9"/><rect x="192.5" y="77.5" width="2.9" height="2.9" fill="#3affc5"/><rect x="195" y="77.5" width="7.9" height="2.9" fill="#2effd1"/><rect x="202.5" y="77.5" width="2.9" height="2.9" fill="#3affc5"/><rect x="205" y="77.5" width="10.4" height="2.9" fill="#53ffac"/><rect x="215" y="77.5" width="2.9" height="2.9" fill="#5fffa0"/><rect x="217.5" y="77.5" width="5.4" height="2.9" fill="#77ff88"/><rect x="222.5" y="77.5" width="5.4" height="2.9" fill="#5fffa0"/><rect x="227.5" y="77.5" width="2.9" height="2.9" fill="#77ff88"/><rect x="230" y="77.5" width="2.9" height="2.9" fill="#84ff7b"/><rect x="232.5" y="77.5" width="2.9" height="2.9" fill="#9cff63"/><rect x="235" y="77.5" width="7.9" height="2.9" fill="#a8ff57"/><rect x="167.5" y="80" width="12.9" height="2.9" fill="#d9ff26"/><rect x="180" y="80" width="2.9" height="2.9" fill="#cdff32"/><rect x="182.5" y="80" width="2.9" height="2.9" fill="#c1ff3e"/><rect x="185" y="80" width="2.9" height="2.9" fill="#b5ff4a"/><rect x="187.5" y="80" width="2.9" height="2.9" fill="#90ff6f"/><rect x="190" y="80" width="2.9" height="2.9" fill="#6bff94"/><rect x="192.5" y="80" width="2.9" height="2.9" fill="#53ffac"/><rect x="195" y="80" width="5.4" height="2.9" fill="#3affc5"/><rect x="200" y="80" width="2.9" height="2.9" fill="#46ffb9"/><rect x="202.5" y="80" width="5.4" height="2.9" fill="#5fffa0"/><rect x="207.5" y="80" width="7.9" height="2.9" fill="#53ffac"/><rect x="215" y="80" width="2.9" height="2.9" fill="#84ff7b"/><rect x="217.5" y="80" width="5.4" height="2.9" fill="#cdff32"/><rect x="222.5" y="80" width="2.9" height="2.9" fill="#9cff63"/><rect x="225" y="80" width="10.4" height="2.9" fill="#84ff7b"/><rect x="235" y="80" width="2.9" height="2.9" fill="#90ff6f"/><rect x="237.5" y="80" width="5.4" height="2.9" fill="#9cff63"/><rect x="167.5" y="82.5" width="7.9" height="2.9" fill="#f2ff0d"/><rect x="175" y="82.5" width="5.4" height="2.9" fill="#feff01"/><rect x="180" y="82.5" width="5.4" height="2.9" fill="#fff400"/><rect x="185" y="82.5" width="2.9" height="2.9" fill="#f2ff0d"/><rect x="187.5" y="82.5" width="2.9" height="2.9" fill="#cdff32"/><rect x="190" y="82.5" width="2.9" height="2.9" fill="#9cff63"/><rect x="192.5" y="82.5" width="2.9" height="2.9" fill="#77ff88"/><rect x="195" y="82.5" width="2.9" height="2.9" fill="#5fffa0"/><rect x="197.5" y="82.5" width="2.9" height="2.9" fill="#6bff94"/><rect x="200" y="82.5" width="2.9" height="2.9" fill="#77ff88"/><rect x="202.5" y="82.5" width="2.9" height="2.9" fill="#90ff6f"/><rect x="205" y="82.5" width="2.9" height="2.9" fill="#9cff63"/><rect x="207.5" y="82.5" width="2.9" height="2.9" fill="#90ff6f"/><rect x="210" y="82.5" width="2.9" height="2.9" fill="#6bff94"/><rect x="212.5" y="82.5" width="2.9" height="2.9" fill="#77ff88"/><rect x="215" y="82.5" width="2.9" height="2.9" fill="#c1ff3e"/><rect x="217.5" y="82.5" width="5.4" height="2.9" fill="#e5ff1a"/><rect x="222.5" y="82.5" width="2.9" height="2.9" fill="#cdff32"/><rect x="225" y="82.5" width="12.9" height="2.9" fill="#84ff7b"/><rect x="237.5" y="82.5" width="5.4" height="2.9" fill="#90ff6f"/><rect x="167.5" y="85" width="10.4" height="2.9" fill="#feff01"/><rect x="177.5" y="85" width="2.9" height="2.9" fill="#fff400"/><rect x="180" y="85" width="5.4" height="2.9" fill="#ffcf00"/><rect x="185" y="85" width="2.9" height="2.9" fill="#ffdb00"/><rect x="187.5" y="85" width="2.9" height="2.9" fill="#feff01"/><rect x="190" y="85" width="2.9" height="2.9" fill="#cdff32"/><rect x="192.5" y="85" width="2.9" height="2.9" fill="#9cff63"/><rect x="195" y="85" width="2.9" height="2.9" fill="#84ff7b"/><rect x="197.5" y="85" width="2.9" height="2.9" fill="#90ff6f"/><rect x="200" y="85" width="2.9" height="2.9" fill="#9cff63"/><rect x="202.5" y="85" width="2.9" height="2.9" fill="#b5ff4a"/><rect x="205" y="85" width="2.9" height="2.9" fill="#c1ff3e"/><rect x="207.5" y="85" width="5.4" height="2.9" fill="#d9ff26"/><rect x="212.5" y="85" width="2.9" height="2.9" fill="#c1ff3e"/><rect x="215" y="85" width="2.9" height="2.9" fill="#cdff32"/><rect x="217.5" y="85" width="5.4" height="2.9" fill="#e5ff1a"/><rect x="222.5" y="85" width="2.9" height="2.9" fill="#cdff32"/><rect x="225" y="85" width="2.9" height="2.9" fill="#90ff6f"/><rect x="227.5" y="85" width="5.4" height="2.9" fill="#84ff7b"/><rect x="232.5" y="85" width="10.4" height="2.9" fill="#77ff88"/><rect x="167.5" y="87.5" width="10.4" height="2.9" fill="#feff01"/><rect x="177.5" y="87.5" width="2.9" height="2.9" fill="#ffdb00"/><rect x="180" y="87.5" width="5.4" height="2.9" fill="#ffb700"/><rect x="185" y="87.5" width="2.9" height="2.9" fill="#ffc300"/><rect x="187.5" y="87.5" width="2.9" height="2.9" fill="#ffdb00"/><rect x="190" y="87.5" width="2.9" height="2.9" fill="#e5ff1a"/><rect x="192.5" y="87.5" width="2.9" height="2.9" fill="#b5ff4a"/><rect x="195" y="87.5" width="5.4" height="2.9" fill="#9cff63"/><rect x="200" y="87.5" width="2.9" height="2.9" fill="#a8ff57"/><rect x="202.5" y="87.5" width="2.9" height="2.9" fill="#b5ff4a"/><rect x="205" y="87.5" width="2.9" height="2.9" fill="#c1ff3e"/><rect x="207.5" y="87.5" width="5.4" height="2.9" fill="#e5ff1a"/><rect x="212.5" y="87.5" width="2.9" height="2.9" fill="#cdff32"/><rect x="215" y="87.5" width="5.4" height="2.9" fill="#9cff63"/><rect x="220" y="87.5" width="2.9" height="2.9" fill="#b5ff4a"/><rect x="222.5" y="87.5" width="2.9" height="2.9" fill="#9cff63"/><rect x="225" y="87.5" width="7.9" height="2.9" fill="#84ff7b"/><rect x="232.5" y="87.5" width="2.9" height="2.9" fill="#77ff88"/><rect x="235" y="87.5" width="2.9" height="2.9" fill="#6bff94"/><rect x="237.5" y="87.5" width="5.4" height="2.9" fill="#5fffa0"/><rect x="167.5" y="90" width="5.4" height="2.9" fill="#fff400"/><rect x="172.5" y="90" width="2.9" height="2.9" fill="#feff01"/><rect x="175" y="90" width="2.9" height="2.9" fill="#fff400"/><rect x="177.5" y="90" width="10.4" height="2.9" fill="#ffb700"/><rect x="187.5" y="90" width="2.9" height="2.9" fill="#ffcf00"/><rect x="190" y="90" width="2.9" height="2.9" fill="#feff01"/><rect x="192.5" y="90" width="2.9" height="2.9" fill="#c1ff3e"/><rect x="195" y="90" width="7.9" height="2.9" fill="#a8ff57"/><rect x="202.5" y="90" width="5.4" height="2.9" fill="#b5ff4a"/><rect x="207.5" y="90" width="2.9" height="2.9" fill="#cdff32"/><rect x="210" y="90" width="2.9" height="2.9" fill="#e5ff1a"/><rect x="212.5" y="90" width="2.9" height="2.9" fill="#b5ff4a"/><rect x="215" y="90" width="15.4" height="2.9" fill="#84ff7b"/><rect x="230" y="90" width="2.9" height="2.9" fill="#77ff88"/><rect x="232.5" y="90" width="2.9" height="2.9" fill="#6bff94"/><rect x="235" y="90" width="2.9" height="2.9" fill="#53ffac"/><rect x="237.5" y="90" width="5.4" height="2.9" fill="#3affc5"/><rect x="167.5" y="92.5" width="5.4" height="2.9" fill="#ffcf00"/><rect x="172.5" y="92.5" width="2.9" height="2.9" fill="#ffc300"/><rect x="175" y="92.5" width="12.9" height="2.9" fill="#ffb700"/><rect x="187.5" y="92.5" width="2.9" height="2.9" fill="#ffcf00"/><rect x="190" y="92.5" width="2.9" height="2.9" fill="#feff01"/><rect x="192.5" y="92.5" width="2.9" height="2.9" fill="#c1ff3e"/><rect x="195" y="92.5" width="5.4" height="2.9" fill="#9cff63"/><rect x="200" y="92.5" width="2.9" height="2.9" fill="#a8ff57"/><rect x="202.5" y="92.5" width="7.9" height="2.9" fill="#b5ff4a"/><rect x="210" y="92.5" width="2.9" height="2.9" fill="#c1ff3e"/><rect x="212.5" y="92.5" width="2.9" height="2.9" fill="#90ff6f"/><rect x="215" y="92.5" width="5.4" height="2.9" fill="#84ff7b"/><rect x="220" y="92.5" width="2.9" height="2.9" fill="#6bff94"/><rect x="222.5" y="92.5" width="2.9" height="2.9" fill="#53ffac"/><rect x="225" y="92.5" width="2.9" height="2.9" fill="#6bff94"/><rect x="227.5" y="92.5" width="2.9" height="2.9" fill="#77ff88"/><rect x="230" y="92.5" width="2.9" height="2.9" fill="#5fffa0"/><rect x="232.5" y="92.5" width="2.9" height="2.9" fill="#2effd1"/><rect x="235" y="92.5" width="2.9" height="2.9" fill="#09fff6"/><rect x="237.5" y="92.5" width="5.4" height="2.9" fill="#00fcff"/><rect x="167.5" y="95" width="2.9" height="2.9" fill="#ffc300"/><rect x="170" y="95" width="15.4" height="2.9" fill="#ffb700"/><rect x="185" y="95" width="2.9" height="2.9" fill="#ffc300"/><rect x="187.5" y="95" width="2.9" height="2.9" fill="#ffdb00"/><rect x="190" y="95" width="2.9" height="2.9" fill="#f2ff0d"/><rect x="192.5" y="95" width="2.9" height="2.9" fill="#b5ff4a"/><rect x="195" y="95" width="2.9" height="2.9" fill="#9cff63"/><rect x="197.5" y="95" width="2.9" height="2.9" fill="#90ff6f"/><rect x="200" y="95" width="10.4" height="2.9" fill="#9cff63"/><rect x="210" y="95" width="2.9" height="2.9" fill="#90ff6f"/><rect x="212.5" y="95" width="2.9" height="2.9" fill="#5fffa0"/><rect x="215" y="95" width="2.9" height="2.9" fill="#46ffb9"/><rect x="217.5" y="95" width="2.9" height="2.9" fill="#15ffea"/><rect x="220" y="95" width="5.4" height="2.9" fill="#00bfff"/><rect x="225" y="95" width="2.9" height="2.9" fill="#00fcff"/><rect x="227.5" y="95" width="2.9" height="2.9" fill="#09fff6"/><rect x="230" y="95" width="2.9" height="2.9" fill="#00cbff"/><rect x="232.5" y="95" width="5.4" height="2.9" fill="#009aff"/><rect x="237.5" y="95" width="2.9" height="2.9" fill="#00b2ff"/><rect x="240" y="95" width="2.9" height="2.9" fill="#00cbff"/><rect x="167.5" y="97.5" width="15.4" height="2.9" fill="#ffb700"/><rect x="182.5" y="97.5" width="2.9" height="2.9" fill="#ffc300"/><rect x="185" y="97.5" width="2.9" height="2.9" fill="#ffcf00"/><rect x="187.5" y="97.5" width="2.9" height="2.9" fill="#ffe800"/><rect x="190" y="97.5" width="2.9" height="2.9" fill="#d9ff26"/><rect x="192.5" y="97.5" width="2.9" height="2.9" fill="#a8ff57"/><rect x="195" y="97.5" width="12.9" height="2.9" fill="#90ff6f"/><rect x="207.5" y="97.5" width="2.9" height="2.9" fill="#84ff7b"/><rect x="210" y="97.5" width="2.9" height="2.9" fill="#5fffa0"/><rect x="212.5" y="97.5" width="2.9" height="2.9" fill="#00fcff"/><rect x="215" y="97.5" width="2.9" height="2.9" fill="#0082ff"/><rect x="217.5" y="97.5" width="2.9" height="2.9" fill="#002cff"/><rect x="220" y="97.5" width="2.9" height="2.9" fill="#0020ff"/><rect x="222.5" y="97.5" width="2.9" height="2.9" fill="#0038ff"/><rect x="225" y="97.5" width="5.4" height="2.9" fill="#0082ff"/><rect x="230" y="97.5" width="7.9" height="2.9" fill="#0069ff"/><rect x="237.5" y="97.5" width="2.9" height="2.9" fill="#0082ff"/><rect x="240" y="97.5" width="2.9" height="2.9" fill="#009aff"/><rect x="167.5" y="100" width="15.4" height="2.9" fill="#ffb700"/><rect x="182.5" y="100" width="2.9" height="2.9" fill="#ffc300"/><rect x="185" y="100" width="2.9" height="2.9" fill="#ffdb00"/><rect x="187.5" y="100" width="2.9" height="2.9" fill="#feff01"/><rect x="190" y="100" width="2.9" height="2.9" fill="#c1ff3e"/><rect x="192.5" y="100" width="2.9" height="2.9" fill="#90ff6f"/><rect x="195" y="100" width="2.9" height="2.9" fill="#77ff88"/><rect x="197.5" y="100" width="2.9" height="2.9" fill="#84ff7b"/><rect x="200" y="100" width="7.9" height="2.9" fill="#90ff6f"/><rect x="207.5" y="100" width="2.9" height="2.9" fill="#53ffac"/><rect x="210" y="100" width="2.9" height="2.9" fill="#15ffea"/><rect x="212.5" y="100" width="2.9" height="2.9" fill="#00b2ff"/><rect x="215" y="100" width="2.9" height="2.9" fill="#0038ff"/><rect x="217.5" y="100" width="7.9" height="2.9" fill="#0020ff"/><rect x="225" y="100" width="2.9" height="2.9" fill="#0051ff"/><rect x="227.5" y="100" width="2.9" height="2.9" fill="#0069ff"/><rect x="230" y="100" width="5.4" height="2.9" fill="#005dff"/><rect x="235" y="100" width="5.4" height="2.9" fill="#0069ff"/><rect x="240" y="100" width="2.9" height="2.9" fill="#0082ff"/><rect x="167.5" y="102.5" width="12.9" height="2.9" fill="#ffb700"/><rect x="180" y="102.5" width="2.9" height="2.9" fill="#ffc300"/><rect x="182.5" y="102.5" width="2.9" height="2.9" fill="#ffcf00"/><rect x="185" y="102.5" width="2.9" height="2.9" fill="#ffe800"/><rect x="187.5" y="102.5" width="2.9" height="2.9" fill="#e5ff1a"/><rect x="190" y="102.5" width="2.9" height="2.9" fill="#a8ff57"/><rect x="192.5" y="102.5" width="2.9" height="2.9" fill="#77ff88"/><rect x="195" y="102.5" width="2.9" height="2.9" fill="#5fffa0"/><rect x="197.5" y="102.5" width="5.4" height="2.9" fill="#53ffac"/><rect x="202.5" y="102.5" width="2.9" height="2.9" fill="#2effd1"/><rect x="205" y="102.5" width="2.9" height="2.9" fill="#00d7ff"/><rect x="207.5" y="102.5" width="2.9" height="2.9" fill="#00a6ff"/><rect x="210" y="102.5" width="2.9" height="2.9" fill="#00b2ff"/><rect x="212.5" y="102.5" width="2.9" height="2.9" fill="#008eff"/><rect x="215" y="102.5" width="2.9" height="2.9" fill="#0044ff"/><rect x="217.5" y="102.5" width="5.4" height="2.9" fill="#0020ff"/><rect x="222.5" y="102.5" width="2.9" height="2.9" fill="#002cff"/><rect x="225" y="102.5" width="2.9" height="2.9" fill="#0051ff"/><rect x="227.5" y="102.5" width="2.9" height="2.9" fill="#0069ff"/><rect x="230" y="102.5" width="5.4" height="2.9" fill="#005dff"/><rect x="235" y="102.5" width="5.4" height="2.9" fill="#0069ff"/><rect x="240" y="102.5" width="2.9" height="2.9" fill="#0082ff"/><rect x="167.5" y="105" width="12.9" height="2.9" fill="#ffb700"/><rect x="180" y="105" width="2.9" height="2.9" fill="#ffc300"/><rect x="182.5" y="105" width="2.9" height="2.9" fill="#ffdb00"/><rect x="185" y="105" width="2.9" height="2.9" fill="#fff400"/><rect x="187.5" y="105" width="2.9" height="2.9" fill="#d9ff26"/><rect x="190" y="105" width="2.9" height="2.9" fill="#9cff63"/><rect x="192.5" y="105" width="2.9" height="2.9" fill="#5fffa0"/><rect x="195" y="105" width="2.9" height="2.9" fill="#2effd1"/><rect x="197.5" y="105" width="2.9" height="2.9" fill="#09fff6"/><rect x="200" y="105" width="2.9" height="2.9" fill="#00cbff"/><rect x="202.5" y="105" width="2.9" height="2.9" fill="#0082ff"/><rect x="205" y="105" width="5.4" height="2.9" fill="#0069ff"/><rect x="210" y="105" width="5.4" height="2.9" fill="#0082ff"/><rect x="215" y="105" width="2.9" height="2.9" fill="#005dff"/><rect x="217.5" y="105" width="2.9" height="2.9" fill="#0038ff"/><rect x="220" y="105" width="2.9" height="2.9" fill="#002cff"/><rect x="222.5" y="105" width="2.9" height="2.9" fill="#0038ff"/><rect x="225" y="105" width="2.9" height="2.9" fill="#005dff"/><rect x="227.5" y="105" width="10.4" height="2.9" fill="#0069ff"/><rect x="237.5" y="105" width="2.9" height="2.9" fill="#0075ff"/><rect x="240" y="105" width="2.9" height="2.9" fill="#0082ff"/><rect x="167.5" y="107.5" width="10.4" height="2.9" fill="#ffb700"/><rect x="177.5" y="107.5" width="2.9" height="2.9" fill="#ffc300"/><rect x="180" y="107.5" width="2.9" height="2.9" fill="#ffcf00"/><rect x="182.5" y="107.5" width="2.9" height="2.9" fill="#ffe800"/><rect x="185" y="107.5" width="2.9" height="2.9" fill="#f2ff0d"/><rect x="187.5" y="107.5" width="2.9" height="2.9" fill="#c1ff3e"/><rect x="190" y="107.5" width="2.9" height="2.9" fill="#84ff7b"/><rect x="192.5" y="107.5" width="2.9" height="2.9" fill="#46ffb9"/><rect x="195" y="107.5" width="2.9" height="2.9" fill="#09fff6"/><rect x="197.5" y="107.5" width="2.9" height="2.9" fill="#00cbff"/><rect x="200" y="107.5" width="2.9" height="2.9" fill="#009aff"/><rect x="202.5" y="107.5" width="2.9" height="2.9" fill="#0075ff"/><rect x="205" y="107.5" width="5.4" height="2.9" fill="#0069ff"/><rect x="210" y="107.5" width="2.9" height="2.9" fill="#0075ff"/><rect x="212.5" y="107.5" width="2.9" height="2.9" fill="#0082ff"/><rect x="215" y="107.5" width="2.9" height="2.9" fill="#0075ff"/><rect x="217.5" y="107.5" width="2.9" height="2.9" fill="#005dff"/><rect x="220" y="107.5" width="5.4" height="2.9" fill="#0051ff"/><rect x="225" y="107.5" width="10.4" height="2.9" fill="#0069ff"/><rect x="235" y="107.5" width="5.4" height="2.9" fill="#0075ff"/><rect x="240" y="107.5" width="2.9" height="2.9" fill="#008eff"/><rect x="167.5" y="110" width="10.4" height="2.9" fill="#ffc300"/><rect x="177.5" y="110" width="2.9" height="2.9" fill="#ffcf00"/><rect x="180" y="110" width="2.9" height="2.9" fill="#ffdb00"/><rect x="182.5" y="110" width="2.9" height="2.9" fill="#fff400"/><rect x="185" y="110" width="2.9" height="2.9" fill="#e5ff1a"/><rect x="187.5" y="110" width="2.9" height="2.9" fill="#a8ff57"/><rect x="190" y="110" width="2.9" height="2.9" fill="#6bff94"/><rect x="192.5" y="110" width="2.9" height="2.9" fill="#2effd1"/><rect x="195" y="110" width="2.9" height="2.9" fill="#00f0ff"/><rect x="197.5" y="110" width="2.9" height="2.9" fill="#00bfff"/><rect x="200" y="110" width="2.9" height="2.9" fill="#008eff"/><rect x="202.5" y="110" width="2.9" height="2.9" fill="#0075ff"/><rect x="205" y="110" width="5.4" height="2.9" fill="#0069ff"/><rect x="210" y="110" width="2.9" height="2.9" fill="#0075ff"/><rect x="212.5" y="110" width="5.4" height="2.9" fill="#0082ff"/><rect x="217.5" y="110" width="17.9" height="2.9" fill="#0075ff"/><rect x="235" y="110" width="2.9" height="2.9" fill="#0082ff"/><rect x="237.5" y="110" width="2.9" height="2.9" fill="#008eff"/><rect x="240" y="110" width="2.9" height="2.9" fill="#009aff"/><rect x="167.5" y="112.5" width="2.9" height="2.9" fill="#ffcf00"/><rect x="170" y="112.5" width="2.9" height="2.9" fill="#ffc300"/><rect x="172.5" y="112.5" width="5.4" height="2.9" fill="#ffcf00"/><rect x="177.5" y="112.5" width="2.9" height="2.9" fill="#ffdb00"/><rect x="180" y="112.5" width="2.9" height="2.9" fill="#fff400"/><rect x="182.5" y="112.5" width="2.9" height="2.9" fill="#f2ff0d"/><rect x="185" y="112.5" width="2.9" height="2.9" fill="#cdff32"/><rect x="187.5" y="112.5" width="2.9" height="2.9" fill="#9cff63"/><rect x="190" y="112.5" width="2.9" height="2.9" fill="#5fffa0"/><rect x="192.5" y="112.5" width="2.9" height="2.9" fill="#22ffdd"/><rect x="195" y="112.5" width="2.9" height="2.9" fill="#00f0ff"/><rect x="197.5" y="112.5" width="2.9" height="2.9" fill="#00bfff"/><rect x="200" y="112.5" width="2.9" height="2.9" fill="#009aff"/><rect x="202.5" y="112.5" width="2.9" height="2.9" fill="#0082ff"/><rect x="205" y="112.5" width="5.4" height="2.9" fill="#0075ff"/><rect x="210" y="112.5" width="2.9" height="2.9" fill="#0082ff"/><rect x="212.5" y="112.5" width="25.4" height="2.9" fill="#008eff"/><rect x="237.5" y="112.5" width="2.9" height="2.9" fill="#009aff"/><rect x="240" y="112.5" width="2.9" height="2.9" fill="#00a6ff"/><rect x="167.5" y="115" width="10.4" height="2.9" fill="#ffdb00"/><rect x="177.5" y="115" width="2.9" height="2.9" fill="#fff400"/><rect x="180" y="115" width="2.9" height="2.9" fill="#feff01"/><rect x="182.5" y="115" width="2.9" height="2.9" fill="#d9ff26"/><rect x="185" y="115" width="2.9" height="2.9" fill="#b5ff4a"/><rect x="187.5" y="115" width="2.9" height="2.9" fill="#90ff6f"/><rect x="190" y="115" width="2.9" height="2.9" fill="#5fffa0"/><rect x="192.5" y="115" width="2.9" height="2.9" fill="#22ffdd"/><rect x="195" y="115" width="2.9" height="2.9" fill="#00f0ff"/><rect x="197.5" y="115" width="2.9" height="2.9" fill="#00cbff"/><rect x="200" y="115" width="2.9" height="2.9" fill="#00a6ff"/><rect x="202.5" y="115" width="2.9" height="2.9" fill="#009aff"/><rect x="205" y="115" width="7.9" height="2.9" fill="#008eff"/><rect x="212.5" y="115" width="2.9" height="2.9" fill="#009aff"/><rect x="215" y="115" width="7.9" height="2.9" fill="#00a6ff"/><rect x="222.5" y="115" width="12.9" height="2.9" fill="#009aff"/><rect x="235" y="115" width="5.4" height="2.9" fill="#00a6ff"/><rect x="240" y="115" width="2.9" height="2.9" fill="#00b2ff"/></g></g><circle cx="187.9" cy="48.4" r="1.9" fill="#ff9e00"/><circle cx="185.4" cy="55.1" r="2.1" fill="#ff6100"/></g>
<use href="#st"/><use href="#bl"/>
</g>
<rect x="1285.55" y="93.55" width="23.00" height="218.90" fill="url(#jet)" stroke="#1a1a1a" stroke-width="0.9"/>
<text class="t" x="1316.80" y="101.50">1000</text>
<path d="M1308.50 142.30h-2.6" stroke="#1a1a1a" stroke-width="0.8"/>
<text class="t" x="1316.80" y="149.70">800</text>
<path d="M1308.50 190.50h-2.6" stroke="#1a1a1a" stroke-width="0.8"/>
<text class="t" x="1316.80" y="197.90">600</text>
<path d="M1308.50 238.70h-2.6" stroke="#1a1a1a" stroke-width="0.8"/>
<text class="t" x="1316.80" y="246.10">400</text>
<path d="M1308.50 286.90h-2.6" stroke="#1a1a1a" stroke-width="0.8"/>
<text class="t" x="1316.80" y="294.30">200</text>
<text class="l" x="988.10" y="112.40">48</text>
<text class="l" x="1017.40" y="112.40">N</text>
<text class="d" transform="translate(1009.90,99.80) scale(1.28,.92)" y="5.16">°</text>
<text class="l" x="988.10" y="130.90">46</text>
<text class="l" x="1017.40" y="130.90">N</text>
<text class="d" transform="translate(1009.90,118.30) scale(1.28,.92)" y="5.16">°</text>
<text class="l" x="988.10" y="147.80">44</text>
<text class="l" x="1017.40" y="147.80">N</text>
<text class="d" transform="translate(1009.90,135.20) scale(1.28,.92)" y="5.16">°</text>
<text class="l" x="988.10" y="165.90">42</text>
<text class="l" x="1017.40" y="165.90">N</text>
<text class="d" transform="translate(1009.90,153.30) scale(1.28,.92)" y="5.16">°</text>
<text class="l" x="988.10" y="182.70">40</text>
<text class="l" x="1017.40" y="182.70">N</text>
<text class="d" transform="translate(1009.90,170.10) scale(1.28,.92)" y="5.16">°</text>
<text class="l" x="988.10" y="198.20">38</text>
<text class="l" x="1017.40" y="198.20">N</text>
<text class="d" transform="translate(1009.90,185.60) scale(1.28,.92)" y="5.16">°</text>
<text class="l" x="988.10" y="214.20">36</text>
<text class="l" x="1017.40" y="214.20">N</text>
<text class="d" transform="translate(1009.90,201.60) scale(1.28,.92)" y="5.16">°</text>
<text class="l" x="988.10" y="228.65">34</text>
<text class="l" x="1017.40" y="228.65">N</text>
<text class="d" transform="translate(1009.90,216.05) scale(1.28,.92)" y="5.16">°</text>
<text class="l" x="988.10" y="245.00">32</text>
<text class="l" x="1017.40" y="245.00">N</text>
<text class="d" transform="translate(1009.90,232.40) scale(1.28,.92)" y="5.16">°</text>
<text class="l" x="988.10" y="259.55">30</text>
<text class="l" x="1017.40" y="259.55">N</text>
<text class="d" transform="translate(1009.90,246.95) scale(1.28,.92)" y="5.16">°</text>
<text class="l" x="988.10" y="274.75">28</text>
<text class="l" x="1017.40" y="274.75">N</text>
<text class="d" transform="translate(1009.90,262.15) scale(1.28,.92)" y="5.16">°</text>
<text class="l" x="988.10" y="289.20">26</text>
<text class="l" x="1017.40" y="289.20">N</text>
<text class="d" transform="translate(1009.90,276.60) scale(1.28,.92)" y="5.16">°</text>
<text class="l" x="988.10" y="301.50">24</text>
<text class="l" x="1017.40" y="301.50">N</text>
<text class="d" transform="translate(1009.90,288.90) scale(1.28,.92)" y="5.16">°</text>
<text class="l" x="988.10" y="316.10">22</text>
<text class="l" x="1017.40" y="316.10">N</text>
<text class="d" transform="translate(1009.90,303.50) scale(1.28,.92)" y="5.16">°</text>
<text class="l" x="1058.90" y="75.25">100</text>
<text class="l" x="1096.30" y="75.25">W</text>
<text class="d" transform="translate(1088.00,63.35) scale(1.28,.92)" y="5.16">°</text>
<text class="l" x="1127.90" y="75.25">90</text>
<text class="l" x="1157.70" y="75.25">W</text>
<text class="d" transform="translate(1148.60,63.35) scale(1.28,.92)" y="5.16">°</text>
<text class="l" x="1191.50" y="75.25">80</text>
<text class="l" x="1221.30" y="75.25">W</text>
<text class="d" transform="translate(1214.00,63.35) scale(1.28,.92)" y="5.16">°</text>
<text class="l" x="1254.90" y="75.25">70</text>
<text class="l" x="1284.30" y="75.25">W</text>
<text class="d" transform="translate(1276.00,63.35) scale(1.28,.92)" y="5.16">°</text>
<text class="b" x="1149.60" y="341.70" font-size="23" text-anchor="middle" textLength="230" lengthAdjust="spacing">Cloud Press (hPa)</text>
<rect x="195.70" y="486.30" width="233.75" height="213.05" fill="none" stroke="#262626" stroke-width="1"/>
<g transform="translate(196.40,486.40) scale(1)">
<g mask="url(#m456)"><g filter="url(#bl1)"><rect x="167.5" y="0" width="2.9" height="2.9" fill="#0051ff"/><rect x="170" y="0" width="2.9" height="2.9" fill="#0044ff"/><rect x="172.5" y="0" width="12.9" height="2.9" fill="#0038ff"/><rect x="185" y="0" width="2.9" height="2.9" fill="#0044ff"/><rect x="187.5" y="0" width="2.9" height="2.9" fill="#0051ff"/><rect x="190" y="0" width="2.9" height="2.9" fill="#0069ff"/><rect x="192.5" y="0" width="2.9" height="2.9" fill="#0075ff"/><rect x="195" y="0" width="2.9" height="2.9" fill="#0082ff"/><rect x="197.5" y="0" width="2.9" height="2.9" fill="#008eff"/><rect x="200" y="0" width="12.9" height="2.9" fill="#009aff"/><rect x="212.5" y="0" width="5.4" height="2.9" fill="#008eff"/><rect x="217.5" y="0" width="5.4" height="2.9" fill="#0082ff"/><rect x="222.5" y="0" width="17.9" height="2.9" fill="#0075ff"/><rect x="167.5" y="2.5" width="2.9" height="2.9" fill="#0051ff"/><rect x="170" y="2.5" width="2.9" height="2.9" fill="#0044ff"/><rect x="172.5" y="2.5" width="2.9" height="2.9" fill="#0038ff"/><rect x="175" y="2.5" width="7.9" height="2.9" fill="#002cff"/><rect x="182.5" y="2.5" width="2.9" height="2.9" fill="#0038ff"/><rect x="185" y="2.5" width="2.9" height="2.9" fill="#0044ff"/><rect x="187.5" y="2.5" width="2.9" height="2.9" fill="#005dff"/><rect x="190" y="2.5" width="2.9" height="2.9" fill="#0069ff"/><rect x="192.5" y="2.5" width="2.9" height="2.9" fill="#0075ff"/><rect x="195" y="2.5" width="5.4" height="2.9" fill="#008eff"/><rect x="200" y="2.5" width="12.9" height="2.9" fill="#009aff"/><rect x="212.5" y="2.5" width="5.4" height="2.9" fill="#008eff"/><rect x="217.5" y="2.5" width="2.9" height="2.9" fill="#0082ff"/><rect x="220" y="2.5" width="5.4" height="2.9" fill="#0075ff"/><rect x="225" y="2.5" width="12.9" height="2.9" fill="#0069ff"/><rect x="237.5" y="2.5" width="2.9" height="2.9" fill="#0075ff"/><rect x="167.5" y="5" width="2.9" height="2.9" fill="#0051ff"/><rect x="170" y="5" width="2.9" height="2.9" fill="#0044ff"/><rect x="172.5" y="5" width="2.9" height="2.9" fill="#0038ff"/><rect x="175" y="5" width="7.9" height="2.9" fill="#002cff"/><rect x="182.5" y="5" width="2.9" height="2.9" fill="#0038ff"/><rect x="185" y="5" width="2.9" height="2.9" fill="#0051ff"/><rect x="187.5" y="5" width="2.9" height="2.9" fill="#005dff"/><rect x="190" y="5" width="2.9" height="2.9" fill="#0075ff"/><rect x="192.5" y="5" width="2.9" height="2.9" fill="#0082ff"/><rect x="195" y="5" width="2.9" height="2.9" fill="#008eff"/><rect x="197.5" y="5" width="2.9" height="2.9" fill="#009aff"/><rect x="200" y="5" width="10.4" height="2.9" fill="#00a6ff"/><rect x="210" y="5" width="2.9" height="2.9" fill="#009aff"/><rect x="212.5" y="5" width="2.9" height="2.9" fill="#008eff"/><rect x="215" y="5" width="2.9" height="2.9" fill="#0082ff"/><rect x="217.5" y="5" width="5.4" height="2.9" fill="#0075ff"/><rect x="222.5" y="5" width="17.9" height="2.9" fill="#0069ff"/><rect x="167.5" y="7.5" width="2.9" height="2.9" fill="#005dff"/><rect x="170" y="7.5" width="2.9" height="2.9" fill="#0051ff"/><rect x="172.5" y="7.5" width="2.9" height="2.9" fill="#0044ff"/><rect x="175" y="7.5" width="7.9" height="2.9" fill="#0038ff"/><rect x="182.5" y="7.5" width="2.9" height="2.9" fill="#0051ff"/><rect x="185" y="7.5" width="2.9" height="2.9" fill="#0069ff"/><rect x="187.5" y="7.5" width="2.9" height="2.9" fill="#0075ff"/><rect x="190" y="7.5" width="2.9" height="2.9" fill="#0082ff"/><rect x="192.5" y="7.5" width="2.9" height="2.9" fill="#008eff"/><rect x="195" y="7.5" width="2.9" height="2.9" fill="#009aff"/><rect x="197.5" y="7.5" width="5.4" height="2.9" fill="#00a6ff"/><rect x="202.5" y="7.5" width="2.9" height="2.9" fill="#00b2ff"/><rect x="205" y="7.5" width="5.4" height="2.9" fill="#00a6ff"/><rect x="210" y="7.5" width="2.9" height="2.9" fill="#009aff"/><rect x="212.5" y="7.5" width="2.9" height="2.9" fill="#008eff"/><rect x="215" y="7.5" width="2.9" height="2.9" fill="#0082ff"/><rect x="217.5" y="7.5" width="2.9" height="2.9" fill="#0075ff"/><rect x="220" y="7.5" width="2.9" height="2.9" fill="#0069ff"/><rect x="222.5" y="7.5" width="15.4" height="2.9" fill="#005dff"/><rect x="237.5" y="7.5" width="2.9" height="2.9" fill="#0069ff"/><rect x="167.5" y="10" width="2.9" height="2.9" fill="#0069ff"/><rect x="170" y="10" width="2.9" height="2.9" fill="#005dff"/><rect x="172.5" y="10" width="7.9" height="2.9" fill="#0051ff"/><rect x="180" y="10" width="2.9" height="2.9" fill="#0069ff"/><rect x="182.5" y="10" width="7.9" height="2.9" fill="#0075ff"/><rect x="190" y="10" width="2.9" height="2.9" fill="#008eff"/><rect x="192.5" y="10" width="5.4" height="2.9" fill="#00a6ff"/><rect x="197.5" y="10" width="10.4" height="2.9" fill="#00b2ff"/><rect x="207.5" y="10" width="2.9" height="2.9" fill="#00a6ff"/><rect x="210" y="10" width="2.9" height="2.9" fill="#009aff"/><rect x="212.5" y="10" width="2.9" height="2.9" fill="#008eff"/><rect x="215" y="10" width="2.9" height="2.9" fill="#0082ff"/><rect x="217.5" y="10" width="2.9" height="2.9" fill="#0069ff"/><rect x="220" y="10" width="2.9" height="2.9" fill="#005dff"/><rect x="222.5" y="10" width="12.9" height="2.9" fill="#0051ff"/><rect x="235" y="10" width="5.4" height="2.9" fill="#005dff"/><rect x="167.5" y="12.5" width="2.9" height="2.9" fill="#0075ff"/><rect x="170" y="12.5" width="10.4" height="2.9" fill="#0069ff"/><rect x="180" y="12.5" width="7.9" height="2.9" fill="#0075ff"/><rect x="187.5" y="12.5" width="2.9" height="2.9" fill="#0082ff"/><rect x="190" y="12.5" width="2.9" height="2.9" fill="#00a6ff"/><rect x="192.5" y="12.5" width="2.9" height="2.9" fill="#00b2ff"/><rect x="195" y="12.5" width="12.9" height="2.9" fill="#00bfff"/><rect x="207.5" y="12.5" width="2.9" height="2.9" fill="#00b2ff"/><rect x="210" y="12.5" width="2.9" height="2.9" fill="#00a6ff"/><rect x="212.5" y="12.5" width="2.9" height="2.9" fill="#008eff"/><rect x="215" y="12.5" width="2.9" height="2.9" fill="#0075ff"/><rect x="217.5" y="12.5" width="2.9" height="2.9" fill="#005dff"/><rect x="220" y="12.5" width="2.9" height="2.9" fill="#0051ff"/><rect x="222.5" y="12.5" width="10.4" height="2.9" fill="#0044ff"/><rect x="232.5" y="12.5" width="5.4" height="2.9" fill="#0051ff"/><rect x="237.5" y="12.5" width="2.9" height="2.9" fill="#005dff"/><rect x="167.5" y="15" width="7.9" height="2.9" fill="#0082ff"/><rect x="175" y="15" width="10.4" height="2.9" fill="#0075ff"/><rect x="185" y="15" width="2.9" height="2.9" fill="#0082ff"/><rect x="187.5" y="15" width="2.9" height="2.9" fill="#00a6ff"/><rect x="190" y="15" width="17.9" height="2.9" fill="#00cbff"/><rect x="207.5" y="15" width="2.9" height="2.9" fill="#00bfff"/><rect x="210" y="15" width="2.9" height="2.9" fill="#00b2ff"/><rect x="212.5" y="15" width="2.9" height="2.9" fill="#008eff"/><rect x="215" y="15" width="2.9" height="2.9" fill="#0075ff"/><rect x="217.5" y="15" width="2.9" height="2.9" fill="#005dff"/><rect x="220" y="15" width="2.9" height="2.9" fill="#0044ff"/><rect x="222.5" y="15" width="7.9" height="2.9" fill="#0038ff"/><rect x="230" y="15" width="5.4" height="2.9" fill="#0044ff"/><rect x="235" y="15" width="2.9" height="2.9" fill="#0051ff"/><rect x="237.5" y="15" width="2.9" height="2.9" fill="#005dff"/><rect x="167.5" y="17.5" width="2.9" height="2.9" fill="#009aff"/><rect x="170" y="17.5" width="15.4" height="2.9" fill="#008eff"/><rect x="185" y="17.5" width="2.9" height="2.9" fill="#00a6ff"/><rect x="187.5" y="17.5" width="20.4" height="2.9" fill="#00d7ff"/><rect x="207.5" y="17.5" width="2.9" height="2.9" fill="#00cbff"/><rect x="210" y="17.5" width="2.9" height="2.9" fill="#00bfff"/><rect x="212.5" y="17.5" width="2.9" height="2.9" fill="#009aff"/><rect x="215" y="17.5" width="2.9" height="2.9" fill="#0075ff"/><rect x="217.5" y="17.5" width="2.9" height="2.9" fill="#0051ff"/><rect x="220" y="17.5" width="2.9" height="2.9" fill="#0038ff"/><rect x="222.5" y="17.5" width="5.4" height="2.9" fill="#002cff"/><rect x="227.5" y="17.5" width="5.4" height="2.9" fill="#0038ff"/><rect x="232.5" y="17.5" width="2.9" height="2.9" fill="#0044ff"/><rect x="235" y="17.5" width="2.9" height="2.9" fill="#0051ff"/><rect x="237.5" y="17.5" width="2.9" height="2.9" fill="#005dff"/><rect x="167.5" y="20" width="15.4" height="2.9" fill="#00a6ff"/><rect x="182.5" y="20" width="2.9" height="2.9" fill="#00b2ff"/><rect x="185" y="20" width="2.9" height="2.9" fill="#00cbff"/><rect x="187.5" y="20" width="12.9" height="2.9" fill="#00d7ff"/><rect x="200" y="20" width="2.9" height="2.9" fill="#00e3ff"/><rect x="202.5" y="20" width="5.4" height="2.9" fill="#00f0ff"/><rect x="207.5" y="20" width="2.9" height="2.9" fill="#00e3ff"/><rect x="210" y="20" width="2.9" height="2.9" fill="#00d7ff"/><rect x="212.5" y="20" width="2.9" height="2.9" fill="#00a6ff"/><rect x="215" y="20" width="2.9" height="2.9" fill="#0075ff"/><rect x="217.5" y="20" width="2.9" height="2.9" fill="#0044ff"/><rect x="220" y="20" width="10.4" height="2.9" fill="#002cff"/><rect x="230" y="20" width="2.9" height="2.9" fill="#0038ff"/><rect x="232.5" y="20" width="2.9" height="2.9" fill="#0044ff"/><rect x="235" y="20" width="2.9" height="2.9" fill="#005dff"/><rect x="237.5" y="20" width="2.9" height="2.9" fill="#0069ff"/><rect x="167.5" y="22.5" width="5.4" height="2.9" fill="#00a6ff"/><rect x="172.5" y="22.5" width="7.9" height="2.9" fill="#00b2ff"/><rect x="180" y="22.5" width="5.4" height="2.9" fill="#00bfff"/><rect x="185" y="22.5" width="2.9" height="2.9" fill="#00cbff"/><rect x="187.5" y="22.5" width="10.4" height="2.9" fill="#00d7ff"/><rect x="197.5" y="22.5" width="2.9" height="2.9" fill="#00e3ff"/><rect x="200" y="22.5" width="2.9" height="2.9" fill="#00f0ff"/><rect x="202.5" y="22.5" width="7.9" height="2.9" fill="#09fff6"/><rect x="210" y="22.5" width="2.9" height="2.9" fill="#00f0ff"/><rect x="212.5" y="22.5" width="2.9" height="2.9" fill="#00cbff"/><rect x="215" y="22.5" width="2.9" height="2.9" fill="#0082ff"/><rect x="217.5" y="22.5" width="2.9" height="2.9" fill="#0044ff"/><rect x="220" y="22.5" width="10.4" height="2.9" fill="#002cff"/><rect x="230" y="22.5" width="2.9" height="2.9" fill="#0038ff"/><rect x="232.5" y="22.5" width="2.9" height="2.9" fill="#005dff"/><rect x="235" y="22.5" width="5.4" height="2.9" fill="#0069ff"/><rect x="167.5" y="25" width="12.9" height="2.9" fill="#00b2ff"/><rect x="180" y="25" width="2.9" height="2.9" fill="#00bfff"/><rect x="182.5" y="25" width="7.9" height="2.9" fill="#00cbff"/><rect x="190" y="25" width="7.9" height="2.9" fill="#00d7ff"/><rect x="197.5" y="25" width="2.9" height="2.9" fill="#00e3ff"/><rect x="200" y="25" width="2.9" height="2.9" fill="#09fff6"/><rect x="202.5" y="25" width="7.9" height="2.9" fill="#22ffdd"/><rect x="210" y="25" width="2.9" height="2.9" fill="#09fff6"/><rect x="212.5" y="25" width="2.9" height="2.9" fill="#00f0ff"/><rect x="215" y="25" width="2.9" height="2.9" fill="#00a6ff"/><rect x="217.5" y="25" width="2.9" height="2.9" fill="#0051ff"/><rect x="220" y="25" width="2.9" height="2.9" fill="#0013ff"/><rect x="222.5" y="25" width="2.9" height="2.9" fill="#0007ff"/><rect x="225" y="25" width="2.9" height="2.9" fill="#0013ff"/><rect x="227.5" y="25" width="2.9" height="2.9" fill="#0020ff"/><rect x="230" y="25" width="2.9" height="2.9" fill="#0051ff"/><rect x="232.5" y="25" width="2.9" height="2.9" fill="#0075ff"/><rect x="235" y="25" width="2.9" height="2.9" fill="#0082ff"/><rect x="237.5" y="25" width="2.9" height="2.9" fill="#0075ff"/><rect x="167.5" y="27.5" width="12.9" height="2.9" fill="#00b2ff"/><rect x="180" y="27.5" width="2.9" height="2.9" fill="#00bfff"/><rect x="182.5" y="27.5" width="12.9" height="2.9" fill="#00cbff"/><rect x="195" y="27.5" width="2.9" height="2.9" fill="#00d7ff"/><rect x="197.5" y="27.5" width="2.9" height="2.9" fill="#00f0ff"/><rect x="200" y="27.5" width="2.9" height="2.9" fill="#15ffea"/><rect x="202.5" y="27.5" width="7.9" height="2.9" fill="#2effd1"/><rect x="210" y="27.5" width="5.4" height="2.9" fill="#22ffdd"/><rect x="215" y="27.5" width="2.9" height="2.9" fill="#00f0ff"/><rect x="217.5" y="27.5" width="2.9" height="2.9" fill="#0075ff"/><rect x="220" y="27.5" width="2.9" height="2.9" fill="#0007ff"/><rect x="222.5" y="27.5" width="5.4" height="2.9" fill="#0000e1"/><rect x="227.5" y="27.5" width="2.9" height="2.9" fill="#0013ff"/><rect x="230" y="27.5" width="2.9" height="2.9" fill="#0075ff"/><rect x="232.5" y="27.5" width="2.9" height="2.9" fill="#008eff"/><rect x="235" y="27.5" width="5.4" height="2.9" fill="#0082ff"/><rect x="167.5" y="30" width="15.4" height="2.9" fill="#00b2ff"/><rect x="182.5" y="30" width="5.4" height="2.9" fill="#00bfff"/><rect x="187.5" y="30" width="2.9" height="2.9" fill="#00cbff"/><rect x="190" y="30" width="7.9" height="2.9" fill="#00d7ff"/><rect x="197.5" y="30" width="2.9" height="2.9" fill="#00e3ff"/><rect x="200" y="30" width="2.9" height="2.9" fill="#15ffea"/><rect x="202.5" y="30" width="7.9" height="2.9" fill="#2effd1"/><rect x="210" y="30" width="2.9" height="2.9" fill="#3affc5"/><rect x="212.5" y="30" width="2.9" height="2.9" fill="#46ffb9"/><rect x="215" y="30" width="2.9" height="2.9" fill="#3affc5"/><rect x="217.5" y="30" width="2.9" height="2.9" fill="#00cbff"/><rect x="220" y="30" width="2.9" height="2.9" fill="#0020ff"/><rect x="222.5" y="30" width="5.4" height="2.9" fill="#0000ee"/><rect x="227.5" y="30" width="2.9" height="2.9" fill="#002cff"/><rect x="230" y="30" width="2.9" height="2.9" fill="#0082ff"/><rect x="232.5" y="30" width="5.4" height="2.9" fill="#008eff"/><rect x="237.5" y="30" width="2.9" height="2.9" fill="#0082ff"/><rect x="167.5" y="32.5" width="12.9" height="2.9" fill="#00b2ff"/><rect x="180" y="32.5" width="5.4" height="2.9" fill="#009aff"/><rect x="185" y="32.5" width="2.9" height="2.9" fill="#00bfff"/><rect x="187.5" y="32.5" width="7.9" height="2.9" fill="#00d7ff"/><rect x="195" y="32.5" width="5.4" height="2.9" fill="#00cbff"/><rect x="200" y="32.5" width="2.9" height="2.9" fill="#00f0ff"/><rect x="202.5" y="32.5" width="2.9" height="2.9" fill="#15ffea"/><rect x="205" y="32.5" width="2.9" height="2.9" fill="#22ffdd"/><rect x="207.5" y="32.5" width="2.9" height="2.9" fill="#2effd1"/><rect x="210" y="32.5" width="2.9" height="2.9" fill="#46ffb9"/><rect x="212.5" y="32.5" width="5.4" height="2.9" fill="#53ffac"/><rect x="217.5" y="32.5" width="2.9" height="2.9" fill="#09fff6"/><rect x="220" y="32.5" width="2.9" height="2.9" fill="#0069ff"/><rect x="222.5" y="32.5" width="5.4" height="2.9" fill="#0020ff"/><rect x="227.5" y="32.5" width="2.9" height="2.9" fill="#0044ff"/><rect x="230" y="32.5" width="2.9" height="2.9" fill="#0069ff"/><rect x="232.5" y="32.5" width="5.4" height="2.9" fill="#0082ff"/><rect x="237.5" y="32.5" width="2.9" height="2.9" fill="#0075ff"/><rect x="167.5" y="35" width="7.9" height="2.9" fill="#00b2ff"/><rect x="175" y="35" width="2.9" height="2.9" fill="#00a6ff"/><rect x="177.5" y="35" width="7.9" height="2.9" fill="#009aff"/><rect x="185" y="35" width="2.9" height="2.9" fill="#00bfff"/><rect x="187.5" y="35" width="7.9" height="2.9" fill="#00d7ff"/><rect x="195" y="35" width="2.9" height="2.9" fill="#00bfff"/><rect x="197.5" y="35" width="5.4" height="2.9" fill="#00a6ff"/><rect x="202.5" y="35" width="2.9" height="2.9" fill="#00cbff"/><rect x="205" y="35" width="2.9" height="2.9" fill="#00f0ff"/><rect x="207.5" y="35" width="2.9" height="2.9" fill="#09fff6"/><rect x="210" y="35" width="2.9" height="2.9" fill="#3affc5"/><rect x="212.5" y="35" width="2.9" height="2.9" fill="#53ffac"/><rect x="215" y="35" width="2.9" height="2.9" fill="#46ffb9"/><rect x="217.5" y="35" width="2.9" height="2.9" fill="#00fcff"/><rect x="220" y="35" width="2.9" height="2.9" fill="#0082ff"/><rect x="222.5" y="35" width="2.9" height="2.9" fill="#0051ff"/><rect x="225" y="35" width="2.9" height="2.9" fill="#0044ff"/><rect x="227.5" y="35" width="5.4" height="2.9" fill="#0038ff"/><rect x="232.5" y="35" width="2.9" height="2.9" fill="#0051ff"/><rect x="235" y="35" width="5.4" height="2.9" fill="#0069ff"/><rect x="167.5" y="37.5" width="5.4" height="2.9" fill="#00b2ff"/><rect x="172.5" y="37.5" width="5.4" height="2.9" fill="#00a6ff"/><rect x="177.5" y="37.5" width="7.9" height="2.9" fill="#009aff"/><rect x="185" y="37.5" width="2.9" height="2.9" fill="#00cbff"/><rect x="187.5" y="37.5" width="2.9" height="2.9" fill="#00e3ff"/><rect x="190" y="37.5" width="5.4" height="2.9" fill="#00d7ff"/><rect x="195" y="37.5" width="2.9" height="2.9" fill="#00b2ff"/><rect x="197.5" y="37.5" width="2.9" height="2.9" fill="#008eff"/><rect x="200" y="37.5" width="2.9" height="2.9" fill="#0082ff"/><rect x="202.5" y="37.5" width="2.9" height="2.9" fill="#008eff"/><rect x="205" y="37.5" width="2.9" height="2.9" fill="#009aff"/><rect x="207.5" y="37.5" width="2.9" height="2.9" fill="#00cbff"/><rect x="210" y="37.5" width="2.9" height="2.9" fill="#00fcff"/><rect x="212.5" y="37.5" width="2.9" height="2.9" fill="#09fff6"/><rect x="215" y="37.5" width="2.9" height="2.9" fill="#00f0ff"/><rect x="217.5" y="37.5" width="2.9" height="2.9" fill="#00a6ff"/><rect x="220" y="37.5" width="2.9" height="2.9" fill="#0069ff"/><rect x="222.5" y="37.5" width="2.9" height="2.9" fill="#0051ff"/><rect x="225" y="37.5" width="2.9" height="2.9" fill="#0044ff"/><rect x="227.5" y="37.5" width="7.9" height="2.9" fill="#0038ff"/><rect x="235" y="37.5" width="2.9" height="2.9" fill="#0051ff"/><rect x="237.5" y="37.5" width="2.9" height="2.9" fill="#005dff"/><rect x="167.5" y="40" width="15.4" height="2.9" fill="#00a6ff"/><rect x="182.5" y="40" width="2.9" height="2.9" fill="#00bfff"/><rect x="185" y="40" width="7.9" height="2.9" fill="#00e3ff"/><rect x="192.5" y="40" width="2.9" height="2.9" fill="#00d7ff"/><rect x="195" y="40" width="2.9" height="2.9" fill="#00a6ff"/><rect x="197.5" y="40" width="7.9" height="2.9" fill="#0082ff"/><rect x="205" y="40" width="2.9" height="2.9" fill="#0069ff"/><rect x="207.5" y="40" width="2.9" height="2.9" fill="#0075ff"/><rect x="210" y="40" width="5.4" height="2.9" fill="#009aff"/><rect x="215" y="40" width="2.9" height="2.9" fill="#008eff"/><rect x="217.5" y="40" width="2.9" height="2.9" fill="#0082ff"/><rect x="220" y="40" width="2.9" height="2.9" fill="#005dff"/><rect x="222.5" y="40" width="5.4" height="2.9" fill="#0051ff"/><rect x="227.5" y="40" width="2.9" height="2.9" fill="#0044ff"/><rect x="230" y="40" width="2.9" height="2.9" fill="#0038ff"/><rect x="232.5" y="40" width="2.9" height="2.9" fill="#0044ff"/><rect x="235" y="40" width="2.9" height="2.9" fill="#0051ff"/><rect x="237.5" y="40" width="2.9" height="2.9" fill="#005dff"/><rect x="167.5" y="42.5" width="12.9" height="2.9" fill="#00a6ff"/><rect x="180" y="42.5" width="2.9" height="2.9" fill="#00b2ff"/><rect x="182.5" y="42.5" width="2.9" height="2.9" fill="#00cbff"/><rect x="185" y="42.5" width="7.9" height="2.9" fill="#00e3ff"/><rect x="192.5" y="42.5" width="2.9" height="2.9" fill="#00d7ff"/><rect x="195" y="42.5" width="2.9" height="2.9" fill="#00cbff"/><rect x="197.5" y="42.5" width="2.9" height="2.9" fill="#009aff"/><rect x="200" y="42.5" width="2.9" height="2.9" fill="#0082ff"/><rect x="202.5" y="42.5" width="2.9" height="2.9" fill="#005dff"/><rect x="205" y="42.5" width="5.4" height="2.9" fill="#0038ff"/><rect x="210" y="42.5" width="2.9" height="2.9" fill="#0069ff"/><rect x="212.5" y="42.5" width="7.9" height="2.9" fill="#0082ff"/><rect x="220" y="42.5" width="2.9" height="2.9" fill="#0069ff"/><rect x="222.5" y="42.5" width="7.9" height="2.9" fill="#0051ff"/><rect x="230" y="42.5" width="2.9" height="2.9" fill="#0044ff"/><rect x="232.5" y="42.5" width="2.9" height="2.9" fill="#0051ff"/><rect x="235" y="42.5" width="2.9" height="2.9" fill="#005dff"/><rect x="237.5" y="42.5" width="2.9" height="2.9" fill="#0069ff"/><rect x="167.5" y="45" width="12.9" height="2.9" fill="#009aff"/><rect x="180" y="45" width="2.9" height="2.9" fill="#00a6ff"/><rect x="182.5" y="45" width="2.9" height="2.9" fill="#00bfff"/><rect x="185" y="45" width="5.4" height="2.9" fill="#00d7ff"/><rect x="190" y="45" width="5.4" height="2.9" fill="#00e3ff"/><rect x="195" y="45" width="2.9" height="2.9" fill="#00f0ff"/><rect x="197.5" y="45" width="2.9" height="2.9" fill="#00e3ff"/><rect x="200" y="45" width="2.9" height="2.9" fill="#008eff"/><rect x="202.5" y="45" width="2.9" height="2.9" fill="#0038ff"/><rect x="205" y="45" width="2.9" height="2.9" fill="#002cff"/><rect x="207.5" y="45" width="2.9" height="2.9" fill="#0038ff"/><rect x="210" y="45" width="2.9" height="2.9" fill="#005dff"/><rect x="212.5" y="45" width="7.9" height="2.9" fill="#0082ff"/><rect x="220" y="45" width="2.9" height="2.9" fill="#0075ff"/><rect x="222.5" y="45" width="2.9" height="2.9" fill="#0069ff"/><rect x="225" y="45" width="7.9" height="2.9" fill="#005dff"/><rect x="232.5" y="45" width="5.4" height="2.9" fill="#0069ff"/><rect x="237.5" y="45" width="2.9" height="2.9" fill="#0082ff"/><rect x="167.5" y="47.5" width="2.9" height="2.9" fill="#008eff"/><rect x="170" y="47.5" width="5.4" height="2.9" fill="#0082ff"/><rect x="175" y="47.5" width="5.4" height="2.9" fill="#0075ff"/><rect x="180" y="47.5" width="2.9" height="2.9" fill="#0082ff"/><rect x="182.5" y="47.5" width="2.9" height="2.9" fill="#009aff"/><rect x="185" y="47.5" width="2.9" height="2.9" fill="#00b2ff"/><rect x="187.5" y="47.5" width="2.9" height="2.9" fill="#00cbff"/><rect x="190" y="47.5" width="2.9" height="2.9" fill="#00d7ff"/><rect x="192.5" y="47.5" width="7.9" height="2.9" fill="#00f0ff"/><rect x="200" y="47.5" width="2.9" height="2.9" fill="#00a6ff"/><rect x="202.5" y="47.5" width="2.9" height="2.9" fill="#0051ff"/><rect x="205" y="47.5" width="5.4" height="2.9" fill="#0038ff"/><rect x="210" y="47.5" width="2.9" height="2.9" fill="#005dff"/><rect x="212.5" y="47.5" width="2.9" height="2.9" fill="#0075ff"/><rect x="215" y="47.5" width="2.9" height="2.9" fill="#0082ff"/><rect x="217.5" y="47.5" width="7.9" height="2.9" fill="#008eff"/><rect x="225" y="47.5" width="7.9" height="2.9" fill="#0082ff"/><rect x="232.5" y="47.5" width="2.9" height="2.9" fill="#008eff"/><rect x="235" y="47.5" width="5.4" height="2.9" fill="#009aff"/><rect x="167.5" y="50" width="2.9" height="2.9" fill="#0082ff"/><rect x="170" y="50" width="2.9" height="2.9" fill="#0075ff"/><rect x="172.5" y="50" width="2.9" height="2.9" fill="#005dff"/><rect x="175" y="50" width="2.9" height="2.9" fill="#0051ff"/><rect x="177.5" y="50" width="5.4" height="2.9" fill="#0044ff"/><rect x="182.5" y="50" width="2.9" height="2.9" fill="#005dff"/><rect x="185" y="50" width="2.9" height="2.9" fill="#0082ff"/><rect x="187.5" y="50" width="2.9" height="2.9" fill="#00b2ff"/><rect x="190" y="50" width="2.9" height="2.9" fill="#00cbff"/><rect x="192.5" y="50" width="7.9" height="2.9" fill="#00e3ff"/><rect x="200" y="50" width="2.9" height="2.9" fill="#00b2ff"/><rect x="202.5" y="50" width="2.9" height="2.9" fill="#0069ff"/><rect x="205" y="50" width="5.4" height="2.9" fill="#0051ff"/><rect x="210" y="50" width="2.9" height="2.9" fill="#0069ff"/><rect x="212.5" y="50" width="2.9" height="2.9" fill="#0082ff"/><rect x="215" y="50" width="12.9" height="2.9" fill="#008eff"/><rect x="227.5" y="50" width="2.9" height="2.9" fill="#009aff"/><rect x="230" y="50" width="2.9" height="2.9" fill="#00b2ff"/><rect x="232.5" y="50" width="2.9" height="2.9" fill="#00bfff"/><rect x="235" y="50" width="5.4" height="2.9" fill="#00cbff"/><rect x="167.5" y="52.5" width="2.9" height="2.9" fill="#0082ff"/><rect x="170" y="52.5" width="2.9" height="2.9" fill="#0069ff"/><rect x="172.5" y="52.5" width="2.9" height="2.9" fill="#0051ff"/><rect x="175" y="52.5" width="2.9" height="2.9" fill="#0038ff"/><rect x="177.5" y="52.5" width="5.4" height="2.9" fill="#002cff"/><rect x="182.5" y="52.5" width="2.9" height="2.9" fill="#0038ff"/><rect x="185" y="52.5" width="2.9" height="2.9" fill="#0051ff"/><rect x="187.5" y="52.5" width="2.9" height="2.9" fill="#008eff"/><rect x="190" y="52.5" width="2.9" height="2.9" fill="#00bfff"/><rect x="192.5" y="52.5" width="2.9" height="2.9" fill="#00cbff"/><rect x="195" y="52.5" width="2.9" height="2.9" fill="#00d7ff"/><rect x="197.5" y="52.5" width="2.9" height="2.9" fill="#00cbff"/><rect x="200" y="52.5" width="2.9" height="2.9" fill="#00a6ff"/><rect x="202.5" y="52.5" width="2.9" height="2.9" fill="#0082ff"/><rect x="205" y="52.5" width="5.4" height="2.9" fill="#0075ff"/><rect x="210" y="52.5" width="2.9" height="2.9" fill="#0082ff"/><rect x="212.5" y="52.5" width="7.9" height="2.9" fill="#008eff"/><rect x="220" y="52.5" width="7.9" height="2.9" fill="#009aff"/><rect x="227.5" y="52.5" width="2.9" height="2.9" fill="#00bfff"/><rect x="230" y="52.5" width="2.9" height="2.9" fill="#00e3ff"/><rect x="232.5" y="52.5" width="7.9" height="2.9" fill="#00f0ff"/><rect x="167.5" y="55" width="2.9" height="2.9" fill="#0082ff"/><rect x="170" y="55" width="2.9" height="2.9" fill="#005dff"/><rect x="172.5" y="55" width="2.9" height="2.9" fill="#0044ff"/><rect x="175" y="55" width="2.9" height="2.9" fill="#002cff"/><rect x="177.5" y="55" width="5.4" height="2.9" fill="#0020ff"/><rect x="182.5" y="55" width="2.9" height="2.9" fill="#002cff"/><rect x="185" y="55" width="2.9" height="2.9" fill="#0038ff"/><rect x="187.5" y="55" width="2.9" height="2.9" fill="#0069ff"/><rect x="190" y="55" width="2.9" height="2.9" fill="#009aff"/><rect x="192.5" y="55" width="7.9" height="2.9" fill="#00bfff"/><rect x="200" y="55" width="2.9" height="2.9" fill="#00a6ff"/><rect x="202.5" y="55" width="2.9" height="2.9" fill="#009aff"/><rect x="205" y="55" width="10.4" height="2.9" fill="#008eff"/><rect x="215" y="55" width="10.4" height="2.9" fill="#009aff"/><rect x="225" y="55" width="2.9" height="2.9" fill="#00b2ff"/><rect x="227.5" y="55" width="2.9" height="2.9" fill="#00f0ff"/><rect x="230" y="55" width="2.9" height="2.9" fill="#09fff6"/><rect x="232.5" y="55" width="5.4" height="2.9" fill="#15ffea"/><rect x="237.5" y="55" width="2.9" height="2.9" fill="#09fff6"/><rect x="167.5" y="57.5" width="2.9" height="2.9" fill="#0082ff"/><rect x="170" y="57.5" width="2.9" height="2.9" fill="#0069ff"/><rect x="172.5" y="57.5" width="2.9" height="2.9" fill="#0051ff"/><rect x="175" y="57.5" width="2.9" height="2.9" fill="#002cff"/><rect x="177.5" y="57.5" width="5.4" height="2.9" fill="#0020ff"/><rect x="182.5" y="57.5" width="2.9" height="2.9" fill="#002cff"/><rect x="185" y="57.5" width="2.9" height="2.9" fill="#0038ff"/><rect x="187.5" y="57.5" width="2.9" height="2.9" fill="#0069ff"/><rect x="190" y="57.5" width="2.9" height="2.9" fill="#008eff"/><rect x="192.5" y="57.5" width="2.9" height="2.9" fill="#00a6ff"/><rect x="195" y="57.5" width="7.9" height="2.9" fill="#00b2ff"/><rect x="202.5" y="57.5" width="2.9" height="2.9" fill="#00a6ff"/><rect x="205" y="57.5" width="7.9" height="2.9" fill="#009aff"/><rect x="212.5" y="57.5" width="10.4" height="2.9" fill="#00a6ff"/><rect x="222.5" y="57.5" width="2.9" height="2.9" fill="#00bfff"/><rect x="225" y="57.5" width="2.9" height="2.9" fill="#00e3ff"/><rect x="227.5" y="57.5" width="2.9" height="2.9" fill="#09fff6"/><rect x="230" y="57.5" width="10.4" height="2.9" fill="#15ffea"/><rect x="167.5" y="60" width="2.9" height="2.9" fill="#009aff"/><rect x="170" y="60" width="2.9" height="2.9" fill="#008eff"/><rect x="172.5" y="60" width="2.9" height="2.9" fill="#0075ff"/><rect x="175" y="60" width="2.9" height="2.9" fill="#0051ff"/><rect x="177.5" y="60" width="2.9" height="2.9" fill="#0038ff"/><rect x="180" y="60" width="2.9" height="2.9" fill="#002cff"/><rect x="182.5" y="60" width="2.9" height="2.9" fill="#0038ff"/><rect x="185" y="60" width="2.9" height="2.9" fill="#0051ff"/><rect x="187.5" y="60" width="2.9" height="2.9" fill="#0069ff"/><rect x="190" y="60" width="2.9" height="2.9" fill="#008eff"/><rect x="192.5" y="60" width="2.9" height="2.9" fill="#00a6ff"/><rect x="195" y="60" width="10.4" height="2.9" fill="#00b2ff"/><rect x="205" y="60" width="5.4" height="2.9" fill="#00a6ff"/><rect x="210" y="60" width="7.9" height="2.9" fill="#00b2ff"/><rect x="217.5" y="60" width="2.9" height="2.9" fill="#00bfff"/><rect x="220" y="60" width="2.9" height="2.9" fill="#00cbff"/><rect x="222.5" y="60" width="2.9" height="2.9" fill="#00e3ff"/><rect x="225" y="60" width="2.9" height="2.9" fill="#00fcff"/><rect x="227.5" y="60" width="12.9" height="2.9" fill="#15ffea"/><rect x="167.5" y="62.5" width="2.9" height="2.9" fill="#00b2ff"/><rect x="170" y="62.5" width="2.9" height="2.9" fill="#00a6ff"/><rect x="172.5" y="62.5" width="2.9" height="2.9" fill="#009aff"/><rect x="175" y="62.5" width="2.9" height="2.9" fill="#008eff"/><rect x="177.5" y="62.5" width="2.9" height="2.9" fill="#0082ff"/><rect x="180" y="62.5" width="7.9" height="2.9" fill="#0069ff"/><rect x="187.5" y="62.5" width="2.9" height="2.9" fill="#0082ff"/><rect x="190" y="62.5" width="2.9" height="2.9" fill="#009aff"/><rect x="192.5" y="62.5" width="2.9" height="2.9" fill="#00a6ff"/><rect x="195" y="62.5" width="5.4" height="2.9" fill="#00b2ff"/><rect x="200" y="62.5" width="15.4" height="2.9" fill="#00bfff"/><rect x="215" y="62.5" width="2.9" height="2.9" fill="#00cbff"/><rect x="217.5" y="62.5" width="2.9" height="2.9" fill="#00d7ff"/><rect x="220" y="62.5" width="2.9" height="2.9" fill="#00e3ff"/><rect x="222.5" y="62.5" width="2.9" height="2.9" fill="#00fcff"/><rect x="225" y="62.5" width="5.4" height="2.9" fill="#15ffea"/><rect x="230" y="62.5" width="10.4" height="2.9" fill="#22ffdd"/><rect x="167.5" y="65" width="2.9" height="2.9" fill="#00bfff"/><rect x="170" y="65" width="10.4" height="2.9" fill="#00b2ff"/><rect x="180" y="65" width="2.9" height="2.9" fill="#00a6ff"/><rect x="182.5" y="65" width="2.9" height="2.9" fill="#009aff"/><rect x="185" y="65" width="2.9" height="2.9" fill="#008eff"/><rect x="187.5" y="65" width="2.9" height="2.9" fill="#009aff"/><rect x="190" y="65" width="2.9" height="2.9" fill="#00a6ff"/><rect x="192.5" y="65" width="2.9" height="2.9" fill="#00b2ff"/><rect x="195" y="65" width="7.9" height="2.9" fill="#00bfff"/><rect x="202.5" y="65" width="10.4" height="2.9" fill="#00cbff"/><rect x="212.5" y="65" width="5.4" height="2.9" fill="#00d7ff"/><rect x="217.5" y="65" width="2.9" height="2.9" fill="#00e3ff"/><rect x="220" y="65" width="2.9" height="2.9" fill="#00fcff"/><rect x="222.5" y="65" width="2.9" height="2.9" fill="#09fff6"/><rect x="225" y="65" width="2.9" height="2.9" fill="#22ffdd"/><rect x="227.5" y="65" width="10.4" height="2.9" fill="#2effd1"/><rect x="237.5" y="65" width="2.9" height="2.9" fill="#22ffdd"/><rect x="167.5" y="67.5" width="5.4" height="2.9" fill="#00bfff"/><rect x="172.5" y="67.5" width="12.9" height="2.9" fill="#00b2ff"/><rect x="185" y="67.5" width="2.9" height="2.9" fill="#00a6ff"/><rect x="187.5" y="67.5" width="5.4" height="2.9" fill="#00b2ff"/><rect x="192.5" y="67.5" width="2.9" height="2.9" fill="#00bfff"/><rect x="195" y="67.5" width="12.9" height="2.9" fill="#00cbff"/><rect x="207.5" y="67.5" width="5.4" height="2.9" fill="#00d7ff"/><rect x="212.5" y="67.5" width="5.4" height="2.9" fill="#00e3ff"/><rect x="217.5" y="67.5" width="2.9" height="2.9" fill="#00fcff"/><rect x="220" y="67.5" width="2.9" height="2.9" fill="#09fff6"/><rect x="222.5" y="67.5" width="2.9" height="2.9" fill="#15ffea"/><rect x="225" y="67.5" width="2.9" height="2.9" fill="#2effd1"/><rect x="227.5" y="67.5" width="10.4" height="2.9" fill="#3affc5"/><rect x="237.5" y="67.5" width="2.9" height="2.9" fill="#2effd1"/><rect x="167.5" y="70" width="7.9" height="2.9" fill="#00cbff"/><rect x="175" y="70" width="10.4" height="2.9" fill="#00b2ff"/><rect x="185" y="70" width="5.4" height="2.9" fill="#00bfff"/><rect x="190" y="70" width="7.9" height="2.9" fill="#00cbff"/><rect x="197.5" y="70" width="15.4" height="2.9" fill="#00d7ff"/><rect x="212.5" y="70" width="2.9" height="2.9" fill="#00e3ff"/><rect x="215" y="70" width="2.9" height="2.9" fill="#00f0ff"/><rect x="217.5" y="70" width="2.9" height="2.9" fill="#00fcff"/><rect x="220" y="70" width="2.9" height="2.9" fill="#15ffea"/><rect x="222.5" y="70" width="2.9" height="2.9" fill="#22ffdd"/><rect x="225" y="70" width="2.9" height="2.9" fill="#2effd1"/><rect x="227.5" y="70" width="12.9" height="2.9" fill="#3affc5"/><rect x="167.5" y="72.5" width="10.4" height="2.9" fill="#00cbff"/><rect x="177.5" y="72.5" width="7.9" height="2.9" fill="#00bfff"/><rect x="185" y="72.5" width="5.4" height="2.9" fill="#00cbff"/><rect x="190" y="72.5" width="22.9" height="2.9" fill="#00d7ff"/><rect x="212.5" y="72.5" width="2.9" height="2.9" fill="#00e3ff"/><rect x="215" y="72.5" width="2.9" height="2.9" fill="#00f0ff"/><rect x="217.5" y="72.5" width="2.9" height="2.9" fill="#00fcff"/><rect x="220" y="72.5" width="2.9" height="2.9" fill="#15ffea"/><rect x="222.5" y="72.5" width="2.9" height="2.9" fill="#22ffdd"/><rect x="225" y="72.5" width="2.9" height="2.9" fill="#2effd1"/><rect x="227.5" y="72.5" width="12.9" height="2.9" fill="#3affc5"/><rect x="167.5" y="75" width="15.4" height="2.9" fill="#00cbff"/><rect x="182.5" y="75" width="5.4" height="2.9" fill="#00d7ff"/><rect x="187.5" y="75" width="10.4" height="2.9" fill="#00e3ff"/><rect x="197.5" y="75" width="10.4" height="2.9" fill="#00d7ff"/><rect x="207.5" y="75" width="7.9" height="2.9" fill="#00cbff"/><rect x="215" y="75" width="2.9" height="2.9" fill="#00d7ff"/><rect x="217.5" y="75" width="2.9" height="2.9" fill="#00f0ff"/><rect x="220" y="75" width="2.9" height="2.9" fill="#09fff6"/><rect x="222.5" y="75" width="2.9" height="2.9" fill="#22ffdd"/><rect x="225" y="75" width="2.9" height="2.9" fill="#2effd1"/><rect x="227.5" y="75" width="12.9" height="2.9" fill="#3affc5"/><rect x="167.5" y="77.5" width="12.9" height="2.9" fill="#00d7ff"/><rect x="180" y="77.5" width="5.4" height="2.9" fill="#00e3ff"/><rect x="185" y="77.5" width="7.9" height="2.9" fill="#00f0ff"/><rect x="192.5" y="77.5" width="5.4" height="2.9" fill="#00e3ff"/><rect x="197.5" y="77.5" width="7.9" height="2.9" fill="#00d7ff"/><rect x="205" y="77.5" width="2.9" height="2.9" fill="#00cbff"/><rect x="207.5" y="77.5" width="2.9" height="2.9" fill="#00bfff"/><rect x="210" y="77.5" width="5.4" height="2.9" fill="#00b2ff"/><rect x="215" y="77.5" width="2.9" height="2.9" fill="#00bfff"/><rect x="217.5" y="77.5" width="2.9" height="2.9" fill="#00d7ff"/><rect x="220" y="77.5" width="2.9" height="2.9" fill="#00fcff"/><rect x="222.5" y="77.5" width="2.9" height="2.9" fill="#22ffdd"/><rect x="225" y="77.5" width="2.9" height="2.9" fill="#2effd1"/><rect x="227.5" y="77.5" width="7.9" height="2.9" fill="#3affc5"/><rect x="235" y="77.5" width="5.4" height="2.9" fill="#46ffb9"/><rect x="162.5" y="80" width="2.9" height="2.9" fill="#00f0ff"/><rect x="165" y="80" width="12.9" height="2.9" fill="#00e3ff"/><rect x="177.5" y="80" width="5.4" height="2.9" fill="#00f0ff"/><rect x="182.5" y="80" width="10.4" height="2.9" fill="#00fcff"/><rect x="192.5" y="80" width="2.9" height="2.9" fill="#00f0ff"/><rect x="195" y="80" width="2.9" height="2.9" fill="#00e3ff"/><rect x="197.5" y="80" width="7.9" height="2.9" fill="#00d7ff"/><rect x="205" y="80" width="2.9" height="2.9" fill="#00cbff"/><rect x="207.5" y="80" width="2.9" height="2.9" fill="#00b2ff"/><rect x="210" y="80" width="2.9" height="2.9" fill="#009aff"/><rect x="212.5" y="80" width="5.4" height="2.9" fill="#008eff"/><rect x="217.5" y="80" width="2.9" height="2.9" fill="#00bfff"/><rect x="220" y="80" width="2.9" height="2.9" fill="#00f0ff"/><rect x="222.5" y="80" width="2.9" height="2.9" fill="#22ffdd"/><rect x="225" y="80" width="5.4" height="2.9" fill="#2effd1"/><rect x="230" y="80" width="5.4" height="2.9" fill="#3affc5"/><rect x="235" y="80" width="2.9" height="2.9" fill="#46ffb9"/><rect x="237.5" y="80" width="2.9" height="2.9" fill="#53ffac"/><rect x="162.5" y="82.5" width="22.9" height="2.9" fill="#00fcff"/><rect x="185" y="82.5" width="7.9" height="2.9" fill="#09fff6"/><rect x="192.5" y="82.5" width="2.9" height="2.9" fill="#00f0ff"/><rect x="195" y="82.5" width="2.9" height="2.9" fill="#00e3ff"/><rect x="197.5" y="82.5" width="7.9" height="2.9" fill="#00d7ff"/><rect x="205" y="82.5" width="2.9" height="2.9" fill="#00cbff"/><rect x="207.5" y="82.5" width="2.9" height="2.9" fill="#00a6ff"/><rect x="210" y="82.5" width="2.9" height="2.9" fill="#0082ff"/><rect x="212.5" y="82.5" width="5.4" height="2.9" fill="#0069ff"/><rect x="217.5" y="82.5" width="2.9" height="2.9" fill="#008eff"/><rect x="220" y="82.5" width="2.9" height="2.9" fill="#00f0ff"/><rect x="222.5" y="82.5" width="5.4" height="2.9" fill="#2effd1"/><rect x="227.5" y="82.5" width="5.4" height="2.9" fill="#22ffdd"/><rect x="232.5" y="82.5" width="2.9" height="2.9" fill="#2effd1"/><rect x="235" y="82.5" width="2.9" height="2.9" fill="#53ffac"/><rect x="237.5" y="82.5" width="2.9" height="2.9" fill="#6bff94"/><rect x="162.5" y="85" width="10.4" height="2.9" fill="#15ffea"/><rect x="172.5" y="85" width="5.4" height="2.9" fill="#09fff6"/><rect x="177.5" y="85" width="7.9" height="2.9" fill="#00fcff"/><rect x="185" y="85" width="2.9" height="2.9" fill="#09fff6"/><rect x="187.5" y="85" width="5.4" height="2.9" fill="#15ffea"/><rect x="192.5" y="85" width="2.9" height="2.9" fill="#00f0ff"/><rect x="195" y="85" width="5.4" height="2.9" fill="#00d7ff"/><rect x="200" y="85" width="7.9" height="2.9" fill="#00e3ff"/><rect x="207.5" y="85" width="2.9" height="2.9" fill="#009aff"/><rect x="210" y="85" width="2.9" height="2.9" fill="#0069ff"/><rect x="212.5" y="85" width="5.4" height="2.9" fill="#0051ff"/><rect x="217.5" y="85" width="2.9" height="2.9" fill="#0082ff"/><rect x="220" y="85" width="2.9" height="2.9" fill="#09fff6"/><rect x="222.5" y="85" width="2.9" height="2.9" fill="#53ffac"/><rect x="225" y="85" width="2.9" height="2.9" fill="#2effd1"/><rect x="227.5" y="85" width="2.9" height="2.9" fill="#09fff6"/><rect x="230" y="85" width="2.9" height="2.9" fill="#00fcff"/><rect x="232.5" y="85" width="2.9" height="2.9" fill="#22ffdd"/><rect x="235" y="85" width="2.9" height="2.9" fill="#53ffac"/><rect x="237.5" y="85" width="2.9" height="2.9" fill="#77ff88"/><rect x="162.5" y="87.5" width="10.4" height="2.9" fill="#2effd1"/><rect x="172.5" y="87.5" width="2.9" height="2.9" fill="#22ffdd"/><rect x="175" y="87.5" width="2.9" height="2.9" fill="#09fff6"/><rect x="177.5" y="87.5" width="7.9" height="2.9" fill="#00fcff"/><rect x="185" y="87.5" width="2.9" height="2.9" fill="#22ffdd"/><rect x="187.5" y="87.5" width="2.9" height="2.9" fill="#3affc5"/><rect x="190" y="87.5" width="2.9" height="2.9" fill="#2effd1"/><rect x="192.5" y="87.5" width="2.9" height="2.9" fill="#00fcff"/><rect x="195" y="87.5" width="2.9" height="2.9" fill="#00d7ff"/><rect x="197.5" y="87.5" width="2.9" height="2.9" fill="#00cbff"/><rect x="200" y="87.5" width="2.9" height="2.9" fill="#00e3ff"/><rect x="202.5" y="87.5" width="5.4" height="2.9" fill="#00f0ff"/><rect x="207.5" y="87.5" width="2.9" height="2.9" fill="#005dff"/><rect x="210" y="87.5" width="2.9" height="2.9" fill="#0044ff"/><rect x="212.5" y="87.5" width="2.9" height="2.9" fill="#005dff"/><rect x="215" y="87.5" width="2.9" height="2.9" fill="#0069ff"/><rect x="217.5" y="87.5" width="2.9" height="2.9" fill="#00e3ff"/><rect x="220" y="87.5" width="2.9" height="2.9" fill="#5fffa0"/><rect x="222.5" y="87.5" width="2.9" height="2.9" fill="#84ff7b"/><rect x="225" y="87.5" width="2.9" height="2.9" fill="#53ffac"/><rect x="227.5" y="87.5" width="5.4" height="2.9" fill="#00f0ff"/><rect x="232.5" y="87.5" width="2.9" height="2.9" fill="#22ffdd"/><rect x="235" y="87.5" width="2.9" height="2.9" fill="#77ff88"/><rect x="237.5" y="87.5" width="2.9" height="2.9" fill="#9cff63"/><rect x="162.5" y="90" width="10.4" height="2.9" fill="#46ffb9"/><rect x="172.5" y="90" width="2.9" height="2.9" fill="#3affc5"/><rect x="175" y="90" width="2.9" height="2.9" fill="#22ffdd"/><rect x="177.5" y="90" width="5.4" height="2.9" fill="#09fff6"/><rect x="182.5" y="90" width="2.9" height="2.9" fill="#22ffdd"/><rect x="185" y="90" width="2.9" height="2.9" fill="#6bff94"/><rect x="187.5" y="90" width="2.9" height="2.9" fill="#84ff7b"/><rect x="190" y="90" width="2.9" height="2.9" fill="#53ffac"/><rect x="192.5" y="90" width="2.9" height="2.9" fill="#00fcff"/><rect x="195" y="90" width="2.9" height="2.9" fill="#00bfff"/><rect x="197.5" y="90" width="2.9" height="2.9" fill="#00a6ff"/><rect x="200" y="90" width="2.9" height="2.9" fill="#00bfff"/><rect x="202.5" y="90" width="2.9" height="2.9" fill="#00d7ff"/><rect x="205" y="90" width="2.9" height="2.9" fill="#00b2ff"/><rect x="207.5" y="90" width="5.4" height="2.9" fill="#0013ff"/><rect x="212.5" y="90" width="2.9" height="2.9" fill="#00e3ff"/><rect x="215" y="90" width="5.4" height="2.9" fill="#c1ff3e"/><rect x="220" y="90" width="5.4" height="2.9" fill="#b5ff4a"/><rect x="225" y="90" width="2.9" height="2.9" fill="#a8ff57"/><rect x="227.5" y="90" width="2.9" height="2.9" fill="#3affc5"/><rect x="230" y="90" width="2.9" height="2.9" fill="#53ffac"/><rect x="232.5" y="90" width="2.9" height="2.9" fill="#a8ff57"/><rect x="235" y="90" width="2.9" height="2.9" fill="#c1ff3e"/><rect x="237.5" y="90" width="2.9" height="2.9" fill="#cdff32"/><rect x="162.5" y="92.5" width="10.4" height="2.9" fill="#5fffa0"/><rect x="172.5" y="92.5" width="5.4" height="2.9" fill="#53ffac"/><rect x="177.5" y="92.5" width="2.9" height="2.9" fill="#46ffb9"/><rect x="180" y="92.5" width="2.9" height="2.9" fill="#5fffa0"/><rect x="182.5" y="92.5" width="2.9" height="2.9" fill="#b5ff4a"/><rect x="185" y="92.5" width="2.9" height="2.9" fill="#d9ff26"/><rect x="187.5" y="92.5" width="2.9" height="2.9" fill="#c1ff3e"/><rect x="190" y="92.5" width="2.9" height="2.9" fill="#77ff88"/><rect x="192.5" y="92.5" width="2.9" height="2.9" fill="#00fcff"/><rect x="195" y="92.5" width="2.9" height="2.9" fill="#009aff"/><rect x="197.5" y="92.5" width="2.9" height="2.9" fill="#0069ff"/><rect x="200" y="92.5" width="5.4" height="2.9" fill="#0051ff"/><rect x="205" y="92.5" width="2.9" height="2.9" fill="#0069ff"/><rect x="207.5" y="92.5" width="2.9" height="2.9" fill="#002cff"/><rect x="210" y="92.5" width="2.9" height="2.9" fill="#0044ff"/><rect x="212.5" y="92.5" width="2.9" height="2.9" fill="#5fffa0"/><rect x="215" y="92.5" width="7.9" height="2.9" fill="#e5ff1a"/><rect x="222.5" y="92.5" width="5.4" height="2.9" fill="#b5ff4a"/><rect x="227.5" y="92.5" width="2.9" height="2.9" fill="#cdff32"/><rect x="230" y="92.5" width="5.4" height="2.9" fill="#feff01"/><rect x="235" y="92.5" width="2.9" height="2.9" fill="#fff400"/><rect x="237.5" y="92.5" width="2.9" height="2.9" fill="#f2ff0d"/><rect x="162.5" y="95" width="10.4" height="2.9" fill="#6bff94"/><rect x="172.5" y="95" width="5.4" height="2.9" fill="#5fffa0"/><rect x="177.5" y="95" width="2.9" height="2.9" fill="#6bff94"/><rect x="180" y="95" width="2.9" height="2.9" fill="#9cff63"/><rect x="182.5" y="95" width="2.9" height="2.9" fill="#d9ff26"/><rect x="185" y="95" width="2.9" height="2.9" fill="#e5ff1a"/><rect x="187.5" y="95" width="2.9" height="2.9" fill="#d9ff26"/><rect x="190" y="95" width="2.9" height="2.9" fill="#90ff6f"/><rect x="192.5" y="95" width="2.9" height="2.9" fill="#00f0ff"/><rect x="195" y="95" width="2.9" height="2.9" fill="#0075ff"/><rect x="197.5" y="95" width="2.9" height="2.9" fill="#0038ff"/><rect x="200" y="95" width="2.9" height="2.9" fill="#002cff"/><rect x="202.5" y="95" width="2.9" height="2.9" fill="#0020ff"/><rect x="205" y="95" width="2.9" height="2.9" fill="#0051ff"/><rect x="207.5" y="95" width="2.9" height="2.9" fill="#00d7ff"/><rect x="210" y="95" width="2.9" height="2.9" fill="#2effd1"/><rect x="212.5" y="95" width="2.9" height="2.9" fill="#77ff88"/><rect x="215" y="95" width="2.9" height="2.9" fill="#d9ff26"/><rect x="217.5" y="95" width="2.9" height="2.9" fill="#ffcf00"/><rect x="220" y="95" width="2.9" height="2.9" fill="#ffb700"/><rect x="222.5" y="95" width="2.9" height="2.9" fill="#f2ff0d"/><rect x="225" y="95" width="2.9" height="2.9" fill="#cdff32"/><rect x="227.5" y="95" width="2.9" height="2.9" fill="#e5ff1a"/><rect x="230" y="95" width="2.9" height="2.9" fill="#fff400"/><rect x="232.5" y="95" width="2.9" height="2.9" fill="#ffc300"/><rect x="235" y="95" width="2.9" height="2.9" fill="#ffdb00"/><rect x="237.5" y="95" width="2.9" height="2.9" fill="#fff400"/><rect x="162.5" y="97.5" width="10.4" height="2.9" fill="#77ff88"/><rect x="172.5" y="97.5" width="2.9" height="2.9" fill="#6bff94"/><rect x="175" y="97.5" width="5.4" height="2.9" fill="#5fffa0"/><rect x="180" y="97.5" width="2.9" height="2.9" fill="#90ff6f"/><rect x="182.5" y="97.5" width="2.9" height="2.9" fill="#d9ff26"/><rect x="185" y="97.5" width="2.9" height="2.9" fill="#e5ff1a"/><rect x="187.5" y="97.5" width="2.9" height="2.9" fill="#d9ff26"/><rect x="190" y="97.5" width="2.9" height="2.9" fill="#84ff7b"/><rect x="192.5" y="97.5" width="2.9" height="2.9" fill="#00bfff"/><rect x="195" y="97.5" width="2.9" height="2.9" fill="#0044ff"/><rect x="197.5" y="97.5" width="5.4" height="2.9" fill="#0020ff"/><rect x="202.5" y="97.5" width="2.9" height="2.9" fill="#002cff"/><rect x="205" y="97.5" width="2.9" height="2.9" fill="#0075ff"/><rect x="207.5" y="97.5" width="2.9" height="2.9" fill="#53ffac"/><rect x="210" y="97.5" width="5.4" height="2.9" fill="#84ff7b"/><rect x="215" y="97.5" width="2.9" height="2.9" fill="#cdff32"/><rect x="217.5" y="97.5" width="2.9" height="2.9" fill="#ffc300"/><rect x="220" y="97.5" width="2.9" height="2.9" fill="#ffb700"/><rect x="222.5" y="97.5" width="2.9" height="2.9" fill="#fff400"/><rect x="225" y="97.5" width="2.9" height="2.9" fill="#e5ff1a"/><rect x="227.5" y="97.5" width="2.9" height="2.9" fill="#f2ff0d"/><rect x="230" y="97.5" width="2.9" height="2.9" fill="#ffdb00"/><rect x="232.5" y="97.5" width="2.9" height="2.9" fill="#ffcf00"/><rect x="235" y="97.5" width="2.9" height="2.9" fill="#ffdb00"/><rect x="237.5" y="97.5" width="2.9" height="2.9" fill="#fff400"/><rect x="162.5" y="100" width="2.9" height="2.9" fill="#77ff88"/><rect x="165" y="100" width="7.9" height="2.9" fill="#84ff7b"/><rect x="172.5" y="100" width="2.9" height="2.9" fill="#6bff94"/><rect x="175" y="100" width="5.4" height="2.9" fill="#5fffa0"/><rect x="180" y="100" width="2.9" height="2.9" fill="#84ff7b"/><rect x="182.5" y="100" width="2.9" height="2.9" fill="#b5ff4a"/><rect x="185" y="100" width="2.9" height="2.9" fill="#cdff32"/><rect x="187.5" y="100" width="2.9" height="2.9" fill="#b5ff4a"/><rect x="190" y="100" width="2.9" height="2.9" fill="#53ffac"/><rect x="192.5" y="100" width="2.9" height="2.9" fill="#00b2ff"/><rect x="195" y="100" width="2.9" height="2.9" fill="#0038ff"/><rect x="197.5" y="100" width="5.4" height="2.9" fill="#0013ff"/><rect x="202.5" y="100" width="2.9" height="2.9" fill="#0051ff"/><rect x="205" y="100" width="2.9" height="2.9" fill="#00bfff"/><rect x="207.5" y="100" width="2.9" height="2.9" fill="#5fffa0"/><rect x="210" y="100" width="5.4" height="2.9" fill="#84ff7b"/><rect x="215" y="100" width="2.9" height="2.9" fill="#b5ff4a"/><rect x="217.5" y="100" width="2.9" height="2.9" fill="#feff01"/><rect x="220" y="100" width="2.9" height="2.9" fill="#fff400"/><rect x="222.5" y="100" width="7.9" height="2.9" fill="#e5ff1a"/><rect x="230" y="100" width="2.9" height="2.9" fill="#feff01"/><rect x="232.5" y="100" width="2.9" height="2.9" fill="#ffe800"/><rect x="235" y="100" width="2.9" height="2.9" fill="#fff400"/><rect x="237.5" y="100" width="2.9" height="2.9" fill="#feff01"/><rect x="162.5" y="102.5" width="2.9" height="2.9" fill="#77ff88"/><rect x="165" y="102.5" width="10.4" height="2.9" fill="#84ff7b"/><rect x="175" y="102.5" width="5.4" height="2.9" fill="#77ff88"/><rect x="180" y="102.5" width="2.9" height="2.9" fill="#90ff6f"/><rect x="182.5" y="102.5" width="2.9" height="2.9" fill="#b5ff4a"/><rect x="185" y="102.5" width="2.9" height="2.9" fill="#c1ff3e"/><rect x="187.5" y="102.5" width="2.9" height="2.9" fill="#9cff63"/><rect x="190" y="102.5" width="2.9" height="2.9" fill="#53ffac"/><rect x="192.5" y="102.5" width="2.9" height="2.9" fill="#00cbff"/><rect x="195" y="102.5" width="2.9" height="2.9" fill="#0075ff"/><rect x="197.5" y="102.5" width="2.9" height="2.9" fill="#0044ff"/><rect x="200" y="102.5" width="2.9" height="2.9" fill="#0069ff"/><rect x="202.5" y="102.5" width="2.9" height="2.9" fill="#00b2ff"/><rect x="205" y="102.5" width="2.9" height="2.9" fill="#00fcff"/><rect x="207.5" y="102.5" width="2.9" height="2.9" fill="#46ffb9"/><rect x="210" y="102.5" width="2.9" height="2.9" fill="#6bff94"/><rect x="212.5" y="102.5" width="2.9" height="2.9" fill="#84ff7b"/><rect x="215" y="102.5" width="2.9" height="2.9" fill="#a8ff57"/><rect x="217.5" y="102.5" width="2.9" height="2.9" fill="#cdff32"/><rect x="220" y="102.5" width="15.4" height="2.9" fill="#d9ff26"/><rect x="235" y="102.5" width="2.9" height="2.9" fill="#e5ff1a"/><rect x="237.5" y="102.5" width="2.9" height="2.9" fill="#d9ff26"/><rect x="162.5" y="105" width="10.4" height="2.9" fill="#84ff7b"/><rect x="172.5" y="105" width="7.9" height="2.9" fill="#90ff6f"/><rect x="180" y="105" width="2.9" height="2.9" fill="#a8ff57"/><rect x="182.5" y="105" width="5.4" height="2.9" fill="#d9ff26"/><rect x="187.5" y="105" width="2.9" height="2.9" fill="#cdff32"/><rect x="190" y="105" width="2.9" height="2.9" fill="#84ff7b"/><rect x="192.5" y="105" width="2.9" height="2.9" fill="#09fff6"/><rect x="195" y="105" width="2.9" height="2.9" fill="#00f0ff"/><rect x="197.5" y="105" width="2.9" height="2.9" fill="#15ffea"/><rect x="200" y="105" width="2.9" height="2.9" fill="#2effd1"/><rect x="202.5" y="105" width="2.9" height="2.9" fill="#22ffdd"/><rect x="205" y="105" width="2.9" height="2.9" fill="#3affc5"/><rect x="207.5" y="105" width="2.9" height="2.9" fill="#46ffb9"/><rect x="210" y="105" width="2.9" height="2.9" fill="#5fffa0"/><rect x="212.5" y="105" width="2.9" height="2.9" fill="#90ff6f"/><rect x="215" y="105" width="2.9" height="2.9" fill="#a8ff57"/><rect x="217.5" y="105" width="2.9" height="2.9" fill="#b5ff4a"/><rect x="220" y="105" width="10.4" height="2.9" fill="#c1ff3e"/><rect x="230" y="105" width="7.9" height="2.9" fill="#b5ff4a"/><rect x="237.5" y="105" width="2.9" height="2.9" fill="#c1ff3e"/><rect x="162.5" y="107.5" width="7.9" height="2.9" fill="#84ff7b"/><rect x="170" y="107.5" width="7.9" height="2.9" fill="#90ff6f"/><rect x="177.5" y="107.5" width="2.9" height="2.9" fill="#9cff63"/><rect x="180" y="107.5" width="2.9" height="2.9" fill="#c1ff3e"/><rect x="182.5" y="107.5" width="7.9" height="2.9" fill="#e5ff1a"/><rect x="190" y="107.5" width="2.9" height="2.9" fill="#a8ff57"/><rect x="192.5" y="107.5" width="2.9" height="2.9" fill="#46ffb9"/><rect x="195" y="107.5" width="2.9" height="2.9" fill="#15ffea"/><rect x="197.5" y="107.5" width="5.4" height="2.9" fill="#2effd1"/><rect x="202.5" y="107.5" width="2.9" height="2.9" fill="#3affc5"/><rect x="205" y="107.5" width="5.4" height="2.9" fill="#46ffb9"/><rect x="210" y="107.5" width="2.9" height="2.9" fill="#6bff94"/><rect x="212.5" y="107.5" width="2.9" height="2.9" fill="#a8ff57"/><rect x="215" y="107.5" width="7.9" height="2.9" fill="#b5ff4a"/><rect x="222.5" y="107.5" width="5.4" height="2.9" fill="#c1ff3e"/><rect x="227.5" y="107.5" width="2.9" height="2.9" fill="#b5ff4a"/><rect x="230" y="107.5" width="7.9" height="2.9" fill="#a8ff57"/><rect x="237.5" y="107.5" width="2.9" height="2.9" fill="#b5ff4a"/><rect x="162.5" y="110" width="5.4" height="2.9" fill="#84ff7b"/><rect x="167.5" y="110" width="10.4" height="2.9" fill="#90ff6f"/><rect x="177.5" y="110" width="2.9" height="2.9" fill="#9cff63"/><rect x="180" y="110" width="2.9" height="2.9" fill="#cdff32"/><rect x="182.5" y="110" width="7.9" height="2.9" fill="#e5ff1a"/><rect x="190" y="110" width="2.9" height="2.9" fill="#b5ff4a"/><rect x="192.5" y="110" width="2.9" height="2.9" fill="#5fffa0"/><rect x="195" y="110" width="7.9" height="2.9" fill="#2effd1"/><rect x="202.5" y="110" width="5.4" height="2.9" fill="#46ffb9"/><rect x="207.5" y="110" width="2.9" height="2.9" fill="#53ffac"/><rect x="210" y="110" width="2.9" height="2.9" fill="#6bff94"/><rect x="212.5" y="110" width="2.9" height="2.9" fill="#a8ff57"/><rect x="215" y="110" width="15.4" height="2.9" fill="#b5ff4a"/><rect x="230" y="110" width="10.4" height="2.9" fill="#a8ff57"/><rect x="162.5" y="112.5" width="5.4" height="2.9" fill="#84ff7b"/><rect x="167.5" y="112.5" width="10.4" height="2.9" fill="#90ff6f"/><rect x="177.5" y="112.5" width="2.9" height="2.9" fill="#9cff63"/><rect x="180" y="112.5" width="2.9" height="2.9" fill="#c1ff3e"/><rect x="182.5" y="112.5" width="5.4" height="2.9" fill="#d9ff26"/><rect x="187.5" y="112.5" width="2.9" height="2.9" fill="#cdff32"/><rect x="190" y="112.5" width="2.9" height="2.9" fill="#a8ff57"/><rect x="192.5" y="112.5" width="2.9" height="2.9" fill="#6bff94"/><rect x="195" y="112.5" width="2.9" height="2.9" fill="#3affc5"/><rect x="197.5" y="112.5" width="2.9" height="2.9" fill="#2effd1"/><rect x="200" y="112.5" width="2.9" height="2.9" fill="#3affc5"/><rect x="202.5" y="112.5" width="5.4" height="2.9" fill="#46ffb9"/><rect x="207.5" y="112.5" width="2.9" height="2.9" fill="#53ffac"/><rect x="210" y="112.5" width="2.9" height="2.9" fill="#77ff88"/><rect x="212.5" y="112.5" width="2.9" height="2.9" fill="#9cff63"/><rect x="215" y="112.5" width="2.9" height="2.9" fill="#a8ff57"/><rect x="217.5" y="112.5" width="12.9" height="2.9" fill="#b5ff4a"/><rect x="230" y="112.5" width="10.4" height="2.9" fill="#a8ff57"/><rect x="162.5" y="115" width="7.9" height="2.9" fill="#84ff7b"/><rect x="170" y="115" width="7.9" height="2.9" fill="#90ff6f"/><rect x="177.5" y="115" width="2.9" height="2.9" fill="#9cff63"/><rect x="180" y="115" width="2.9" height="2.9" fill="#b5ff4a"/><rect x="182.5" y="115" width="5.4" height="2.9" fill="#c1ff3e"/><rect x="187.5" y="115" width="2.9" height="2.9" fill="#b5ff4a"/><rect x="190" y="115" width="2.9" height="2.9" fill="#90ff6f"/><rect x="192.5" y="115" width="2.9" height="2.9" fill="#6bff94"/><rect x="195" y="115" width="2.9" height="2.9" fill="#46ffb9"/><rect x="197.5" y="115" width="5.4" height="2.9" fill="#3affc5"/><rect x="202.5" y="115" width="5.4" height="2.9" fill="#46ffb9"/><rect x="207.5" y="115" width="2.9" height="2.9" fill="#53ffac"/><rect x="210" y="115" width="2.9" height="2.9" fill="#77ff88"/><rect x="212.5" y="115" width="2.9" height="2.9" fill="#90ff6f"/><rect x="215" y="115" width="10.4" height="2.9" fill="#a8ff57"/><rect x="225" y="115" width="2.9" height="2.9" fill="#b5ff4a"/><rect x="227.5" y="115" width="12.9" height="2.9" fill="#a8ff57"/><rect x="162.5" y="117.5" width="2.9" height="2.9" fill="#77ff88"/><rect x="165" y="117.5" width="7.9" height="2.9" fill="#84ff7b"/><rect x="172.5" y="117.5" width="5.4" height="2.9" fill="#90ff6f"/><rect x="177.5" y="117.5" width="2.9" height="2.9" fill="#9cff63"/><rect x="180" y="117.5" width="7.9" height="2.9" fill="#a8ff57"/><rect x="187.5" y="117.5" width="2.9" height="2.9" fill="#9cff63"/><rect x="190" y="117.5" width="2.9" height="2.9" fill="#84ff7b"/><rect x="192.5" y="117.5" width="2.9" height="2.9" fill="#5fffa0"/><rect x="195" y="117.5" width="2.9" height="2.9" fill="#46ffb9"/><rect x="197.5" y="117.5" width="5.4" height="2.9" fill="#3affc5"/><rect x="202.5" y="117.5" width="2.9" height="2.9" fill="#46ffb9"/><rect x="205" y="117.5" width="2.9" height="2.9" fill="#53ffac"/><rect x="207.5" y="117.5" width="2.9" height="2.9" fill="#5fffa0"/><rect x="210" y="117.5" width="2.9" height="2.9" fill="#6bff94"/><rect x="212.5" y="117.5" width="2.9" height="2.9" fill="#84ff7b"/><rect x="215" y="117.5" width="2.9" height="2.9" fill="#90ff6f"/><rect x="217.5" y="117.5" width="2.9" height="2.9" fill="#9cff63"/><rect x="220" y="117.5" width="20.4" height="2.9" fill="#a8ff57"/></g></g>
<use href="#st"/><use href="#bl"/>
</g>
<rect x="441.45" y="483.45" width="23.10" height="218.90" fill="url(#jet)" stroke="#1a1a1a" stroke-width="0.9"/>
<path d="M464.50 497.70h-2.6" stroke="#1a1a1a" stroke-width="0.8"/>
<text class="t" x="472.80" y="505.10">10</text>
<path d="M464.50 545.30h-2.6" stroke="#1a1a1a" stroke-width="0.8"/>
<text class="t" x="472.80" y="552.70">5</text>
<path d="M464.50 592.90h-2.6" stroke="#1a1a1a" stroke-width="0.8"/>
<text class="t" x="472.80" y="600.30">0</text>
<path d="M464.50 640.50h-2.6" stroke="#1a1a1a" stroke-width="0.8"/>
<text class="t" x="472.80" y="647.90">-5</text>
<path d="M464.50 688.10h-2.6" stroke="#1a1a1a" stroke-width="0.8"/>
<text class="t" x="472.80" y="695.50">-10</text>
<text class="l" x="145.80" y="502.15">48</text>
<text class="l" x="175.10" y="502.15">N</text>
<text class="d" transform="translate(167.60,489.55) scale(1.28,.92)" y="5.16">°</text>
<text class="l" x="145.80" y="519.95">46</text>
<text class="l" x="175.10" y="519.95">N</text>
<text class="d" transform="translate(167.60,507.35) scale(1.28,.92)" y="5.16">°</text>
<text class="l" x="145.80" y="537.05">44</text>
<text class="l" x="175.10" y="537.05">N</text>
<text class="d" transform="translate(167.60,524.45) scale(1.28,.92)" y="5.16">°</text>
<text class="l" x="145.80" y="555.75">42</text>
<text class="l" x="175.10" y="555.75">N</text>
<text class="d" transform="translate(167.60,543.15) scale(1.28,.92)" y="5.16">°</text>
<text class="l" x="145.80" y="571.75">40</text>
<text class="l" x="175.10" y="571.75">N</text>
<text class="d" transform="translate(167.60,559.15) scale(1.28,.92)" y="5.16">°</text>
<text class="l" x="145.80" y="587.25">38</text>
<text class="l" x="175.10" y="587.25">N</text>
<text class="d" transform="translate(167.60,574.65) scale(1.28,.92)" y="5.16">°</text>
<text class="l" x="145.80" y="604.05">36</text>
<text class="l" x="175.10" y="604.05">N</text>
<text class="d" transform="translate(167.60,591.45) scale(1.28,.92)" y="5.16">°</text>
<text class="l" x="145.80" y="617.95">34</text>
<text class="l" x="175.10" y="617.95">N</text>
<text class="d" transform="translate(167.60,605.35) scale(1.28,.92)" y="5.16">°</text>
<text class="l" x="145.80" y="634.95">32</text>
<text class="l" x="175.10" y="634.95">N</text>
<text class="d" transform="translate(167.60,622.35) scale(1.28,.92)" y="5.16">°</text>
<text class="l" x="145.80" y="648.85">30</text>
<text class="l" x="175.10" y="648.85">N</text>
<text class="d" transform="translate(167.60,636.25) scale(1.28,.92)" y="5.16">°</text>
<text class="l" x="145.80" y="661.95">28</text>
<text class="l" x="175.10" y="661.95">N</text>
<text class="d" transform="translate(167.60,649.35) scale(1.28,.92)" y="5.16">°</text>
<text class="l" x="145.80" y="676.85">26</text>
<text class="l" x="175.10" y="676.85">N</text>
<text class="d" transform="translate(167.60,664.25) scale(1.28,.92)" y="5.16">°</text>
<text class="l" x="145.80" y="690.65">24</text>
<text class="l" x="175.10" y="690.65">N</text>
<text class="d" transform="translate(167.60,678.05) scale(1.28,.92)" y="5.16">°</text>
<text class="l" x="145.80" y="704.05">22</text>
<text class="l" x="175.10" y="704.05">N</text>
<text class="d" transform="translate(167.60,691.45) scale(1.28,.92)" y="5.16">°</text>
<text class="l" x="215.30" y="466.60">100</text>
<text class="l" x="252.70" y="466.60">W</text>
<text class="d" transform="translate(244.40,454.70) scale(1.28,.92)" y="5.16">°</text>
<text class="l" x="284.30" y="466.60">90</text>
<text class="l" x="314.10" y="466.60">W</text>
<text class="d" transform="translate(305.00,454.70) scale(1.28,.92)" y="5.16">°</text>
<text class="l" x="347.90" y="466.60">80</text>
<text class="l" x="377.70" y="466.60">W</text>
<text class="d" transform="translate(370.40,454.70) scale(1.28,.92)" y="5.16">°</text>
<text class="l" x="411.30" y="466.60">70</text>
<text class="l" x="440.70" y="466.60">W</text>
<text class="d" transform="translate(432.40,454.70) scale(1.28,.92)" y="5.16">°</text>
<text class="b" x="307.60" y="731.00" font-size="23" text-anchor="middle" textLength="399" lengthAdjust="spacing">SAT-RAP Negative Lifted Index</text>
<rect x="616.30" y="486.20" width="234.20" height="213.30" fill="none" stroke="#262626" stroke-width="1"/>
<g transform="translate(617.00,486.40) scale(1)">
<g mask="url(#m456)"><rect x="150" y="-10" width="100" height="140" fill="#80fc80"/></g>
<use href="#st"/><use href="#bl"/>
</g>
<rect x="862.45" y="483.45" width="23.00" height="218.90" fill="url(#jet)" stroke="#1a1a1a" stroke-width="0.9"/>
<path d="M885.40 521.30h-2.6" stroke="#1a1a1a" stroke-width="0.8"/>
<text class="t" x="893.70" y="528.70">500</text>
<path d="M885.40 592.90h-2.6" stroke="#1a1a1a" stroke-width="0.8"/>
<text class="t" x="893.70" y="600.30">0</text>
<path d="M885.40 664.50h-2.6" stroke="#1a1a1a" stroke-width="0.8"/>
<text class="t" x="893.70" y="671.90">-500</text>
<text class="l" x="566.40" y="502.15">48</text>
<text class="l" x="595.70" y="502.15">N</text>
<text class="d" transform="translate(588.20,489.55) scale(1.28,.92)" y="5.16">°</text>
<text class="l" x="566.40" y="519.95">46</text>
<text class="l" x="595.70" y="519.95">N</text>
<text class="d" transform="translate(588.20,507.35) scale(1.28,.92)" y="5.16">°</text>
<text class="l" x="566.40" y="537.05">44</text>
<text class="l" x="595.70" y="537.05">N</text>
<text class="d" transform="translate(588.20,524.45) scale(1.28,.92)" y="5.16">°</text>
<text class="l" x="566.40" y="555.75">42</text>
<text class="l" x="595.70" y="555.75">N</text>
<text class="d" transform="translate(588.20,543.15) scale(1.28,.92)" y="5.16">°</text>
<text class="l" x="566.40" y="571.75">40</text>
<text class="l" x="595.70" y="571.75">N</text>
<text class="d" transform="translate(588.20,559.15) scale(1.28,.92)" y="5.16">°</text>
<text class="l" x="566.40" y="587.25">38</text>
<text class="l" x="595.70" y="587.25">N</text>
<text class="d" transform="translate(588.20,574.65) scale(1.28,.92)" y="5.16">°</text>
<text class="l" x="566.40" y="604.05">36</text>
<text class="l" x="595.70" y="604.05">N</text>
<text class="d" transform="translate(588.20,591.45) scale(1.28,.92)" y="5.16">°</text>
<text class="l" x="566.40" y="617.95">34</text>
<text class="l" x="595.70" y="617.95">N</text>
<text class="d" transform="translate(588.20,605.35) scale(1.28,.92)" y="5.16">°</text>
<text class="l" x="566.40" y="634.95">32</text>
<text class="l" x="595.70" y="634.95">N</text>
<text class="d" transform="translate(588.20,622.35) scale(1.28,.92)" y="5.16">°</text>
<text class="l" x="566.40" y="648.85">30</text>
<text class="l" x="595.70" y="648.85">N</text>
<text class="d" transform="translate(588.20,636.25) scale(1.28,.92)" y="5.16">°</text>
<text class="l" x="566.40" y="661.95">28</text>
<text class="l" x="595.70" y="661.95">N</text>
<text class="d" transform="translate(588.20,649.35) scale(1.28,.92)" y="5.16">°</text>
<text class="l" x="566.40" y="676.85">26</text>
<text class="l" x="595.70" y="676.85">N</text>
<text class="d" transform="translate(588.20,664.25) scale(1.28,.92)" y="5.16">°</text>
<text class="l" x="566.40" y="690.65">24</text>
<text class="l" x="595.70" y="690.65">N</text>
<text class="d" transform="translate(588.20,678.05) scale(1.28,.92)" y="5.16">°</text>
<text class="l" x="566.40" y="704.05">22</text>
<text class="l" x="595.70" y="704.05">N</text>
<text class="d" transform="translate(588.20,691.45) scale(1.28,.92)" y="5.16">°</text>
<text class="l" x="635.90" y="466.60">100</text>
<text class="l" x="673.30" y="466.60">W</text>
<text class="d" transform="translate(665.00,454.70) scale(1.28,.92)" y="5.16">°</text>
<text class="l" x="704.90" y="466.60">90</text>
<text class="l" x="734.70" y="466.60">W</text>
<text class="d" transform="translate(725.60,454.70) scale(1.28,.92)" y="5.16">°</text>
<text class="l" x="768.50" y="466.60">80</text>
<text class="l" x="798.30" y="466.60">W</text>
<text class="d" transform="translate(791.00,454.70) scale(1.28,.92)" y="5.16">°</text>
<text class="l" x="831.90" y="466.60">70</text>
<text class="l" x="861.30" y="466.60">W</text>
<text class="d" transform="translate(853.00,454.70) scale(1.28,.92)" y="5.16">°</text>
<text class="b" x="728.30" y="731.00" font-size="23" text-anchor="middle" textLength="186.6" lengthAdjust="spacing">SAT-RAP CAPE</text>
<rect x="1037.35" y="485.30" width="235.10" height="215.05" fill="none" stroke="#262626" stroke-width="1"/>
<g transform="translate(1038.05,485.50) scale(1.0058)">
<g mask="url(#m456)"><g filter="url(#bl1)"><rect x="167.5" y="0" width="2.9" height="2.9" fill="#0020ff"/><rect x="170" y="0" width="2.9" height="2.9" fill="#0013ff"/><rect x="172.5" y="0" width="5.4" height="2.9" fill="#0007ff"/><rect x="177.5" y="0" width="5.4" height="2.9" fill="#0000fa"/><rect x="182.5" y="0" width="2.9" height="2.9" fill="#0007ff"/><rect x="185" y="0" width="2.9" height="2.9" fill="#0013ff"/><rect x="187.5" y="0" width="2.9" height="2.9" fill="#0020ff"/><rect x="190" y="0" width="2.9" height="2.9" fill="#0038ff"/><rect x="192.5" y="0" width="2.9" height="2.9" fill="#0044ff"/><rect x="195" y="0" width="2.9" height="2.9" fill="#0051ff"/><rect x="197.5" y="0" width="2.9" height="2.9" fill="#005dff"/><rect x="200" y="0" width="5.4" height="2.9" fill="#0069ff"/><rect x="205" y="0" width="7.9" height="2.9" fill="#0075ff"/><rect x="212.5" y="0" width="22.9" height="2.9" fill="#0082ff"/><rect x="235" y="0" width="5.4" height="2.9" fill="#008eff"/><rect x="167.5" y="2.5" width="2.9" height="2.9" fill="#0020ff"/><rect x="170" y="2.5" width="2.9" height="2.9" fill="#0013ff"/><rect x="172.5" y="2.5" width="2.9" height="2.9" fill="#0007ff"/><rect x="175" y="2.5" width="7.9" height="2.9" fill="#0000fa"/><rect x="182.5" y="2.5" width="2.9" height="2.9" fill="#0007ff"/><rect x="185" y="2.5" width="2.9" height="2.9" fill="#0013ff"/><rect x="187.5" y="2.5" width="2.9" height="2.9" fill="#002cff"/><rect x="190" y="2.5" width="2.9" height="2.9" fill="#0038ff"/><rect x="192.5" y="2.5" width="2.9" height="2.9" fill="#0044ff"/><rect x="195" y="2.5" width="2.9" height="2.9" fill="#0051ff"/><rect x="197.5" y="2.5" width="2.9" height="2.9" fill="#005dff"/><rect x="200" y="2.5" width="5.4" height="2.9" fill="#0069ff"/><rect x="205" y="2.5" width="22.9" height="2.9" fill="#0075ff"/><rect x="227.5" y="2.5" width="10.4" height="2.9" fill="#0082ff"/><rect x="237.5" y="2.5" width="2.9" height="2.9" fill="#008eff"/><rect x="167.5" y="5" width="2.9" height="2.9" fill="#0020ff"/><rect x="170" y="5" width="2.9" height="2.9" fill="#0013ff"/><rect x="172.5" y="5" width="2.9" height="2.9" fill="#0007ff"/><rect x="175" y="5" width="7.9" height="2.9" fill="#0000fa"/><rect x="182.5" y="5" width="2.9" height="2.9" fill="#0007ff"/><rect x="185" y="5" width="2.9" height="2.9" fill="#0020ff"/><rect x="187.5" y="5" width="2.9" height="2.9" fill="#0038ff"/><rect x="190" y="5" width="2.9" height="2.9" fill="#0044ff"/><rect x="192.5" y="5" width="2.9" height="2.9" fill="#0051ff"/><rect x="195" y="5" width="2.9" height="2.9" fill="#005dff"/><rect x="197.5" y="5" width="5.4" height="2.9" fill="#0069ff"/><rect x="202.5" y="5" width="30.4" height="2.9" fill="#0075ff"/><rect x="232.5" y="5" width="7.9" height="2.9" fill="#0082ff"/><rect x="167.5" y="7.5" width="2.9" height="2.9" fill="#002cff"/><rect x="170" y="7.5" width="2.9" height="2.9" fill="#0020ff"/><rect x="172.5" y="7.5" width="2.9" height="2.9" fill="#0013ff"/><rect x="175" y="7.5" width="5.4" height="2.9" fill="#0007ff"/><rect x="180" y="7.5" width="2.9" height="2.9" fill="#0013ff"/><rect x="182.5" y="7.5" width="2.9" height="2.9" fill="#0038ff"/><rect x="185" y="7.5" width="5.4" height="2.9" fill="#0044ff"/><rect x="190" y="7.5" width="2.9" height="2.9" fill="#0051ff"/><rect x="192.5" y="7.5" width="2.9" height="2.9" fill="#005dff"/><rect x="195" y="7.5" width="7.9" height="2.9" fill="#0069ff"/><rect x="202.5" y="7.5" width="20.4" height="2.9" fill="#0075ff"/><rect x="222.5" y="7.5" width="7.9" height="2.9" fill="#0069ff"/><rect x="230" y="7.5" width="7.9" height="2.9" fill="#0075ff"/><rect x="237.5" y="7.5" width="2.9" height="2.9" fill="#0082ff"/><rect x="167.5" y="10" width="2.9" height="2.9" fill="#0038ff"/><rect x="170" y="10" width="7.9" height="2.9" fill="#002cff"/><rect x="177.5" y="10" width="2.9" height="2.9" fill="#0038ff"/><rect x="180" y="10" width="2.9" height="2.9" fill="#0044ff"/><rect x="182.5" y="10" width="7.9" height="2.9" fill="#0051ff"/><rect x="190" y="10" width="7.9" height="2.9" fill="#0069ff"/><rect x="197.5" y="10" width="20.4" height="2.9" fill="#0075ff"/><rect x="217.5" y="10" width="15.4" height="2.9" fill="#0069ff"/><rect x="232.5" y="10" width="7.9" height="2.9" fill="#0075ff"/><rect x="167.5" y="12.5" width="2.9" height="2.9" fill="#0044ff"/><rect x="170" y="12.5" width="7.9" height="2.9" fill="#0038ff"/><rect x="177.5" y="12.5" width="2.9" height="2.9" fill="#0044ff"/><rect x="180" y="12.5" width="7.9" height="2.9" fill="#0051ff"/><rect x="187.5" y="12.5" width="2.9" height="2.9" fill="#0069ff"/><rect x="190" y="12.5" width="25.4" height="2.9" fill="#0075ff"/><rect x="215" y="12.5" width="7.9" height="2.9" fill="#0069ff"/><rect x="222.5" y="12.5" width="7.9" height="2.9" fill="#005dff"/><rect x="230" y="12.5" width="5.4" height="2.9" fill="#0069ff"/><rect x="235" y="12.5" width="5.4" height="2.9" fill="#0075ff"/><rect x="167.5" y="15" width="17.9" height="2.9" fill="#0051ff"/><rect x="185" y="15" width="2.9" height="2.9" fill="#0069ff"/><rect x="187.5" y="15" width="27.9" height="2.9" fill="#0075ff"/><rect x="215" y="15" width="2.9" height="2.9" fill="#0069ff"/><rect x="217.5" y="15" width="15.4" height="2.9" fill="#005dff"/><rect x="232.5" y="15" width="5.4" height="2.9" fill="#0069ff"/><rect x="237.5" y="15" width="2.9" height="2.9" fill="#0075ff"/><rect x="167.5" y="17.5" width="2.9" height="2.9" fill="#0069ff"/><rect x="170" y="17.5" width="15.4" height="2.9" fill="#005dff"/><rect x="185" y="17.5" width="15.4" height="2.9" fill="#0075ff"/><rect x="200" y="17.5" width="7.9" height="2.9" fill="#0082ff"/><rect x="207.5" y="17.5" width="5.4" height="2.9" fill="#0075ff"/><rect x="212.5" y="17.5" width="5.4" height="2.9" fill="#0069ff"/><rect x="217.5" y="17.5" width="17.9" height="2.9" fill="#005dff"/><rect x="235" y="17.5" width="2.9" height="2.9" fill="#0069ff"/><rect x="237.5" y="17.5" width="2.9" height="2.9" fill="#0075ff"/><rect x="167.5" y="20" width="30.4" height="2.9" fill="#0075ff"/><rect x="197.5" y="20" width="10.4" height="2.9" fill="#0082ff"/><rect x="207.5" y="20" width="5.4" height="2.9" fill="#0075ff"/><rect x="212.5" y="20" width="5.4" height="2.9" fill="#0069ff"/><rect x="217.5" y="20" width="17.9" height="2.9" fill="#005dff"/><rect x="235" y="20" width="5.4" height="2.9" fill="#0069ff"/><rect x="167.5" y="22.5" width="10.4" height="2.9" fill="#0082ff"/><rect x="177.5" y="22.5" width="2.9" height="2.9" fill="#008eff"/><rect x="180" y="22.5" width="30.4" height="2.9" fill="#0082ff"/><rect x="210" y="22.5" width="2.9" height="2.9" fill="#0075ff"/><rect x="212.5" y="22.5" width="5.4" height="2.9" fill="#0069ff"/><rect x="217.5" y="22.5" width="7.9" height="2.9" fill="#005dff"/><rect x="225" y="22.5" width="2.9" height="2.9" fill="#0051ff"/><rect x="227.5" y="22.5" width="7.9" height="2.9" fill="#005dff"/><rect x="235" y="22.5" width="5.4" height="2.9" fill="#0069ff"/><rect x="167.5" y="25" width="20.4" height="2.9" fill="#008eff"/><rect x="187.5" y="25" width="22.9" height="2.9" fill="#0082ff"/><rect x="210" y="25" width="5.4" height="2.9" fill="#0075ff"/><rect x="215" y="25" width="2.9" height="2.9" fill="#0069ff"/><rect x="217.5" y="25" width="2.9" height="2.9" fill="#005dff"/><rect x="220" y="25" width="10.4" height="2.9" fill="#0051ff"/><rect x="230" y="25" width="5.4" height="2.9" fill="#005dff"/><rect x="235" y="25" width="5.4" height="2.9" fill="#0069ff"/><rect x="167.5" y="27.5" width="25.4" height="2.9" fill="#008eff"/><rect x="192.5" y="27.5" width="17.9" height="2.9" fill="#0082ff"/><rect x="210" y="27.5" width="5.4" height="2.9" fill="#0075ff"/><rect x="215" y="27.5" width="2.9" height="2.9" fill="#0069ff"/><rect x="217.5" y="27.5" width="2.9" height="2.9" fill="#005dff"/><rect x="220" y="27.5" width="12.9" height="2.9" fill="#0051ff"/><rect x="232.5" y="27.5" width="2.9" height="2.9" fill="#005dff"/><rect x="235" y="27.5" width="2.9" height="2.9" fill="#0069ff"/><rect x="237.5" y="27.5" width="2.9" height="2.9" fill="#0075ff"/><rect x="167.5" y="30" width="10.4" height="2.9" fill="#009aff"/><rect x="177.5" y="30" width="17.9" height="2.9" fill="#008eff"/><rect x="195" y="30" width="15.4" height="2.9" fill="#0082ff"/><rect x="210" y="30" width="7.9" height="2.9" fill="#0075ff"/><rect x="217.5" y="30" width="2.9" height="2.9" fill="#0069ff"/><rect x="220" y="30" width="12.9" height="2.9" fill="#0051ff"/><rect x="232.5" y="30" width="2.9" height="2.9" fill="#005dff"/><rect x="235" y="30" width="2.9" height="2.9" fill="#0069ff"/><rect x="237.5" y="30" width="2.9" height="2.9" fill="#0075ff"/><rect x="167.5" y="32.5" width="15.4" height="2.9" fill="#009aff"/><rect x="182.5" y="32.5" width="15.4" height="2.9" fill="#008eff"/><rect x="197.5" y="32.5" width="10.4" height="2.9" fill="#0082ff"/><rect x="207.5" y="32.5" width="12.9" height="2.9" fill="#0075ff"/><rect x="220" y="32.5" width="2.9" height="2.9" fill="#005dff"/><rect x="222.5" y="32.5" width="7.9" height="2.9" fill="#0051ff"/><rect x="230" y="32.5" width="2.9" height="2.9" fill="#005dff"/><rect x="232.5" y="32.5" width="2.9" height="2.9" fill="#0069ff"/><rect x="235" y="32.5" width="2.9" height="2.9" fill="#0075ff"/><rect x="237.5" y="32.5" width="2.9" height="2.9" fill="#0082ff"/><rect x="167.5" y="35" width="5.4" height="2.9" fill="#00a6ff"/><rect x="172.5" y="35" width="10.4" height="2.9" fill="#009aff"/><rect x="182.5" y="35" width="17.9" height="2.9" fill="#008eff"/><rect x="200" y="35" width="5.4" height="2.9" fill="#0082ff"/><rect x="205" y="35" width="15.4" height="2.9" fill="#0075ff"/><rect x="220" y="35" width="2.9" height="2.9" fill="#0069ff"/><rect x="222.5" y="35" width="7.9" height="2.9" fill="#005dff"/><rect x="230" y="35" width="2.9" height="2.9" fill="#0069ff"/><rect x="232.5" y="35" width="2.9" height="2.9" fill="#0075ff"/><rect x="235" y="35" width="5.4" height="2.9" fill="#0082ff"/><rect x="167.5" y="37.5" width="12.9" height="2.9" fill="#00a6ff"/><rect x="180" y="37.5" width="2.9" height="2.9" fill="#009aff"/><rect x="182.5" y="37.5" width="10.4" height="2.9" fill="#008eff"/><rect x="192.5" y="37.5" width="2.9" height="2.9" fill="#009aff"/><rect x="195" y="37.5" width="5.4" height="2.9" fill="#008eff"/><rect x="200" y="37.5" width="2.9" height="2.9" fill="#0082ff"/><rect x="202.5" y="37.5" width="2.9" height="2.9" fill="#0075ff"/><rect x="205" y="37.5" width="5.4" height="2.9" fill="#0069ff"/><rect x="210" y="37.5" width="15.4" height="2.9" fill="#0075ff"/><rect x="225" y="37.5" width="2.9" height="2.9" fill="#0069ff"/><rect x="227.5" y="37.5" width="5.4" height="2.9" fill="#0075ff"/><rect x="232.5" y="37.5" width="5.4" height="2.9" fill="#0082ff"/><rect x="237.5" y="37.5" width="2.9" height="2.9" fill="#008eff"/><rect x="167.5" y="40" width="10.4" height="2.9" fill="#00b2ff"/><rect x="177.5" y="40" width="2.9" height="2.9" fill="#00bfff"/><rect x="180" y="40" width="2.9" height="2.9" fill="#00b2ff"/><rect x="182.5" y="40" width="2.9" height="2.9" fill="#00a6ff"/><rect x="185" y="40" width="5.4" height="2.9" fill="#008eff"/><rect x="190" y="40" width="7.9" height="2.9" fill="#009aff"/><rect x="197.5" y="40" width="2.9" height="2.9" fill="#008eff"/><rect x="200" y="40" width="2.9" height="2.9" fill="#0075ff"/><rect x="202.5" y="40" width="7.9" height="2.9" fill="#005dff"/><rect x="210" y="40" width="2.9" height="2.9" fill="#0069ff"/><rect x="212.5" y="40" width="15.4" height="2.9" fill="#0075ff"/><rect x="227.5" y="40" width="10.4" height="2.9" fill="#0082ff"/><rect x="237.5" y="40" width="2.9" height="2.9" fill="#008eff"/><rect x="167.5" y="42.5" width="7.9" height="2.9" fill="#00bfff"/><rect x="175" y="42.5" width="2.9" height="2.9" fill="#00cbff"/><rect x="177.5" y="42.5" width="2.9" height="2.9" fill="#00d7ff"/><rect x="180" y="42.5" width="2.9" height="2.9" fill="#00e3ff"/><rect x="182.5" y="42.5" width="5.4" height="2.9" fill="#00f0ff"/><rect x="187.5" y="42.5" width="2.9" height="2.9" fill="#00cbff"/><rect x="190" y="42.5" width="2.9" height="2.9" fill="#00a6ff"/><rect x="192.5" y="42.5" width="5.4" height="2.9" fill="#009aff"/><rect x="197.5" y="42.5" width="2.9" height="2.9" fill="#008eff"/><rect x="200" y="42.5" width="2.9" height="2.9" fill="#0069ff"/><rect x="202.5" y="42.5" width="7.9" height="2.9" fill="#0051ff"/><rect x="210" y="42.5" width="2.9" height="2.9" fill="#005dff"/><rect x="212.5" y="42.5" width="15.4" height="2.9" fill="#0075ff"/><rect x="227.5" y="42.5" width="12.9" height="2.9" fill="#0082ff"/><rect x="167.5" y="45" width="7.9" height="2.9" fill="#00bfff"/><rect x="175" y="45" width="2.9" height="2.9" fill="#00d7ff"/><rect x="177.5" y="45" width="2.9" height="2.9" fill="#00e3ff"/><rect x="180" y="45" width="2.9" height="2.9" fill="#09fff6"/><rect x="182.5" y="45" width="5.4" height="2.9" fill="#15ffea"/><rect x="187.5" y="45" width="2.9" height="2.9" fill="#09fff6"/><rect x="190" y="45" width="2.9" height="2.9" fill="#00b2ff"/><rect x="192.5" y="45" width="5.4" height="2.9" fill="#009aff"/><rect x="197.5" y="45" width="2.9" height="2.9" fill="#008eff"/><rect x="200" y="45" width="2.9" height="2.9" fill="#0069ff"/><rect x="202.5" y="45" width="7.9" height="2.9" fill="#0051ff"/><rect x="210" y="45" width="2.9" height="2.9" fill="#005dff"/><rect x="212.5" y="45" width="2.9" height="2.9" fill="#0069ff"/><rect x="215" y="45" width="10.4" height="2.9" fill="#0075ff"/><rect x="225" y="45" width="2.9" height="2.9" fill="#0082ff"/><rect x="227.5" y="45" width="2.9" height="2.9" fill="#008eff"/><rect x="230" y="45" width="10.4" height="2.9" fill="#0082ff"/><rect x="167.5" y="47.5" width="7.9" height="2.9" fill="#00bfff"/><rect x="175" y="47.5" width="2.9" height="2.9" fill="#00cbff"/><rect x="177.5" y="47.5" width="2.9" height="2.9" fill="#00e3ff"/><rect x="180" y="47.5" width="2.9" height="2.9" fill="#09fff6"/><rect x="182.5" y="47.5" width="5.4" height="2.9" fill="#15ffea"/><rect x="187.5" y="47.5" width="2.9" height="2.9" fill="#09fff6"/><rect x="190" y="47.5" width="2.9" height="2.9" fill="#00cbff"/><rect x="192.5" y="47.5" width="5.4" height="2.9" fill="#009aff"/><rect x="197.5" y="47.5" width="2.9" height="2.9" fill="#008eff"/><rect x="200" y="47.5" width="2.9" height="2.9" fill="#0069ff"/><rect x="202.5" y="47.5" width="7.9" height="2.9" fill="#0051ff"/><rect x="210" y="47.5" width="2.9" height="2.9" fill="#005dff"/><rect x="212.5" y="47.5" width="2.9" height="2.9" fill="#0075ff"/><rect x="215" y="47.5" width="2.9" height="2.9" fill="#0082ff"/><rect x="217.5" y="47.5" width="5.4" height="2.9" fill="#0075ff"/><rect x="222.5" y="47.5" width="2.9" height="2.9" fill="#0082ff"/><rect x="225" y="47.5" width="2.9" height="2.9" fill="#008eff"/><rect x="227.5" y="47.5" width="2.9" height="2.9" fill="#009aff"/><rect x="230" y="47.5" width="2.9" height="2.9" fill="#008eff"/><rect x="232.5" y="47.5" width="5.4" height="2.9" fill="#0082ff"/><rect x="237.5" y="47.5" width="2.9" height="2.9" fill="#009aff"/><rect x="167.5" y="50" width="2.9" height="2.9" fill="#00bfff"/><rect x="170" y="50" width="5.4" height="2.9" fill="#00b2ff"/><rect x="175" y="50" width="2.9" height="2.9" fill="#00a6ff"/><rect x="177.5" y="50" width="2.9" height="2.9" fill="#00b2ff"/><rect x="180" y="50" width="2.9" height="2.9" fill="#00cbff"/><rect x="182.5" y="50" width="2.9" height="2.9" fill="#00fcff"/><rect x="185" y="50" width="2.9" height="2.9" fill="#09fff6"/><rect x="187.5" y="50" width="2.9" height="2.9" fill="#00fcff"/><rect x="190" y="50" width="2.9" height="2.9" fill="#00d7ff"/><rect x="192.5" y="50" width="2.9" height="2.9" fill="#00b2ff"/><rect x="195" y="50" width="2.9" height="2.9" fill="#009aff"/><rect x="197.5" y="50" width="2.9" height="2.9" fill="#008eff"/><rect x="200" y="50" width="2.9" height="2.9" fill="#0075ff"/><rect x="202.5" y="50" width="7.9" height="2.9" fill="#005dff"/><rect x="210" y="50" width="2.9" height="2.9" fill="#0069ff"/><rect x="212.5" y="50" width="2.9" height="2.9" fill="#0082ff"/><rect x="215" y="50" width="7.9" height="2.9" fill="#008eff"/><rect x="222.5" y="50" width="2.9" height="2.9" fill="#009aff"/><rect x="225" y="50" width="2.9" height="2.9" fill="#00bfff"/><rect x="227.5" y="50" width="5.4" height="2.9" fill="#00d7ff"/><rect x="232.5" y="50" width="7.9" height="2.9" fill="#00cbff"/><rect x="167.5" y="52.5" width="2.9" height="2.9" fill="#00bfff"/><rect x="170" y="52.5" width="2.9" height="2.9" fill="#00b2ff"/><rect x="172.5" y="52.5" width="2.9" height="2.9" fill="#009aff"/><rect x="175" y="52.5" width="7.9" height="2.9" fill="#008eff"/><rect x="182.5" y="52.5" width="2.9" height="2.9" fill="#00a6ff"/><rect x="185" y="52.5" width="2.9" height="2.9" fill="#00cbff"/><rect x="187.5" y="52.5" width="2.9" height="2.9" fill="#00d7ff"/><rect x="190" y="52.5" width="2.9" height="2.9" fill="#00cbff"/><rect x="192.5" y="52.5" width="2.9" height="2.9" fill="#00bfff"/><rect x="195" y="52.5" width="2.9" height="2.9" fill="#00a6ff"/><rect x="197.5" y="52.5" width="2.9" height="2.9" fill="#009aff"/><rect x="200" y="52.5" width="2.9" height="2.9" fill="#0082ff"/><rect x="202.5" y="52.5" width="2.9" height="2.9" fill="#0075ff"/><rect x="205" y="52.5" width="2.9" height="2.9" fill="#0069ff"/><rect x="207.5" y="52.5" width="2.9" height="2.9" fill="#0075ff"/><rect x="210" y="52.5" width="2.9" height="2.9" fill="#0082ff"/><rect x="212.5" y="52.5" width="2.9" height="2.9" fill="#008eff"/><rect x="215" y="52.5" width="5.4" height="2.9" fill="#00a6ff"/><rect x="220" y="52.5" width="2.9" height="2.9" fill="#00b2ff"/><rect x="222.5" y="52.5" width="2.9" height="2.9" fill="#00cbff"/><rect x="225" y="52.5" width="2.9" height="2.9" fill="#00fcff"/><rect x="227.5" y="52.5" width="2.9" height="2.9" fill="#22ffdd"/><rect x="230" y="52.5" width="5.4" height="2.9" fill="#3affc5"/><rect x="235" y="52.5" width="2.9" height="2.9" fill="#2effd1"/><rect x="237.5" y="52.5" width="2.9" height="2.9" fill="#22ffdd"/><rect x="167.5" y="55" width="2.9" height="2.9" fill="#00bfff"/><rect x="170" y="55" width="2.9" height="2.9" fill="#00a6ff"/><rect x="172.5" y="55" width="2.9" height="2.9" fill="#009aff"/><rect x="175" y="55" width="2.9" height="2.9" fill="#008eff"/><rect x="177.5" y="55" width="7.9" height="2.9" fill="#0082ff"/><rect x="185" y="55" width="2.9" height="2.9" fill="#009aff"/><rect x="187.5" y="55" width="7.9" height="2.9" fill="#00bfff"/><rect x="195" y="55" width="2.9" height="2.9" fill="#00b2ff"/><rect x="197.5" y="55" width="2.9" height="2.9" fill="#00a6ff"/><rect x="200" y="55" width="2.9" height="2.9" fill="#009aff"/><rect x="202.5" y="55" width="5.4" height="2.9" fill="#008eff"/><rect x="207.5" y="55" width="2.9" height="2.9" fill="#009aff"/><rect x="210" y="55" width="2.9" height="2.9" fill="#00a6ff"/><rect x="212.5" y="55" width="2.9" height="2.9" fill="#00b2ff"/><rect x="215" y="55" width="2.9" height="2.9" fill="#00bfff"/><rect x="217.5" y="55" width="2.9" height="2.9" fill="#00d7ff"/><rect x="220" y="55" width="2.9" height="2.9" fill="#00e3ff"/><rect x="222.5" y="55" width="2.9" height="2.9" fill="#00fcff"/><rect x="225" y="55" width="2.9" height="2.9" fill="#22ffdd"/><rect x="227.5" y="55" width="2.9" height="2.9" fill="#3affc5"/><rect x="230" y="55" width="7.9" height="2.9" fill="#46ffb9"/><rect x="237.5" y="55" width="2.9" height="2.9" fill="#3affc5"/><rect x="167.5" y="57.5" width="2.9" height="2.9" fill="#00bfff"/><rect x="170" y="57.5" width="2.9" height="2.9" fill="#00b2ff"/><rect x="172.5" y="57.5" width="2.9" height="2.9" fill="#009aff"/><rect x="175" y="57.5" width="2.9" height="2.9" fill="#008eff"/><rect x="177.5" y="57.5" width="7.9" height="2.9" fill="#0082ff"/><rect x="185" y="57.5" width="2.9" height="2.9" fill="#008eff"/><rect x="187.5" y="57.5" width="2.9" height="2.9" fill="#00a6ff"/><rect x="190" y="57.5" width="2.9" height="2.9" fill="#00bfff"/><rect x="192.5" y="57.5" width="5.4" height="2.9" fill="#00cbff"/><rect x="197.5" y="57.5" width="12.9" height="2.9" fill="#00bfff"/><rect x="210" y="57.5" width="2.9" height="2.9" fill="#00cbff"/><rect x="212.5" y="57.5" width="2.9" height="2.9" fill="#00d7ff"/><rect x="215" y="57.5" width="2.9" height="2.9" fill="#00f0ff"/><rect x="217.5" y="57.5" width="2.9" height="2.9" fill="#00fcff"/><rect x="220" y="57.5" width="2.9" height="2.9" fill="#09fff6"/><rect x="222.5" y="57.5" width="2.9" height="2.9" fill="#22ffdd"/><rect x="225" y="57.5" width="2.9" height="2.9" fill="#2effd1"/><rect x="227.5" y="57.5" width="2.9" height="2.9" fill="#3affc5"/><rect x="230" y="57.5" width="10.4" height="2.9" fill="#46ffb9"/><rect x="167.5" y="60" width="5.4" height="2.9" fill="#00cbff"/><rect x="172.5" y="60" width="2.9" height="2.9" fill="#00b2ff"/><rect x="175" y="60" width="2.9" height="2.9" fill="#00a6ff"/><rect x="177.5" y="60" width="2.9" height="2.9" fill="#008eff"/><rect x="180" y="60" width="2.9" height="2.9" fill="#0082ff"/><rect x="182.5" y="60" width="2.9" height="2.9" fill="#008eff"/><rect x="185" y="60" width="2.9" height="2.9" fill="#009aff"/><rect x="187.5" y="60" width="2.9" height="2.9" fill="#00b2ff"/><rect x="190" y="60" width="2.9" height="2.9" fill="#00bfff"/><rect x="192.5" y="60" width="5.4" height="2.9" fill="#00d7ff"/><rect x="197.5" y="60" width="10.4" height="2.9" fill="#00e3ff"/><rect x="207.5" y="60" width="2.9" height="2.9" fill="#00f0ff"/><rect x="210" y="60" width="2.9" height="2.9" fill="#00fcff"/><rect x="212.5" y="60" width="2.9" height="2.9" fill="#09fff6"/><rect x="215" y="60" width="2.9" height="2.9" fill="#15ffea"/><rect x="217.5" y="60" width="5.4" height="2.9" fill="#22ffdd"/><rect x="222.5" y="60" width="7.9" height="2.9" fill="#2effd1"/><rect x="230" y="60" width="5.4" height="2.9" fill="#3affc5"/><rect x="235" y="60" width="2.9" height="2.9" fill="#46ffb9"/><rect x="237.5" y="60" width="2.9" height="2.9" fill="#3affc5"/><rect x="167.5" y="62.5" width="7.9" height="2.9" fill="#00d7ff"/><rect x="175" y="62.5" width="2.9" height="2.9" fill="#00cbff"/><rect x="177.5" y="62.5" width="2.9" height="2.9" fill="#00bfff"/><rect x="180" y="62.5" width="2.9" height="2.9" fill="#00b2ff"/><rect x="182.5" y="62.5" width="2.9" height="2.9" fill="#00a6ff"/><rect x="185" y="62.5" width="2.9" height="2.9" fill="#00b2ff"/><rect x="187.5" y="62.5" width="2.9" height="2.9" fill="#00bfff"/><rect x="190" y="62.5" width="2.9" height="2.9" fill="#00d7ff"/><rect x="192.5" y="62.5" width="2.9" height="2.9" fill="#00e3ff"/><rect x="195" y="62.5" width="2.9" height="2.9" fill="#00f0ff"/><rect x="197.5" y="62.5" width="2.9" height="2.9" fill="#00fcff"/><rect x="200" y="62.5" width="2.9" height="2.9" fill="#09fff6"/><rect x="202.5" y="62.5" width="5.4" height="2.9" fill="#15ffea"/><rect x="207.5" y="62.5" width="2.9" height="2.9" fill="#22ffdd"/><rect x="210" y="62.5" width="5.4" height="2.9" fill="#2effd1"/><rect x="215" y="62.5" width="10.4" height="2.9" fill="#3affc5"/><rect x="225" y="62.5" width="10.4" height="2.9" fill="#2effd1"/><rect x="235" y="62.5" width="5.4" height="2.9" fill="#3affc5"/><rect x="167.5" y="65" width="12.9" height="2.9" fill="#00e3ff"/><rect x="180" y="65" width="2.9" height="2.9" fill="#00d7ff"/><rect x="182.5" y="65" width="5.4" height="2.9" fill="#00cbff"/><rect x="187.5" y="65" width="2.9" height="2.9" fill="#00d7ff"/><rect x="190" y="65" width="2.9" height="2.9" fill="#00f0ff"/><rect x="192.5" y="65" width="2.9" height="2.9" fill="#00fcff"/><rect x="195" y="65" width="2.9" height="2.9" fill="#15ffea"/><rect x="197.5" y="65" width="2.9" height="2.9" fill="#22ffdd"/><rect x="200" y="65" width="2.9" height="2.9" fill="#2effd1"/><rect x="202.5" y="65" width="2.9" height="2.9" fill="#3affc5"/><rect x="205" y="65" width="2.9" height="2.9" fill="#46ffb9"/><rect x="207.5" y="65" width="5.4" height="2.9" fill="#53ffac"/><rect x="212.5" y="65" width="5.4" height="2.9" fill="#5fffa0"/><rect x="217.5" y="65" width="2.9" height="2.9" fill="#53ffac"/><rect x="220" y="65" width="2.9" height="2.9" fill="#46ffb9"/><rect x="222.5" y="65" width="2.9" height="2.9" fill="#3affc5"/><rect x="225" y="65" width="10.4" height="2.9" fill="#2effd1"/><rect x="235" y="65" width="5.4" height="2.9" fill="#3affc5"/><rect x="167.5" y="67.5" width="20.4" height="2.9" fill="#00e3ff"/><rect x="187.5" y="67.5" width="2.9" height="2.9" fill="#00fcff"/><rect x="190" y="67.5" width="2.9" height="2.9" fill="#09fff6"/><rect x="192.5" y="67.5" width="2.9" height="2.9" fill="#22ffdd"/><rect x="195" y="67.5" width="2.9" height="2.9" fill="#2effd1"/><rect x="197.5" y="67.5" width="2.9" height="2.9" fill="#46ffb9"/><rect x="200" y="67.5" width="2.9" height="2.9" fill="#53ffac"/><rect x="202.5" y="67.5" width="2.9" height="2.9" fill="#5fffa0"/><rect x="205" y="67.5" width="2.9" height="2.9" fill="#6bff94"/><rect x="207.5" y="67.5" width="2.9" height="2.9" fill="#77ff88"/><rect x="210" y="67.5" width="7.9" height="2.9" fill="#84ff7b"/><rect x="217.5" y="67.5" width="2.9" height="2.9" fill="#77ff88"/><rect x="220" y="67.5" width="2.9" height="2.9" fill="#5fffa0"/><rect x="222.5" y="67.5" width="2.9" height="2.9" fill="#53ffac"/><rect x="225" y="67.5" width="2.9" height="2.9" fill="#3affc5"/><rect x="227.5" y="67.5" width="7.9" height="2.9" fill="#2effd1"/><rect x="235" y="67.5" width="2.9" height="2.9" fill="#3affc5"/><rect x="237.5" y="67.5" width="2.9" height="2.9" fill="#46ffb9"/><rect x="167.5" y="70" width="2.9" height="2.9" fill="#00f0ff"/><rect x="170" y="70" width="12.9" height="2.9" fill="#00e3ff"/><rect x="182.5" y="70" width="2.9" height="2.9" fill="#00f0ff"/><rect x="185" y="70" width="2.9" height="2.9" fill="#00fcff"/><rect x="187.5" y="70" width="2.9" height="2.9" fill="#15ffea"/><rect x="190" y="70" width="2.9" height="2.9" fill="#2effd1"/><rect x="192.5" y="70" width="2.9" height="2.9" fill="#3affc5"/><rect x="195" y="70" width="2.9" height="2.9" fill="#53ffac"/><rect x="197.5" y="70" width="2.9" height="2.9" fill="#6bff94"/><rect x="200" y="70" width="2.9" height="2.9" fill="#77ff88"/><rect x="202.5" y="70" width="2.9" height="2.9" fill="#84ff7b"/><rect x="205" y="70" width="2.9" height="2.9" fill="#90ff6f"/><rect x="207.5" y="70" width="5.4" height="2.9" fill="#9cff63"/><rect x="212.5" y="70" width="2.9" height="2.9" fill="#a8ff57"/><rect x="215" y="70" width="5.4" height="2.9" fill="#9cff63"/><rect x="220" y="70" width="2.9" height="2.9" fill="#84ff7b"/><rect x="222.5" y="70" width="2.9" height="2.9" fill="#6bff94"/><rect x="225" y="70" width="2.9" height="2.9" fill="#53ffac"/><rect x="227.5" y="70" width="7.9" height="2.9" fill="#46ffb9"/><rect x="235" y="70" width="2.9" height="2.9" fill="#53ffac"/><rect x="237.5" y="70" width="2.9" height="2.9" fill="#5fffa0"/><rect x="167.5" y="72.5" width="5.4" height="2.9" fill="#00f0ff"/><rect x="172.5" y="72.5" width="7.9" height="2.9" fill="#00e3ff"/><rect x="180" y="72.5" width="2.9" height="2.9" fill="#00f0ff"/><rect x="182.5" y="72.5" width="2.9" height="2.9" fill="#00fcff"/><rect x="185" y="72.5" width="2.9" height="2.9" fill="#15ffea"/><rect x="187.5" y="72.5" width="2.9" height="2.9" fill="#2effd1"/><rect x="190" y="72.5" width="2.9" height="2.9" fill="#46ffb9"/><rect x="192.5" y="72.5" width="2.9" height="2.9" fill="#5fffa0"/><rect x="195" y="72.5" width="2.9" height="2.9" fill="#6bff94"/><rect x="197.5" y="72.5" width="2.9" height="2.9" fill="#84ff7b"/><rect x="200" y="72.5" width="2.9" height="2.9" fill="#90ff6f"/><rect x="202.5" y="72.5" width="2.9" height="2.9" fill="#9cff63"/><rect x="205" y="72.5" width="2.9" height="2.9" fill="#a8ff57"/><rect x="207.5" y="72.5" width="5.4" height="2.9" fill="#b5ff4a"/><rect x="212.5" y="72.5" width="5.4" height="2.9" fill="#c1ff3e"/><rect x="217.5" y="72.5" width="5.4" height="2.9" fill="#b5ff4a"/><rect x="222.5" y="72.5" width="2.9" height="2.9" fill="#9cff63"/><rect x="225" y="72.5" width="2.9" height="2.9" fill="#84ff7b"/><rect x="227.5" y="72.5" width="2.9" height="2.9" fill="#77ff88"/><rect x="230" y="72.5" width="5.4" height="2.9" fill="#6bff94"/><rect x="235" y="72.5" width="2.9" height="2.9" fill="#77ff88"/><rect x="237.5" y="72.5" width="2.9" height="2.9" fill="#84ff7b"/><rect x="167.5" y="75" width="2.9" height="2.9" fill="#09fff6"/><rect x="170" y="75" width="2.9" height="2.9" fill="#00fcff"/><rect x="172.5" y="75" width="5.4" height="2.9" fill="#00f0ff"/><rect x="177.5" y="75" width="2.9" height="2.9" fill="#00fcff"/><rect x="180" y="75" width="2.9" height="2.9" fill="#09fff6"/><rect x="182.5" y="75" width="2.9" height="2.9" fill="#15ffea"/><rect x="185" y="75" width="2.9" height="2.9" fill="#2effd1"/><rect x="187.5" y="75" width="2.9" height="2.9" fill="#46ffb9"/><rect x="190" y="75" width="2.9" height="2.9" fill="#5fffa0"/><rect x="192.5" y="75" width="2.9" height="2.9" fill="#77ff88"/><rect x="195" y="75" width="2.9" height="2.9" fill="#84ff7b"/><rect x="197.5" y="75" width="2.9" height="2.9" fill="#9cff63"/><rect x="200" y="75" width="2.9" height="2.9" fill="#a8ff57"/><rect x="202.5" y="75" width="2.9" height="2.9" fill="#b5ff4a"/><rect x="205" y="75" width="5.4" height="2.9" fill="#c1ff3e"/><rect x="210" y="75" width="15.4" height="2.9" fill="#cdff32"/><rect x="225" y="75" width="2.9" height="2.9" fill="#c1ff3e"/><rect x="227.5" y="75" width="12.9" height="2.9" fill="#a8ff57"/><rect x="167.5" y="77.5" width="2.9" height="2.9" fill="#22ffdd"/><rect x="170" y="77.5" width="10.4" height="2.9" fill="#15ffea"/><rect x="180" y="77.5" width="2.9" height="2.9" fill="#22ffdd"/><rect x="182.5" y="77.5" width="2.9" height="2.9" fill="#3affc5"/><rect x="185" y="77.5" width="2.9" height="2.9" fill="#46ffb9"/><rect x="187.5" y="77.5" width="2.9" height="2.9" fill="#5fffa0"/><rect x="190" y="77.5" width="2.9" height="2.9" fill="#6bff94"/><rect x="192.5" y="77.5" width="2.9" height="2.9" fill="#84ff7b"/><rect x="195" y="77.5" width="2.9" height="2.9" fill="#90ff6f"/><rect x="197.5" y="77.5" width="2.9" height="2.9" fill="#a8ff57"/><rect x="200" y="77.5" width="2.9" height="2.9" fill="#b5ff4a"/><rect x="202.5" y="77.5" width="5.4" height="2.9" fill="#c1ff3e"/><rect x="207.5" y="77.5" width="7.9" height="2.9" fill="#cdff32"/><rect x="215" y="77.5" width="5.4" height="2.9" fill="#d9ff26"/><rect x="220" y="77.5" width="5.4" height="2.9" fill="#e5ff1a"/><rect x="225" y="77.5" width="2.9" height="2.9" fill="#d9ff26"/><rect x="227.5" y="77.5" width="2.9" height="2.9" fill="#cdff32"/><rect x="230" y="77.5" width="5.4" height="2.9" fill="#c1ff3e"/><rect x="235" y="77.5" width="5.4" height="2.9" fill="#cdff32"/><rect x="162.5" y="80" width="5.4" height="2.9" fill="#46ffb9"/><rect x="167.5" y="80" width="5.4" height="2.9" fill="#3affc5"/><rect x="172.5" y="80" width="2.9" height="2.9" fill="#2effd1"/><rect x="175" y="80" width="7.9" height="2.9" fill="#3affc5"/><rect x="182.5" y="80" width="2.9" height="2.9" fill="#46ffb9"/><rect x="185" y="80" width="2.9" height="2.9" fill="#53ffac"/><rect x="187.5" y="80" width="2.9" height="2.9" fill="#5fffa0"/><rect x="190" y="80" width="2.9" height="2.9" fill="#77ff88"/><rect x="192.5" y="80" width="2.9" height="2.9" fill="#90ff6f"/><rect x="195" y="80" width="2.9" height="2.9" fill="#9cff63"/><rect x="197.5" y="80" width="2.9" height="2.9" fill="#a8ff57"/><rect x="200" y="80" width="2.9" height="2.9" fill="#b5ff4a"/><rect x="202.5" y="80" width="5.4" height="2.9" fill="#c1ff3e"/><rect x="207.5" y="80" width="2.9" height="2.9" fill="#cdff32"/><rect x="210" y="80" width="5.4" height="2.9" fill="#c1ff3e"/><rect x="215" y="80" width="2.9" height="2.9" fill="#cdff32"/><rect x="217.5" y="80" width="2.9" height="2.9" fill="#d9ff26"/><rect x="220" y="80" width="5.4" height="2.9" fill="#f2ff0d"/><rect x="225" y="80" width="2.9" height="2.9" fill="#d9ff26"/><rect x="227.5" y="80" width="2.9" height="2.9" fill="#cdff32"/><rect x="230" y="80" width="5.4" height="2.9" fill="#c1ff3e"/><rect x="235" y="80" width="2.9" height="2.9" fill="#d9ff26"/><rect x="237.5" y="80" width="2.9" height="2.9" fill="#e5ff1a"/><rect x="162.5" y="82.5" width="5.4" height="2.9" fill="#5fffa0"/><rect x="167.5" y="82.5" width="5.4" height="2.9" fill="#53ffac"/><rect x="172.5" y="82.5" width="5.4" height="2.9" fill="#46ffb9"/><rect x="177.5" y="82.5" width="5.4" height="2.9" fill="#3affc5"/><rect x="182.5" y="82.5" width="2.9" height="2.9" fill="#46ffb9"/><rect x="185" y="82.5" width="2.9" height="2.9" fill="#53ffac"/><rect x="187.5" y="82.5" width="2.9" height="2.9" fill="#6bff94"/><rect x="190" y="82.5" width="2.9" height="2.9" fill="#84ff7b"/><rect x="192.5" y="82.5" width="2.9" height="2.9" fill="#90ff6f"/><rect x="195" y="82.5" width="2.9" height="2.9" fill="#9cff63"/><rect x="197.5" y="82.5" width="2.9" height="2.9" fill="#a8ff57"/><rect x="200" y="82.5" width="2.9" height="2.9" fill="#b5ff4a"/><rect x="202.5" y="82.5" width="10.4" height="2.9" fill="#c1ff3e"/><rect x="212.5" y="82.5" width="5.4" height="2.9" fill="#b5ff4a"/><rect x="217.5" y="82.5" width="2.9" height="2.9" fill="#cdff32"/><rect x="220" y="82.5" width="5.4" height="2.9" fill="#feff01"/><rect x="225" y="82.5" width="2.9" height="2.9" fill="#d9ff26"/><rect x="227.5" y="82.5" width="2.9" height="2.9" fill="#a8ff57"/><rect x="230" y="82.5" width="2.9" height="2.9" fill="#9cff63"/><rect x="232.5" y="82.5" width="2.9" height="2.9" fill="#b5ff4a"/><rect x="235" y="82.5" width="2.9" height="2.9" fill="#cdff32"/><rect x="237.5" y="82.5" width="2.9" height="2.9" fill="#f2ff0d"/><rect x="162.5" y="85" width="2.9" height="2.9" fill="#77ff88"/><rect x="165" y="85" width="5.4" height="2.9" fill="#6bff94"/><rect x="170" y="85" width="2.9" height="2.9" fill="#5fffa0"/><rect x="172.5" y="85" width="2.9" height="2.9" fill="#53ffac"/><rect x="175" y="85" width="2.9" height="2.9" fill="#46ffb9"/><rect x="177.5" y="85" width="2.9" height="2.9" fill="#3affc5"/><rect x="180" y="85" width="2.9" height="2.9" fill="#2effd1"/><rect x="182.5" y="85" width="2.9" height="2.9" fill="#3affc5"/><rect x="185" y="85" width="2.9" height="2.9" fill="#46ffb9"/><rect x="187.5" y="85" width="2.9" height="2.9" fill="#5fffa0"/><rect x="190" y="85" width="2.9" height="2.9" fill="#84ff7b"/><rect x="192.5" y="85" width="2.9" height="2.9" fill="#90ff6f"/><rect x="195" y="85" width="2.9" height="2.9" fill="#9cff63"/><rect x="197.5" y="85" width="5.4" height="2.9" fill="#a8ff57"/><rect x="202.5" y="85" width="2.9" height="2.9" fill="#b5ff4a"/><rect x="205" y="85" width="5.4" height="2.9" fill="#c1ff3e"/><rect x="210" y="85" width="2.9" height="2.9" fill="#b5ff4a"/><rect x="212.5" y="85" width="5.4" height="2.9" fill="#a8ff57"/><rect x="217.5" y="85" width="2.9" height="2.9" fill="#d9ff26"/><rect x="220" y="85" width="5.4" height="2.9" fill="#ffe800"/><rect x="225" y="85" width="2.9" height="2.9" fill="#cdff32"/><rect x="227.5" y="85" width="2.9" height="2.9" fill="#84ff7b"/><rect x="230" y="85" width="2.9" height="2.9" fill="#77ff88"/><rect x="232.5" y="85" width="2.9" height="2.9" fill="#9cff63"/><rect x="235" y="85" width="2.9" height="2.9" fill="#cdff32"/><rect x="237.5" y="85" width="2.9" height="2.9" fill="#feff01"/><rect x="162.5" y="87.5" width="5.4" height="2.9" fill="#84ff7b"/><rect x="167.5" y="87.5" width="2.9" height="2.9" fill="#77ff88"/><rect x="170" y="87.5" width="2.9" height="2.9" fill="#6bff94"/><rect x="172.5" y="87.5" width="2.9" height="2.9" fill="#5fffa0"/><rect x="175" y="87.5" width="2.9" height="2.9" fill="#46ffb9"/><rect x="177.5" y="87.5" width="7.9" height="2.9" fill="#2effd1"/><rect x="185" y="87.5" width="2.9" height="2.9" fill="#46ffb9"/><rect x="187.5" y="87.5" width="2.9" height="2.9" fill="#6bff94"/><rect x="190" y="87.5" width="2.9" height="2.9" fill="#84ff7b"/><rect x="192.5" y="87.5" width="10.4" height="2.9" fill="#9cff63"/><rect x="202.5" y="87.5" width="2.9" height="2.9" fill="#a8ff57"/><rect x="205" y="87.5" width="5.4" height="2.9" fill="#b5ff4a"/><rect x="210" y="87.5" width="2.9" height="2.9" fill="#c1ff3e"/><rect x="212.5" y="87.5" width="5.4" height="2.9" fill="#b5ff4a"/><rect x="217.5" y="87.5" width="2.9" height="2.9" fill="#ffe800"/><rect x="220" y="87.5" width="5.4" height="2.9" fill="#ffc300"/><rect x="225" y="87.5" width="2.9" height="2.9" fill="#e5ff1a"/><rect x="227.5" y="87.5" width="5.4" height="2.9" fill="#6bff94"/><rect x="232.5" y="87.5" width="2.9" height="2.9" fill="#9cff63"/><rect x="235" y="87.5" width="2.9" height="2.9" fill="#f2ff0d"/><rect x="237.5" y="87.5" width="2.9" height="2.9" fill="#ffe800"/><rect x="162.5" y="90" width="7.9" height="2.9" fill="#90ff6f"/><rect x="170" y="90" width="2.9" height="2.9" fill="#84ff7b"/><rect x="172.5" y="90" width="2.9" height="2.9" fill="#6bff94"/><rect x="175" y="90" width="2.9" height="2.9" fill="#53ffac"/><rect x="177.5" y="90" width="2.9" height="2.9" fill="#3affc5"/><rect x="180" y="90" width="2.9" height="2.9" fill="#2effd1"/><rect x="182.5" y="90" width="2.9" height="2.9" fill="#3affc5"/><rect x="185" y="90" width="2.9" height="2.9" fill="#6bff94"/><rect x="187.5" y="90" width="2.9" height="2.9" fill="#90ff6f"/><rect x="190" y="90" width="7.9" height="2.9" fill="#9cff63"/><rect x="197.5" y="90" width="2.9" height="2.9" fill="#90ff6f"/><rect x="200" y="90" width="2.9" height="2.9" fill="#84ff7b"/><rect x="202.5" y="90" width="2.9" height="2.9" fill="#90ff6f"/><rect x="205" y="90" width="2.9" height="2.9" fill="#a8ff57"/><rect x="207.5" y="90" width="2.9" height="2.9" fill="#b5ff4a"/><rect x="210" y="90" width="2.9" height="2.9" fill="#c1ff3e"/><rect x="212.5" y="90" width="2.9" height="2.9" fill="#ffe800"/><rect x="215" y="90" width="2.9" height="2.9" fill="#ffdb00"/><rect x="217.5" y="90" width="2.9" height="2.9" fill="#ffc300"/><rect x="220" y="90" width="5.4" height="2.9" fill="#ffb700"/><rect x="225" y="90" width="2.9" height="2.9" fill="#ff9e00"/><rect x="227.5" y="90" width="2.9" height="2.9" fill="#f2ff0d"/><rect x="230" y="90" width="2.9" height="2.9" fill="#b5ff4a"/><rect x="232.5" y="90" width="2.9" height="2.9" fill="#ffdb00"/><rect x="235" y="90" width="5.4" height="2.9" fill="#ffb700"/><rect x="162.5" y="92.5" width="5.4" height="2.9" fill="#a8ff57"/><rect x="167.5" y="92.5" width="5.4" height="2.9" fill="#9cff63"/><rect x="172.5" y="92.5" width="2.9" height="2.9" fill="#90ff6f"/><rect x="175" y="92.5" width="2.9" height="2.9" fill="#84ff7b"/><rect x="177.5" y="92.5" width="2.9" height="2.9" fill="#6bff94"/><rect x="180" y="92.5" width="2.9" height="2.9" fill="#5fffa0"/><rect x="182.5" y="92.5" width="2.9" height="2.9" fill="#90ff6f"/><rect x="185" y="92.5" width="5.4" height="2.9" fill="#b5ff4a"/><rect x="190" y="92.5" width="2.9" height="2.9" fill="#a8ff57"/><rect x="192.5" y="92.5" width="2.9" height="2.9" fill="#9cff63"/><rect x="195" y="92.5" width="2.9" height="2.9" fill="#90ff6f"/><rect x="197.5" y="92.5" width="7.9" height="2.9" fill="#84ff7b"/><rect x="205" y="92.5" width="2.9" height="2.9" fill="#9cff63"/><rect x="207.5" y="92.5" width="2.9" height="2.9" fill="#b5ff4a"/><rect x="210" y="92.5" width="2.9" height="2.9" fill="#f2ff0d"/><rect x="212.5" y="92.5" width="2.9" height="2.9" fill="#ffc300"/><rect x="215" y="92.5" width="2.9" height="2.9" fill="#ffb700"/><rect x="217.5" y="92.5" width="5.4" height="2.9" fill="#ffaa00"/><rect x="222.5" y="92.5" width="2.9" height="2.9" fill="#ff9e00"/><rect x="225" y="92.5" width="2.9" height="2.9" fill="#ff8600"/><rect x="227.5" y="92.5" width="2.9" height="2.9" fill="#ff9200"/><rect x="230" y="92.5" width="2.9" height="2.9" fill="#ff7900"/><rect x="232.5" y="92.5" width="2.9" height="2.9" fill="#ff6100"/><rect x="235" y="92.5" width="2.9" height="2.9" fill="#ff7900"/><rect x="237.5" y="92.5" width="2.9" height="2.9" fill="#ff9200"/><rect x="162.5" y="95" width="20.4" height="2.9" fill="#a8ff57"/><rect x="182.5" y="95" width="2.9" height="2.9" fill="#b5ff4a"/><rect x="185" y="95" width="2.9" height="2.9" fill="#c1ff3e"/><rect x="187.5" y="95" width="5.4" height="2.9" fill="#b5ff4a"/><rect x="192.5" y="95" width="2.9" height="2.9" fill="#9cff63"/><rect x="195" y="95" width="2.9" height="2.9" fill="#90ff6f"/><rect x="197.5" y="95" width="2.9" height="2.9" fill="#84ff7b"/><rect x="200" y="95" width="2.9" height="2.9" fill="#77ff88"/><rect x="202.5" y="95" width="2.9" height="2.9" fill="#84ff7b"/><rect x="205" y="95" width="2.9" height="2.9" fill="#a8ff57"/><rect x="207.5" y="95" width="2.9" height="2.9" fill="#c1ff3e"/><rect x="210" y="95" width="2.9" height="2.9" fill="#fff400"/><rect x="212.5" y="95" width="2.9" height="2.9" fill="#ffb700"/><rect x="215" y="95" width="2.9" height="2.9" fill="#ff9e00"/><rect x="217.5" y="95" width="2.9" height="2.9" fill="#ff9200"/><rect x="220" y="95" width="2.9" height="2.9" fill="#ff8600"/><rect x="222.5" y="95" width="2.9" height="2.9" fill="#ff9200"/><rect x="225" y="95" width="5.4" height="2.9" fill="#ff8600"/><rect x="230" y="95" width="2.9" height="2.9" fill="#ff6d00"/><rect x="232.5" y="95" width="2.9" height="2.9" fill="#ff6100"/><rect x="235" y="95" width="2.9" height="2.9" fill="#ff6d00"/><rect x="237.5" y="95" width="2.9" height="2.9" fill="#ff8600"/><rect x="162.5" y="97.5" width="22.9" height="2.9" fill="#b5ff4a"/><rect x="185" y="97.5" width="2.9" height="2.9" fill="#c1ff3e"/><rect x="187.5" y="97.5" width="5.4" height="2.9" fill="#b5ff4a"/><rect x="192.5" y="97.5" width="2.9" height="2.9" fill="#9cff63"/><rect x="195" y="97.5" width="2.9" height="2.9" fill="#84ff7b"/><rect x="197.5" y="97.5" width="2.9" height="2.9" fill="#6bff94"/><rect x="200" y="97.5" width="5.4" height="2.9" fill="#46ffb9"/><rect x="205" y="97.5" width="2.9" height="2.9" fill="#b5ff4a"/><rect x="207.5" y="97.5" width="2.9" height="2.9" fill="#c1ff3e"/><rect x="210" y="97.5" width="2.9" height="2.9" fill="#f2ff0d"/><rect x="212.5" y="97.5" width="2.9" height="2.9" fill="#ffaa00"/><rect x="215" y="97.5" width="2.9" height="2.9" fill="#ff9200"/><rect x="217.5" y="97.5" width="7.9" height="2.9" fill="#ff8600"/><rect x="225" y="97.5" width="7.9" height="2.9" fill="#ff7900"/><rect x="232.5" y="97.5" width="2.9" height="2.9" fill="#ff6d00"/><rect x="235" y="97.5" width="2.9" height="2.9" fill="#ff7900"/><rect x="237.5" y="97.5" width="2.9" height="2.9" fill="#ff8600"/><rect x="162.5" y="100" width="30.4" height="2.9" fill="#b5ff4a"/><rect x="192.5" y="100" width="2.9" height="2.9" fill="#a8ff57"/><rect x="195" y="100" width="2.9" height="2.9" fill="#90ff6f"/><rect x="197.5" y="100" width="2.9" height="2.9" fill="#6bff94"/><rect x="200" y="100" width="5.4" height="2.9" fill="#46ffb9"/><rect x="205" y="100" width="2.9" height="2.9" fill="#a8ff57"/><rect x="207.5" y="100" width="2.9" height="2.9" fill="#cdff32"/><rect x="210" y="100" width="2.9" height="2.9" fill="#ffcf00"/><rect x="212.5" y="100" width="2.9" height="2.9" fill="#ffb700"/><rect x="215" y="100" width="2.9" height="2.9" fill="#ff8600"/><rect x="217.5" y="100" width="5.4" height="2.9" fill="#ff7900"/><rect x="222.5" y="100" width="2.9" height="2.9" fill="#ff6d00"/><rect x="225" y="100" width="7.9" height="2.9" fill="#ff7900"/><rect x="232.5" y="100" width="5.4" height="2.9" fill="#ff8600"/><rect x="237.5" y="100" width="2.9" height="2.9" fill="#ff9200"/><rect x="162.5" y="102.5" width="30.4" height="2.9" fill="#b5ff4a"/><rect x="192.5" y="102.5" width="2.9" height="2.9" fill="#a8ff57"/><rect x="195" y="102.5" width="2.9" height="2.9" fill="#9cff63"/><rect x="197.5" y="102.5" width="2.9" height="2.9" fill="#90ff6f"/><rect x="200" y="102.5" width="2.9" height="2.9" fill="#77ff88"/><rect x="202.5" y="102.5" width="2.9" height="2.9" fill="#84ff7b"/><rect x="205" y="102.5" width="2.9" height="2.9" fill="#cdff32"/><rect x="207.5" y="102.5" width="2.9" height="2.9" fill="#feff01"/><rect x="210" y="102.5" width="5.4" height="2.9" fill="#ffb700"/><rect x="215" y="102.5" width="2.9" height="2.9" fill="#ff9200"/><rect x="217.5" y="102.5" width="5.4" height="2.9" fill="#ff7900"/><rect x="222.5" y="102.5" width="5.4" height="2.9" fill="#ff6d00"/><rect x="227.5" y="102.5" width="7.9" height="2.9" fill="#ff8600"/><rect x="235" y="102.5" width="5.4" height="2.9" fill="#ff9200"/><rect x="162.5" y="105" width="12.9" height="2.9" fill="#b5ff4a"/><rect x="175" y="105" width="12.9" height="2.9" fill="#c1ff3e"/><rect x="187.5" y="105" width="12.9" height="2.9" fill="#b5ff4a"/><rect x="200" y="105" width="2.9" height="2.9" fill="#c1ff3e"/><rect x="202.5" y="105" width="2.9" height="2.9" fill="#cdff32"/><rect x="205" y="105" width="2.9" height="2.9" fill="#f2ff0d"/><rect x="207.5" y="105" width="2.9" height="2.9" fill="#feff01"/><rect x="210" y="105" width="2.9" height="2.9" fill="#fff400"/><rect x="212.5" y="105" width="2.9" height="2.9" fill="#ffaa00"/><rect x="215" y="105" width="7.9" height="2.9" fill="#ff8600"/><rect x="222.5" y="105" width="2.9" height="2.9" fill="#ff7900"/><rect x="225" y="105" width="5.4" height="2.9" fill="#ff9200"/><rect x="230" y="105" width="2.9" height="2.9" fill="#ff8600"/><rect x="232.5" y="105" width="5.4" height="2.9" fill="#ff9200"/><rect x="237.5" y="105" width="2.9" height="2.9" fill="#ff9e00"/><rect x="162.5" y="107.5" width="10.4" height="2.9" fill="#b5ff4a"/><rect x="172.5" y="107.5" width="27.9" height="2.9" fill="#c1ff3e"/><rect x="200" y="107.5" width="5.4" height="2.9" fill="#cdff32"/><rect x="205" y="107.5" width="2.9" height="2.9" fill="#d9ff26"/><rect x="207.5" y="107.5" width="2.9" height="2.9" fill="#feff01"/><rect x="210" y="107.5" width="2.9" height="2.9" fill="#ffcf00"/><rect x="212.5" y="107.5" width="5.4" height="2.9" fill="#ff6100"/><rect x="217.5" y="107.5" width="2.9" height="2.9" fill="#ff7900"/><rect x="220" y="107.5" width="2.9" height="2.9" fill="#ff8600"/><rect x="222.5" y="107.5" width="2.9" height="2.9" fill="#ff9200"/><rect x="225" y="107.5" width="2.9" height="2.9" fill="#ffaa00"/><rect x="227.5" y="107.5" width="2.9" height="2.9" fill="#ff9e00"/><rect x="230" y="107.5" width="2.9" height="2.9" fill="#ff8600"/><rect x="232.5" y="107.5" width="7.9" height="2.9" fill="#ff9e00"/><rect x="162.5" y="110" width="7.9" height="2.9" fill="#b5ff4a"/><rect x="170" y="110" width="20.4" height="2.9" fill="#c1ff3e"/><rect x="190" y="110" width="15.4" height="2.9" fill="#cdff32"/><rect x="205" y="110" width="2.9" height="2.9" fill="#d9ff26"/><rect x="207.5" y="110" width="2.9" height="2.9" fill="#ffe800"/><rect x="210" y="110" width="2.9" height="2.9" fill="#ff9e00"/><rect x="212.5" y="110" width="5.4" height="2.9" fill="#ff6100"/><rect x="217.5" y="110" width="2.9" height="2.9" fill="#ff7900"/><rect x="220" y="110" width="5.4" height="2.9" fill="#ff8600"/><rect x="225" y="110" width="5.4" height="2.9" fill="#ff9e00"/><rect x="230" y="110" width="7.9" height="2.9" fill="#ffaa00"/><rect x="237.5" y="110" width="2.9" height="2.9" fill="#ff9e00"/><rect x="162.5" y="112.5" width="7.9" height="2.9" fill="#b5ff4a"/><rect x="170" y="112.5" width="17.9" height="2.9" fill="#c1ff3e"/><rect x="187.5" y="112.5" width="15.4" height="2.9" fill="#cdff32"/><rect x="202.5" y="112.5" width="2.9" height="2.9" fill="#d9ff26"/><rect x="205" y="112.5" width="2.9" height="2.9" fill="#f2ff0d"/><rect x="207.5" y="112.5" width="2.9" height="2.9" fill="#ffdb00"/><rect x="210" y="112.5" width="2.9" height="2.9" fill="#ff9e00"/><rect x="212.5" y="112.5" width="5.4" height="2.9" fill="#ff7900"/><rect x="217.5" y="112.5" width="5.4" height="2.9" fill="#ff8600"/><rect x="222.5" y="112.5" width="5.4" height="2.9" fill="#ff9200"/><rect x="227.5" y="112.5" width="2.9" height="2.9" fill="#ff9e00"/><rect x="230" y="112.5" width="10.4" height="2.9" fill="#ffaa00"/><rect x="162.5" y="115" width="5.4" height="2.9" fill="#b5ff4a"/><rect x="167.5" y="115" width="17.9" height="2.9" fill="#c1ff3e"/><rect x="185" y="115" width="7.9" height="2.9" fill="#cdff32"/><rect x="192.5" y="115" width="10.4" height="2.9" fill="#d9ff26"/><rect x="202.5" y="115" width="2.9" height="2.9" fill="#e5ff1a"/><rect x="205" y="115" width="2.9" height="2.9" fill="#feff01"/><rect x="207.5" y="115" width="2.9" height="2.9" fill="#ffdb00"/><rect x="210" y="115" width="2.9" height="2.9" fill="#ffb700"/><rect x="212.5" y="115" width="15.4" height="2.9" fill="#ff9200"/><rect x="227.5" y="115" width="2.9" height="2.9" fill="#ff9e00"/><rect x="230" y="115" width="10.4" height="2.9" fill="#ffaa00"/><rect x="162.5" y="117.5" width="5.4" height="2.9" fill="#b5ff4a"/><rect x="167.5" y="117.5" width="15.4" height="2.9" fill="#c1ff3e"/><rect x="182.5" y="117.5" width="7.9" height="2.9" fill="#cdff32"/><rect x="190" y="117.5" width="5.4" height="2.9" fill="#d9ff26"/><rect x="195" y="117.5" width="5.4" height="2.9" fill="#e5ff1a"/><rect x="200" y="117.5" width="2.9" height="2.9" fill="#f2ff0d"/><rect x="202.5" y="117.5" width="2.9" height="2.9" fill="#feff01"/><rect x="205" y="117.5" width="2.9" height="2.9" fill="#fff400"/><rect x="207.5" y="117.5" width="2.9" height="2.9" fill="#ffdb00"/><rect x="210" y="117.5" width="2.9" height="2.9" fill="#ffb700"/><rect x="212.5" y="117.5" width="2.9" height="2.9" fill="#ffaa00"/><rect x="215" y="117.5" width="5.4" height="2.9" fill="#ff9e00"/><rect x="220" y="117.5" width="5.4" height="2.9" fill="#ff9200"/><rect x="225" y="117.5" width="10.4" height="2.9" fill="#ff9e00"/><rect x="235" y="117.5" width="5.4" height="2.9" fill="#ffaa00"/></g></g>
<use href="#st"/><use href="#bl"/>
</g>
<rect x="1285.65" y="483.45" width="22.90" height="218.90" fill="url(#jet)" stroke="#1a1a1a" stroke-width="0.9"/>
<path d="M1308.50 516.30h-2.6" stroke="#1a1a1a" stroke-width="0.8"/>
<text class="t" x="1316.80" y="523.70">300</text>
<path d="M1308.50 587.40h-2.6" stroke="#1a1a1a" stroke-width="0.8"/>
<text class="t" x="1316.80" y="594.80">280</text>
<path d="M1308.50 658.50h-2.6" stroke="#1a1a1a" stroke-width="0.8"/>
<text class="t" x="1316.80" y="665.90">260</text>
<text class="l" x="987.95" y="501.90">48</text>
<text class="l" x="1017.25" y="501.90">N</text>
<text class="d" transform="translate(1009.75,489.30) scale(1.28,.92)" y="5.16">°</text>
<text class="l" x="987.95" y="520.40">46</text>
<text class="l" x="1017.25" y="520.40">N</text>
<text class="d" transform="translate(1009.75,507.80) scale(1.28,.92)" y="5.16">°</text>
<text class="l" x="987.95" y="537.30">44</text>
<text class="l" x="1017.25" y="537.30">N</text>
<text class="d" transform="translate(1009.75,524.70) scale(1.28,.92)" y="5.16">°</text>
<text class="l" x="987.95" y="555.40">42</text>
<text class="l" x="1017.25" y="555.40">N</text>
<text class="d" transform="translate(1009.75,542.80) scale(1.28,.92)" y="5.16">°</text>
<text class="l" x="987.95" y="572.20">40</text>
<text class="l" x="1017.25" y="572.20">N</text>
<text class="d" transform="translate(1009.75,559.60) scale(1.28,.92)" y="5.16">°</text>
<text class="l" x="987.95" y="587.70">38</text>
<text class="l" x="1017.25" y="587.70">N</text>
<text class="d" transform="translate(1009.75,575.10) scale(1.28,.92)" y="5.16">°</text>
<text class="l" x="987.95" y="603.70">36</text>
<text class="l" x="1017.25" y="603.70">N</text>
<text class="d" transform="translate(1009.75,591.10) scale(1.28,.92)" y="5.16">°</text>
<text class="l" x="987.95" y="618.15">34</text>
<text class="l" x="1017.25" y="618.15">N</text>
<text class="d" transform="translate(1009.75,605.55) scale(1.28,.92)" y="5.16">°</text>
<text class="l" x="987.95" y="634.50">32</text>
<text class="l" x="1017.25" y="634.50">N</text>
<text class="d" transform="translate(1009.75,621.90) scale(1.28,.92)" y="5.16">°</text>
<text class="l" x="987.95" y="649.05">30</text>
<text class="l" x="1017.25" y="649.05">N</text>
<text class="d" transform="translate(1009.75,636.45) scale(1.28,.92)" y="5.16">°</text>
<text class="l" x="987.95" y="664.25">28</text>
<text class="l" x="1017.25" y="664.25">N</text>
<text class="d" transform="translate(1009.75,651.65) scale(1.28,.92)" y="5.16">°</text>
<text class="l" x="987.95" y="678.70">26</text>
<text class="l" x="1017.25" y="678.70">N</text>
<text class="d" transform="translate(1009.75,666.10) scale(1.28,.92)" y="5.16">°</text>
<text class="l" x="987.95" y="691.00">24</text>
<text class="l" x="1017.25" y="691.00">N</text>
<text class="d" transform="translate(1009.75,678.40) scale(1.28,.92)" y="5.16">°</text>
<text class="l" x="987.95" y="705.60">22</text>
<text class="l" x="1017.25" y="705.60">N</text>
<text class="d" transform="translate(1009.75,693.00) scale(1.28,.92)" y="5.16">°</text>
<text class="l" x="1058.35" y="465.25">100</text>
<text class="l" x="1095.75" y="465.25">W</text>
<text class="d" transform="translate(1087.45,453.35) scale(1.28,.92)" y="5.16">°</text>
<text class="l" x="1127.35" y="465.25">90</text>
<text class="l" x="1157.15" y="465.25">W</text>
<text class="d" transform="translate(1148.05,453.35) scale(1.28,.92)" y="5.16">°</text>
<text class="l" x="1190.95" y="465.25">80</text>
<text class="l" x="1220.75" y="465.25">W</text>
<text class="d" transform="translate(1213.45,453.35) scale(1.28,.92)" y="5.16">°</text>
<text class="l" x="1254.35" y="465.25">70</text>
<text class="l" x="1283.75" y="465.25">W</text>
<text class="d" transform="translate(1275.45,453.35) scale(1.28,.92)" y="5.16">°</text>
<text class="b" x="1150.80" y="732.30" font-size="23" text-anchor="middle" textLength="385.8" lengthAdjust="spacing">Surface Skin Temperature (K)</text>
</svg></body></html>
